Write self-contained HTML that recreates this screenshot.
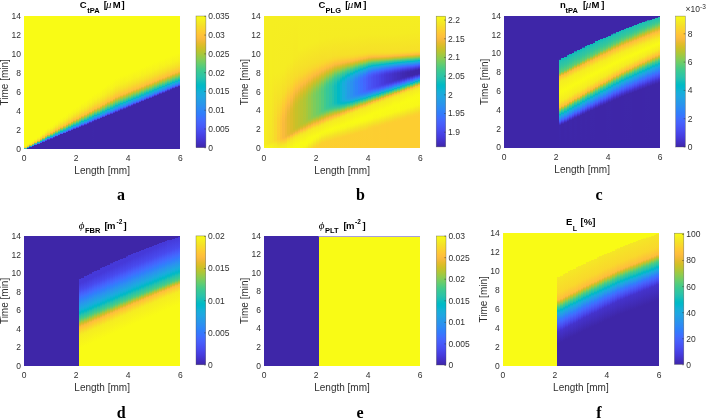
<!DOCTYPE html><html><head><meta charset="utf-8"><style>html,body{margin:0;padding:0;background:#fff;width:708px;height:418px;overflow:hidden;}svg text{font-family:'Liberation Sans',sans-serif}.hm{position:absolute;overflow:hidden}.hb{position:absolute}.hm i{position:absolute;top:0;height:100%}</style></head><body><div class="hm" style="left:24.00px;top:16.00px;width:156.30px;height:132.60px"><div class="hb" style="left:-3px;top:-3px;width:162.30px;height:138.60px"><i style="left:0.00px;width:6.41px;background:linear-gradient(#f9fb15 2.165%,#f9fb15 95.38%,#f6f020 96.1%,#f6e128 96.46%,#febe3c 96.94%,#dfbc2a 97.06%,#b3c534 97.18%,#7fcc5a 97.3%,#48cb86 97.42%,#22c1b0 97.54%,#0ab4d2 97.66%,#259ce7 97.78%,#259ce7 97.84%)"></i><i style="left:5.61px;width:3.41px;background:linear-gradient(#f9fb15 2.165%,#f9fb15 94.31%,#f6f11f 95.03%,#f6de29 95.5%,#fec13a 95.98%,#ebba32 96.1%,#c8c129 96.22%,#9dc943 96.34%,#6ecd67 96.46%,#3eca8f 96.58%,#1ec0b2 96.7%,#07b5cf 96.82%,#22a1e4 96.94%,#2d89f5 97.06%,#4562fc 97.18%,#4434ce 97.3%,#3e26a8 97.42%,#3e26a8 97.84%)"></i><i style="left:8.21px;width:3.40px;background:linear-gradient(#f9fb15 2.165%,#f9fb15 93.11%,#f6f21e 93.95%,#f5e227 94.43%,#fec239 95.03%,#f4ba39 95.14%,#d7be28 95.26%,#b4c533 95.38%,#62cd71 95.62%,#39c895 95.74%,#1cc0b4 95.86%,#05b6ce 95.98%,#20a5e2 96.1%,#2c90f0 96.22%,#3876fe 96.34%,#484aed 96.46%,#3e26a8 96.58%,#3e26a8 97.84%)"></i><i style="left:10.81px;width:3.41px;background:linear-gradient(#f9fb15 2.165%,#f9fb15 92.04%,#f7f41c 92.75%,#f5e825 93.23%,#f6e128 93.47%,#fec934 93.95%,#fec338 94.07%,#f9bb3d 94.19%,#e2bc2c 94.31%,#c5c22a 94.43%,#a3c83f 94.55%,#58cc79 94.79%,#35c79a 94.91%,#1abfb5 95.03%,#04b6cd 95.14%,#1ea8e0 95.26%,#2f80fa 95.5%,#475dfa 95.62%,#4537d5 95.74%,#3e26a8 95.86%,#3e26a8 97.84%)"></i><i style="left:13.42px;width:3.40px;background:linear-gradient(#f9fb15 2.165%,#f9fb15 90.6%,#f6f11f 91.68%,#f6de29 92.39%,#fdce31 92.75%,#febd3c 93.11%,#edba33 93.23%,#d6be28 93.35%,#bcc42f 93.47%,#9dc943 93.59%,#5dcc75 93.83%,#3cc991 93.95%,#29c3aa 94.07%,#07bcbf 94.19%,#0db3d3 94.31%,#1fa5e2 94.43%,#2895ec 94.55%,#2e84f9 94.67%,#4368fe 94.79%,#4747eb 94.91%,#402ab3 95.03%,#3e26a8 95.14%,#3e26a8 97.84%)"></i><i style="left:16.02px;width:3.41px;background:linear-gradient(#f9fb15 2.165%,#f9fb15 89.05%,#f7f31d 90.12%,#f5e128 90.96%,#fec13a 91.92%,#f6ba3b 92.04%,#e5bb2d 92.16%,#d1bf27 92.27%,#bac430 92.39%,#a1c840 92.51%,#6bcd69 92.75%,#37c897 92.99%,#28c2ab 93.11%,#0bbdbd 93.23%,#05b6cd 93.35%,#1aacdd 93.47%,#2b92ee 93.71%,#2e83f9 93.83%,#406dfe 93.95%,#4851f3 94.07%,#4536d4 94.19%,#3e26a8 94.31%,#3e26a8 97.84%)"></i><i style="left:18.63px;width:3.41px;background:linear-gradient(#f9fb15 2.165%,#f9fb15 87.37%,#f7f41c 88.57%,#f5e327 89.52%,#fec834 90.48%,#fec239 90.72%,#fabc3d 90.84%,#debc2a 91.08%,#cdc028 91.2%,#b9c431 91.32%,#a3c83f 91.44%,#5fcd73 91.8%,#46cb87 91.92%,#27c2ac 92.16%,#0ebdbb 92.27%,#01b8c9 92.39%,#13b0d7 92.51%,#1ea6e1 92.63%,#2c8ff0 92.87%,#2e83f9 92.99%,#3d70ff 93.11%,#4758f8 93.23%,#4740e4 93.35%,#412dbc 93.47%,#3e26a8 93.59%,#3e26a8 97.84%)"></i><i style="left:21.23px;width:3.41px;background:linear-gradient(#f9fb15 2.165%,#f9fb15 85.7%,#f7f41c 87.13%,#f5e924 87.85%,#f6df29 88.45%,#fdcb32 89.17%,#fdbd3d 89.64%,#f4ba3a 89.76%,#e8bb2e 89.88%,#d9bd28 90%,#c9c129 90.12%,#b8c431 90.24%,#7dcc5b 90.6%,#56cc7b 90.84%,#40ca8d 90.96%,#26c2ac 91.2%,#11beba 91.32%,#01b9c6 91.44%,#1aabdd 91.68%,#2c8ef2 92.04%,#2f82f9 92.16%,#3a73fe 92.27%,#465dfb 92.39%,#4849ed 92.51%,#4535d2 92.63%,#3e26a8 92.75%,#3e26a8 97.84%)"></i><i style="left:23.84px;width:3.41px;background:linear-gradient(#f9fb15 2.165%,#f9fb15 84.02%,#f6f01f 85.94%,#f6df29 87.13%,#febf3b 88.45%,#f9ba3d 88.57%,#e2bc2b 88.81%,#d5be28 88.93%,#c7c12a 89.05%,#b7c532 89.17%,#60cd72 89.76%,#3cc992 90%,#31c6a0 90.12%,#26c2ad 90.24%,#02bac4 90.48%,#06b5cf 90.6%,#16afd9 90.72%,#1ea7e1 90.84%,#2d8cf3 91.2%,#2f82f9 91.32%,#3875fe 91.44%,#4562fc 91.56%,#484ff2 91.68%,#463de0 91.8%,#422ec0 91.92%,#3e26a8 92.04%,#3e26a8 97.84%)"></i><i style="left:26.45px;width:3.41px;background:linear-gradient(#f9fb15 2.165%,#f9fb15 82.59%,#f6f01f 84.62%,#f6df29 85.94%,#fec03b 87.37%,#fabb3d 87.49%,#dabd28 87.85%,#cdc028 87.97%,#c0c32d 88.09%,#a1c840 88.33%,#60cd72 88.81%,#3eca8f 89.05%,#2ac3a9 89.28%,#08bcbf 89.52%,#01b8c9 89.64%,#19addc 89.88%,#2d8df3 90.36%,#3579fd 90.6%,#4367fd 90.72%,#4756f6 90.84%,#4745e9 90.96%,#4535d2 91.08%,#3e27aa 91.2%,#3e26a8 97.84%)"></i><i style="left:29.05px;width:3.40px;background:linear-gradient(#f9fb15 2.165%,#f9fb15 81.15%,#f7f41c 83.07%,#f5e924 84.02%,#f6e028 84.74%,#feca33 85.82%,#fbbc3d 86.41%,#f4ba39 86.53%,#ebba31 86.65%,#d5be28 86.89%,#bbc42f 87.13%,#9ec942 87.37%,#61cd71 87.85%,#41ca8c 88.09%,#23c1af 88.45%,#02bbc3 88.69%,#03b7cc 88.81%,#1aabdd 89.05%,#2895ec 89.4%,#327cfc 89.76%,#416cfe 89.88%,#475bfa 90%,#484cef 90.12%,#463cdf 90.24%,#3e26a8 90.48%,#3e26a8 97.84%)"></i><i style="left:31.66px;width:3.40px;background:linear-gradient(#f9fb15 2.165%,#f9fb15 79.84%,#f7f31d 81.87%,#f5e924 82.83%,#f6e028 83.54%,#feca33 84.74%,#fdbd3d 85.34%,#f7ba3c 85.46%,#dbbd29 85.82%,#c4c22b 86.06%,#aac73a 86.3%,#63cd70 86.89%,#39c895 87.25%,#28c3ab 87.49%,#0abdbd 87.73%,#01b9c6 87.85%,#06b5cf 87.97%,#14b0d8 88.09%,#1caadf 88.21%,#2c8ef2 88.69%,#317dfc 88.93%,#3d70ff 89.05%,#4661fc 89.17%,#4852f4 89.28%,#4743e7 89.4%,#4536d3 89.52%,#402ab5 89.64%,#3e26a8 89.76%,#3e26a8 97.84%)"></i><i style="left:34.26px;width:3.41px;background:linear-gradient(#f9fb15 2.165%,#f9fb15 78.4%,#f7f31c 80.55%,#f5ea24 81.51%,#f6df29 82.47%,#febe3c 84.26%,#f9bb3d 84.38%,#e0bc2a 84.74%,#d6be28 84.86%,#c0c32d 85.1%,#9ac945 85.46%,#58cc79 86.06%,#3cc992 86.3%,#22c1b0 86.65%,#04bbc1 86.89%,#01b8ca 87.01%,#16afda 87.25%,#1da9e0 87.37%,#2e87f7 87.97%,#307ffb 88.09%,#4465fd 88.33%,#4849ed 88.57%,#463cde 88.69%,#3e26a8 88.93%,#3e26a8 97.84%)"></i><i style="left:36.87px;width:3.40px;background:linear-gradient(#f9fb15 2.165%,#f9fb15 76.97%,#f6ef20 79.72%,#f6e028 81.27%,#fec03b 83.19%,#f4ba3a 83.43%,#dbbd29 83.78%,#d2bf27 83.9%,#bcc42f 84.14%,#a5c83e 84.38%,#5acc78 85.1%,#3eca8f 85.34%,#27c2ac 85.7%,#0bbdbd 85.94%,#02bac5 86.06%,#03b6cc 86.18%,#18addb 86.41%,#2895ec 86.89%,#2f80fa 87.25%,#3677fe 87.37%,#4269fe 87.49%,#475cfa 87.61%,#4742e6 87.85%,#4536d3 87.97%,#412cba 88.09%,#3e26a8 88.21%,#3e26a8 97.84%)"></i><i style="left:39.47px;width:3.41px;background:linear-gradient(#f9fb15 2.165%,#f9fb15 75.65%,#f7f31d 78.04%,#f5e825 79.24%,#f6e028 80.08%,#feca34 81.51%,#fcbd3d 82.23%,#f7ba3c 82.35%,#e0bc2a 82.71%,#cec028 82.95%,#c4c22b 83.07%,#a2c83f 83.43%,#5bcc76 84.14%,#41ca8c 84.38%,#2bc3a8 84.74%,#06bcc0 85.1%,#01b9c8 85.22%,#06b5cf 85.34%,#19acdc 85.58%,#2895ec 86.06%,#337afd 86.53%,#406dfe 86.65%,#4854f5 86.89%,#463bdd 87.13%,#4331c8 87.25%,#3e26a8 87.37%,#3e26a8 97.84%)"></i><i style="left:42.08px;width:3.40px;background:linear-gradient(#f9fb15 2.165%,#f9fb15 74.22%,#f7f31c 76.73%,#f5e924 77.92%,#f6df29 79%,#fec934 80.44%,#fdbd3d 81.15%,#f9bb3d 81.27%,#dcbd29 81.75%,#d3bf27 81.87%,#c0c32d 82.11%,#a0c841 82.47%,#5dcc75 83.19%,#3ac993 83.54%,#26c2ad 83.9%,#02bac3 84.26%,#01b8ca 84.38%,#1aabdd 84.74%,#259be8 85.1%,#327cfc 85.7%,#3d70ff 85.82%,#4758f8 86.06%,#4741e5 86.3%,#4536d4 86.41%,#3e26a8 86.65%,#3e26a8 97.84%)"></i><i style="left:44.68px;width:3.40px;background:linear-gradient(#f9fb15 2.165%,#f9fb15 72.78%,#f7f41c 75.41%,#f5ee21 76.13%,#f6e028 77.8%,#febe3c 80.08%,#f5ba3a 80.32%,#e7bb2e 80.55%,#d8be28 80.79%,#cfc028 80.91%,#bdc32e 81.15%,#9fc942 81.51%,#5ecd74 82.23%,#3dc991 82.59%,#29c3aa 82.95%,#07bcbf 83.31%,#01b9c6 83.43%,#04b6cc 83.54%,#1baade 83.9%,#2c8ff0 84.5%,#317dfc 84.86%,#4367fd 85.1%,#475cfa 85.22%,#4746ea 85.46%,#463bdd 85.58%,#4332c9 85.7%,#3f28af 85.82%,#3e26a8 85.94%,#3e26a8 97.84%)"></i><i style="left:47.28px;width:3.41px;background:linear-gradient(#f9fb15 2.165%,#f9fb15 71.35%,#f6f020 74.7%,#f6e028 76.61%,#febf3b 79%,#f7ba3c 79.24%,#dcbd29 79.72%,#c3c22b 80.08%,#9dc943 80.55%,#55cc7b 81.39%,#3fca8e 81.63%,#25c2ae 82.11%,#03bbc2 82.47%,#01b8c8 82.59%,#06b5cf 82.71%,#18aedb 82.95%,#2c90f0 83.66%,#317efb 84.02%,#416bfe 84.26%,#4755f6 84.5%,#4740e3 84.74%,#4536d4 84.86%,#3e26a8 85.1%,#3e26a8 97.84%)"></i><i style="left:49.89px;width:3.40px;background:linear-gradient(#f9fb15 2.165%,#f9fb15 70.03%,#f7f31d 73.02%,#f6e128 75.41%,#fec03a 77.92%,#f9ba3d 78.16%,#e7bb2e 78.52%,#d9be28 78.76%,#c0c32d 79.12%,#9bc944 79.6%,#57cc7a 80.44%,#41ca8c 80.67%,#28c3ab 81.15%,#09bcbe 81.51%,#02bac5 81.63%,#02b7cb 81.75%,#19addc 82.11%,#2895ec 82.71%,#307ffb 83.19%,#3579fd 83.31%,#3f6efe 83.43%,#4759f8 83.66%,#4745e9 83.9%,#463bdc 84.02%,#402bb6 84.26%,#3e26a8 84.38%,#3e26a8 97.84%)"></i><i style="left:52.49px;width:3.41px;background:linear-gradient(#f9fb15 2.165%,#f9fb15 68.6%,#f7f31c 71.71%,#f5ee21 72.42%,#f6e028 74.34%,#febe3c 76.97%,#f6ba3c 77.21%,#e4bb2c 77.57%,#d7be28 77.8%,#bfc32d 78.16%,#9cc944 78.64%,#5acc77 79.48%,#3cc991 79.84%,#25c2ae 80.32%,#06bcc0 80.67%,#01b9c6 80.79%,#03b7cc 80.91%,#19acdc 81.27%,#2b90ef 81.99%,#2f81fa 82.35%,#337bfc 82.47%,#3d71ff 82.59%,#4466fd 82.71%,#4853f5 82.95%,#473fe3 83.19%,#422fc2 83.43%,#3e26a8 83.54%,#3e26a8 97.84%)"></i><i style="left:55.10px;width:3.40px;background:linear-gradient(#f9fb15 2.165%,#f9fb15 67.28%,#f7f31c 70.51%,#f6e028 73.26%,#fec03b 75.89%,#f9bb3d 76.13%,#dcbd29 76.73%,#cdc028 76.97%,#bec32e 77.21%,#9cc944 77.68%,#5ccc75 78.52%,#3fca8e 78.88%,#28c3aa 79.36%,#03bbc2 79.84%,#01b8c8 79.96%,#05b6cd 80.08%,#1aacdd 80.44%,#2b91ef 81.15%,#327cfc 81.63%,#426afe 81.87%,#4756f7 82.11%,#4744e8 82.35%,#463bdc 82.47%,#3e26a8 82.83%,#3e26a8 97.84%)"></i><i style="left:57.70px;width:3.41px;background:linear-gradient(#f9fb15 2.165%,#f9fb15 65.97%,#f7f31d 69.31%,#f5ea24 70.75%,#f6df29 72.18%,#febe3c 74.93%,#f7ba3c 75.17%,#e6bb2d 75.53%,#dabd28 75.77%,#c5c22a 76.13%,#a4c83e 76.61%,#5ecd74 77.57%,#42ca8b 77.92%,#25c2ad 78.52%,#02bac4 79%,#01b8ca 79.12%,#1aabdd 79.6%,#2896eb 80.2%,#317dfb 80.79%,#406cfe 81.03%,#475af9 81.27%,#4848ec 81.51%,#4537d5 81.75%,#4230c4 81.87%,#3e27ac 81.99%,#3e26a8 82.11%,#3e26a8 97.84%)"></i><i style="left:60.31px;width:3.40px;background:linear-gradient(#f9fb15 2.165%,#f9fb15 64.65%,#f6ef20 68.72%,#f6e028 70.99%,#fec03b 73.86%,#f9bb3d 74.1%,#e4bb2c 74.58%,#d8be28 74.81%,#c3c22b 75.17%,#a4c83e 75.65%,#59cc79 76.73%,#3dc990 77.09%,#29c3aa 77.57%,#06bcc0 78.04%,#01b9c6 78.16%,#02b7cb 78.28%,#1babde 78.76%,#2796eb 79.36%,#307ffb 79.96%,#3e6fff 80.2%,#465dfa 80.44%,#4743e7 80.79%,#4433cd 81.03%,#3e26a8 81.27%,#3e26a8 97.84%)"></i><i style="left:62.91px;width:3.40px;background:linear-gradient(#f9fb15 2.165%,#f9fb15 63.33%,#f7f31c 66.8%,#f5e924 68.48%,#f6e029 69.91%,#febe3c 72.9%,#f7ba3c 73.14%,#dcbd29 73.74%,#d0bf27 73.98%,#c2c22c 74.22%,#9cc944 74.81%,#5bcc77 75.77%,#40ca8d 76.13%,#26c2ad 76.73%,#0abdbd 77.09%,#03bbc2 77.21%,#01b9c7 77.33%,#03b7cc 77.45%,#12b1d6 77.68%,#1baade 77.92%,#2c8ef2 78.76%,#337bfd 79.24%,#4269fe 79.48%,#484ff2 79.84%,#473ee2 80.08%,#4537d5 80.2%,#3f29b2 80.44%,#3e26a8 80.55%,#3e26a8 97.84%)"></i><i style="left:65.52px;width:3.41px;background:linear-gradient(#f9fb15 2.165%,#f9fb15 61.9%,#f6ef20 66.32%,#f6e028 68.72%,#febf3b 71.82%,#f9bb3d 72.06%,#dbbd28 72.78%,#cec028 73.02%,#c1c32c 73.26%,#9cc944 73.86%,#5dcc75 74.81%,#3cc991 75.29%,#23c1af 75.89%,#02bac4 76.37%,#05b6cd 76.61%,#18addb 76.97%,#2797eb 77.68%,#327cfc 78.4%,#416cfe 78.64%,#4853f5 79%,#4742e6 79.24%,#4434ce 79.48%,#412ebe 79.6%,#3e26a8 79.72%,#3e26a8 97.84%)"></i><i style="left:68.12px;width:3.41px;background:linear-gradient(#f9fb15 2.165%,#f9fb15 60.58%,#f7f31d 64.41%,#f5e924 66.2%,#f6e028 67.64%,#febe3c 70.87%,#f7ba3d 71.11%,#e4bb2c 71.59%,#d9be28 71.82%,#c0c32d 72.3%,#9cc944 72.9%,#58cc79 73.98%,#3eca8f 74.34%,#26c2ac 74.93%,#0dbdbc 75.29%,#01bac5 75.53%,#01b8ca 75.65%,#19addc 76.13%,#2797eb 76.85%,#317dfc 77.57%,#3f6eff 77.8%,#465efb 78.04%,#4746ea 78.4%,#4537d6 78.64%,#3e26a8 79%,#3e26a8 97.84%)"></i><i style="left:70.73px;width:3.40px;background:linear-gradient(#f9fb15 2.165%,#f9fb15 59.27%,#f6ef20 63.93%,#f6df29 66.56%,#febf3b 69.79%,#f5ba3b 70.15%,#ddbd29 70.75%,#c5c22a 71.23%,#a3c83f 71.82%,#5acc78 73.02%,#41ca8c 73.38%,#24c1af 74.1%,#0abdbd 74.46%,#01b9c7 74.7%,#02b7cb 74.81%,#19acdc 75.29%,#2c8ff1 76.25%,#317efb 76.73%,#4368fe 77.09%,#4759f8 77.33%,#4742e6 77.68%,#463adc 77.8%,#422ec0 78.04%,#3e27a9 78.16%,#3e26a8 97.84%)"></i><i style="left:73.33px;width:3.41px;background:linear-gradient(#f9fb15 2.165%,#f9fb15 57.95%,#f7f31d 62.02%,#f6e028 65.37%,#fec03a 68.72%,#f8ba3d 69.07%,#efba35 69.31%,#dbbd29 69.79%,#c4c22b 70.27%,#a3c83f 70.87%,#62cd71 71.94%,#3dc990 72.54%,#27c2ac 73.14%,#02bac4 73.74%,#04b6cc 73.98%,#1aacdd 74.46%,#2797eb 75.17%,#307ffb 75.89%,#337bfd 76.01%,#416bfe 76.25%,#4854f5 76.61%,#463ee1 76.97%,#4331c8 77.21%,#3e26a8 77.45%,#3e26a8 97.84%)"></i><i style="left:75.94px;width:3.41px;background:linear-gradient(#f9fb15 2.165%,#f9fb15 56.64%,#f7f31c 60.7%,#f5ee21 61.66%,#f6e028 64.29%,#febf3c 67.76%,#f6ba3b 68.12%,#dabd28 68.84%,#c3c22b 69.31%,#a3c83f 69.91%,#5dcc75 71.11%,#3fca8e 71.59%,#24c1ae 72.3%,#0cbdbc 72.66%,#02bac5 72.9%,#05b6cd 73.14%,#1aabdd 73.62%,#2797eb 74.34%,#327cfc 75.17%,#406dfe 75.41%,#4757f7 75.77%,#4741e5 76.13%,#4434cf 76.37%,#3f28af 76.61%,#3e26a8 76.73%,#3e26a8 97.84%)"></i><i style="left:78.55px;width:3.41px;background:linear-gradient(#f9fb15 2.165%,#f9fb15 55.2%,#f7f31d 59.51%,#f6e028 63.09%,#fec03b 66.68%,#f8ba3d 67.04%,#e7bb2e 67.52%,#d8be28 67.88%,#c2c22c 68.36%,#9cc944 69.07%,#59cc79 70.27%,#42ca8c 70.63%,#27c2ac 71.35%,#09bdbe 71.82%,#01b9c6 72.06%,#01b7ca 72.18%,#1babde 72.78%,#2797ea 73.5%,#317dfc 74.34%,#3e6fff 74.58%,#475af9 74.93%,#4745e9 75.29%,#4537d6 75.53%,#412dbb 75.77%,#3e26a8 75.89%,#3e26a8 97.84%)"></i><i style="left:81.15px;width:3.40px;background:linear-gradient(#f9fb15 2.165%,#f9fb15 53.89%,#f6ef20 59.15%,#f6e028 62.02%,#febf3c 65.73%,#f6ba3b 66.08%,#dcbd29 66.8%,#d2bf27 67.04%,#c1c32c 67.4%,#9cc944 68.12%,#5acc77 69.31%,#3eca8f 69.79%,#25c2ae 70.51%,#02bac3 71.11%,#03b7cb 71.35%,#18addb 71.82%,#2994ed 72.78%,#317efb 73.5%,#426afe 73.86%,#4755f6 74.22%,#4741e5 74.58%,#4435d0 74.81%,#3e26a8 75.17%,#3e26a8 97.84%)"></i><i style="left:83.75px;width:3.41px;background:linear-gradient(#f9fb15 2.165%,#f9fb15 52.57%,#f6ef20 57.95%,#f6e028 60.82%,#febf3b 64.65%,#f8ba3d 65.01%,#f0ba36 65.25%,#dabd28 65.85%,#c6c22a 66.32%,#a2c840 67.04%,#61cd71 68.24%,#3fca8e 68.84%,#27c2ab 69.55%,#0bbdbd 70.03%,#02bac5 70.27%,#04b6cd 70.51%,#19addc 70.99%,#2994ed 71.94%,#307efb 72.66%,#337afd 72.78%,#406cfe 73.02%,#4758f8 73.38%,#4744e8 73.74%,#4332ca 74.1%,#412dbd 74.22%,#3e26a8 74.34%,#3e26a8 97.84%)"></i><i style="left:86.36px;width:3.41px;background:linear-gradient(#f9fb15 2.165%,#f9fb15 51.14%,#f6ef20 56.64%,#f6e028 59.75%,#fec03b 63.57%,#f8ba3d 63.93%,#e5bb2d 64.53%,#d3bf27 65.01%,#c3c22b 65.37%,#acc738 65.85%,#61cd71 67.28%,#41ca8d 67.88%,#24c1ae 68.72%,#03bbc3 69.31%,#01b7ca 69.55%,#19acdc 70.15%,#2797ea 70.99%,#327bfc 71.94%,#3f6eff 72.18%,#4854f5 72.66%,#4740e4 73.02%,#4435d1 73.26%,#3e26a8 73.62%,#3e26a8 97.84%)"></i><i style="left:88.97px;width:3.40px;background:linear-gradient(#f9fb15 2.165%,#f9fb15 49.7%,#f7f41c 54.36%,#f5e924 56.64%,#f6e028 58.55%,#fccf30 60.58%,#febe3c 62.62%,#f9bb3d 62.86%,#eeba34 63.21%,#debd29 63.69%,#d0bf27 64.05%,#c6c22a 64.29%,#aac73a 64.89%,#61cd71 66.32%,#42ca8c 66.92%,#26c2ad 67.76%,#0bbdbd 68.24%,#02bac4 68.48%,#03b7cc 68.72%,#1aabdd 69.31%,#2797eb 70.15%,#327cfc 71.11%,#3e70ff 71.35%,#475cfa 71.71%,#4743e7 72.18%,#4432cb 72.54%,#422ebe 72.66%,#3e28ac 72.78%,#3e26a8 72.9%,#3e26a8 97.84%)"></i><i style="left:91.57px;width:3.41px;background:linear-gradient(#f9fb15 2.165%,#f9fb15 48.27%,#f7f31d 53.17%,#f5e924 55.44%,#f6e028 57.35%,#febe3c 61.54%,#f6ba3c 61.9%,#e4bb2c 62.5%,#d2bf27 62.98%,#c3c22b 63.33%,#aec637 63.81%,#62cd71 65.37%,#3dc990 66.08%,#23c1af 66.92%,#03bbc2 67.52%,#01b8ca 67.76%,#18addb 68.36%,#269ae9 69.19%,#317dfc 70.27%,#3c71ff 70.51%,#465efb 70.87%,#4746ea 71.35%,#4435d1 71.71%,#412cb9 71.94%,#3e26a8 72.06%,#3e26a8 97.84%)"></i><i style="left:94.17px;width:3.41px;background:linear-gradient(#f9fb15 2.165%,#f9fb15 46.83%,#f7f31d 51.85%,#f6e028 56.16%,#fec03a 60.34%,#f7ba3c 60.82%,#e5bb2d 61.42%,#d0c028 62.02%,#c6c22a 62.26%,#acc738 62.86%,#62cd71 64.41%,#3eca8f 65.13%,#25c2ae 65.97%,#0bbdbd 66.44%,#02bac4 66.68%,#02b7cb 66.92%,#1baade 67.64%,#2b91ef 68.72%,#2f81fa 69.31%,#3479fd 69.55%,#3b73fe 69.67%,#4466fd 69.91%,#475af9 70.15%,#4742e6 70.63%,#4537d6 70.87%,#422ec0 71.11%,#3f29b1 71.23%,#3e26a8 71.35%,#3e26a8 97.84%)"></i><i style="left:96.78px;width:3.41px;background:linear-gradient(#f9fb15 2.165%,#f9fb15 45.99%,#f7f31c 51.02%,#f5ef20 52.09%,#f6e028 55.32%,#febf3b 59.63%,#f8ba3d 59.99%,#e7bb2d 60.58%,#d1bf27 61.18%,#c3c22b 61.54%,#a9c73b 62.14%,#64cd6f 63.57%,#40ca8d 64.29%,#22c1b0 65.25%,#03bbc2 65.85%,#01b8ca 66.08%,#17aeda 66.68%,#2798ea 67.64%,#327cfc 68.72%,#3e70ff 68.95%,#4758f8 69.43%,#4740e4 69.91%,#4535d2 70.15%,#412dbb 70.39%,#3e26a8 70.51%,#3e26a8 97.84%)"></i><i style="left:99.39px;width:3.40px;background:linear-gradient(#f9fb15 2.165%,#f9fb15 45.28%,#f6ef20 51.26%,#f6e028 54.6%,#fec03a 58.79%,#f7ba3c 59.27%,#e5bb2d 59.87%,#d0c028 60.46%,#c6c22a 60.7%,#acc738 61.3%,#62cd71 62.86%,#3eca8f 63.57%,#25c2ad 64.41%,#0bbdbd 64.89%,#02bac4 65.13%,#02b7cb 65.37%,#1baade 66.08%,#2b91ef 67.16%,#2f81fa 67.76%,#347afd 68%,#3a74fe 68.12%,#4561fc 68.48%,#4743e7 69.07%,#4433cd 69.43%,#3e26a8 69.79%,#3e26a8 97.84%)"></i><i style="left:101.99px;width:3.41px;background:linear-gradient(#f9fb15 2.165%,#f9fb15 44.44%,#f5ef20 50.54%,#f6e028 53.77%,#febf3b 58.07%,#f9ba3d 58.43%,#e3bc2c 59.15%,#d2bf27 59.63%,#c4c22b 59.99%,#aac73a 60.58%,#65cd6e 62.02%,#41ca8c 62.74%,#23c1af 63.69%,#09bcbe 64.17%,#01bac5 64.41%,#03b6cc 64.65%,#1aacdd 65.25%,#2699e9 66.08%,#327cfc 67.16%,#3c71ff 67.4%,#465efb 67.76%,#4747eb 68.24%,#4536d4 68.6%,#412dbd 68.84%,#3e27ab 68.95%,#3e26a8 69.07%,#3e26a8 97.84%)"></i><i style="left:104.59px;width:3.41px;background:linear-gradient(#f9fb15 2.165%,#f9fb15 43.72%,#f7f31d 48.74%,#f6e028 53.05%,#fec13a 57.24%,#f7ba3d 57.71%,#e6bb2d 58.31%,#d0bf27 58.91%,#c2c22c 59.27%,#adc638 59.75%,#63cd70 61.3%,#3fca8e 62.02%,#26c2ad 62.86%,#02bac3 63.57%,#01b7ca 63.81%,#18addb 64.41%,#2798ea 65.37%,#317efb 66.32%,#3f6eff 66.68%,#475cfa 67.04%,#4744e9 67.52%,#4434cf 67.88%,#402cb8 68.12%,#3e26a8 68.24%,#3e26a8 97.84%)"></i><i style="left:107.20px;width:3.40px;background:linear-gradient(#f9fb15 2.165%,#f9fb15 42.88%,#f7f31d 48.03%,#f6e028 52.21%,#fec13a 56.4%,#f9bb3d 56.88%,#e4bb2c 57.59%,#cec028 58.19%,#c5c22a 58.43%,#abc739 59.03%,#61cd72 60.58%,#3dc990 61.3%,#24c1ae 62.14%,#0abdbe 62.62%,#02bac5 62.86%,#03b7cc 63.09%,#12b1d6 63.45%,#1caadf 63.81%,#2b90ef 64.89%,#2f80fa 65.49%,#3b72ff 65.85%,#4466fd 66.08%,#475af9 66.32%,#4742e6 66.8%,#4537d6 67.04%,#422ebf 67.28%,#3f28af 67.4%,#3e26a8 67.52%,#3e26a8 97.84%)"></i><i style="left:109.80px;width:3.41px;background:linear-gradient(#f9fb15 2.165%,#f9fb15 42.17%,#f7f31c 47.19%,#f6e028 51.49%,#fec13a 55.68%,#f8ba3d 56.16%,#e6bb2d 56.76%,#d1bf27 57.35%,#c3c22b 57.71%,#a9c73b 58.31%,#64cd6f 59.75%,#40ca8d 60.46%,#22c1b0 61.42%,#03bbc3 62.02%,#01b8ca 62.26%,#18aedb 62.86%,#2798ea 63.81%,#327bfc 64.89%,#3e6fff 65.13%,#4757f7 65.61%,#4740e3 66.08%,#4435d1 66.32%,#412cba 66.56%,#3e26a8 66.68%,#3e26a8 97.84%)"></i><i style="left:112.41px;width:3.41px;background:linear-gradient(#f9fb15 2.165%,#f9fb15 41.45%,#f6ef20 47.43%,#f6e028 50.78%,#fec03b 54.96%,#f7ba3c 55.44%,#e5bb2d 56.04%,#cfc028 56.64%,#c6c22a 56.88%,#acc739 57.47%,#62cd71 59.03%,#3eca8f 59.75%,#25c2ae 60.58%,#0bbdbd 61.06%,#02bac4 61.3%,#02b7cb 61.54%,#1baade 62.26%,#2b91ef 63.33%,#2f81fa 63.93%,#347afd 64.17%,#3a73fe 64.29%,#4661fc 64.65%,#4743e7 65.25%,#4538d7 65.49%,#3e26a8 65.97%,#3e26a8 97.84%)"></i><i style="left:115.02px;width:3.41px;background:linear-gradient(#f9fb15 2.165%,#f9fb15 40.61%,#f7f31d 45.75%,#f6e028 49.94%,#fec13a 54.13%,#f8ba3d 54.6%,#e7bb2e 55.2%,#d2bf27 55.8%,#c4c22b 56.16%,#aac73a 56.76%,#65cd6e 58.19%,#3cc991 59.03%,#23c1af 59.87%,#04bbc2 60.46%,#01b8c9 60.7%,#1aacdd 61.42%,#259ce7 62.14%,#327cfc 63.33%,#3d71ff 63.57%,#465efb 63.93%,#4747eb 64.41%,#4536d3 64.77%,#412dbc 65.01%,#3e27a9 65.13%,#3e26a8 65.25%,#3e26a8 97.84%)"></i><i style="left:117.62px;width:3.40px;background:linear-gradient(#f9fb15 2.165%,#f9fb15 39.89%,#f7f31d 44.92%,#f6e028 49.22%,#fec03a 53.41%,#f7ba3c 53.89%,#e5bb2d 54.48%,#d0bf27 55.08%,#c2c22c 55.44%,#adc638 55.92%,#62cd70 57.47%,#3fca8e 58.19%,#25c2ad 59.03%,#02bac4 59.75%,#02b7cb 59.99%,#1babde 60.7%,#2b91ef 61.78%,#2f82fa 62.38%,#337bfd 62.62%,#3974fe 62.74%,#4562fc 63.09%,#4744e8 63.69%,#4434cf 64.05%,#3e26a8 64.41%,#3e26a8 97.84%)"></i><i style="left:120.22px;width:3.41px;background:linear-gradient(#f9fb15 2.165%,#f9fb15 39.06%,#f5ef20 45.16%,#f6e028 48.51%,#fec03b 52.69%,#f9bb3d 53.05%,#e4bb2c 53.77%,#d3bf27 54.25%,#c5c22a 54.6%,#abc739 55.2%,#60cd72 56.76%,#3dc990 57.47%,#24c1af 58.31%,#09bdbe 58.79%,#02bac5 59.03%,#03b7cc 59.27%,#19acdc 59.87%,#2699e9 60.7%,#2f80fa 61.66%,#3c72ff 62.02%,#4465fd 62.26%,#4759f8 62.5%,#4742e6 62.98%,#4332ca 63.33%,#3f28ae 63.57%,#3e26a8 63.69%,#3e26a8 97.84%)"></i><i style="left:122.83px;width:3.41px;background:linear-gradient(#f9fb15 2.165%,#f9fb15 38.34%,#f7f31d 43.36%,#f6e028 47.67%,#fec13a 51.85%,#f8ba3d 52.33%,#e6bb2d 52.93%,#d1bf27 53.53%,#c3c22b 53.89%,#aec637 54.36%,#63cd6f 55.92%,#40ca8d 56.64%,#21c1b0 57.59%,#02bbc3 58.19%,#01b8ca 58.43%,#18aedb 59.03%,#2798ea 59.99%,#327bfc 61.06%,#3e6fff 61.3%,#4757f7 61.78%,#473fe3 62.26%,#412cba 62.74%,#3e26a8 62.86%,#3e26a8 97.84%)"></i><i style="left:125.44px;width:3.41px;background:linear-gradient(#f9fb15 2.165%,#f9fb15 37.62%,#f6ef20 43.6%,#f6e028 46.95%,#fec03b 51.14%,#f6ba3c 51.61%,#e4bb2c 52.21%,#cfc028 52.81%,#c5c22a 53.05%,#acc739 53.65%,#61cd71 55.2%,#3eca8f 55.92%,#24c2ae 56.76%,#0abdbd 57.24%,#02bac4 57.47%,#02b7cb 57.71%,#1baade 58.43%,#2b91ef 59.51%,#2f81fa 60.11%,#3479fd 60.34%,#3b73fe 60.46%,#4466fd 60.7%,#475af9 60.94%,#4743e7 61.42%,#4538d7 61.66%,#3e26a8 62.14%,#3e26a8 97.84%)"></i><i style="left:128.04px;width:3.41px;background:linear-gradient(#f9fb15 2.165%,#f9fb15 36.79%,#f7f31d 41.93%,#f6e028 46.11%,#fec13a 50.3%,#f8ba3d 50.78%,#e7bb2e 51.38%,#d2bf27 51.97%,#c3c22b 52.33%,#a9c73a 52.93%,#64cd6f 54.36%,#3cc991 55.2%,#22c1b0 56.04%,#03bbc2 56.64%,#01b8c9 56.88%,#17aeda 57.47%,#259be7 58.31%,#327cfc 59.51%,#3d70ff 59.75%,#4758f8 60.22%,#4740e4 60.7%,#4536d3 60.94%,#412dbc 61.18%,#3e26a8 61.3%,#3e26a8 97.84%)"></i><i style="left:130.64px;width:3.41px;background:linear-gradient(#f9fb15 2.165%,#f9fb15 36.07%,#f6ef20 42.05%,#f6e028 45.4%,#fec03a 49.58%,#f7ba3c 50.06%,#e5bb2d 50.66%,#d0bf27 51.26%,#c1c32c 51.61%,#acc738 52.09%,#62cd70 53.65%,#3eca8f 54.36%,#25c2ad 55.2%,#02bac4 55.92%,#02b7cb 56.16%,#1babde 56.88%,#2b91ef 57.95%,#2f81fa 58.55%,#337afd 58.79%,#3a74fe 58.91%,#4561fc 59.27%,#4744e8 59.87%,#4434ce 60.22%,#3e26a8 60.58%,#3e26a8 97.84%)"></i><i style="left:133.25px;width:3.41px;background:linear-gradient(#f9fb15 2.165%,#f9fb15 35.23%,#f7f31d 40.37%,#f6e028 44.56%,#fec13a 48.74%,#f9bb3d 49.22%,#e4bb2c 49.94%,#d2bf27 50.42%,#c4c22b 50.78%,#aac73a 51.38%,#65cd6e 52.81%,#3dc991 53.65%,#23c1af 54.48%,#09bcbe 54.96%,#01bac5 55.2%,#03b7cc 55.44%,#1aacdd 56.04%,#2699e9 56.88%,#327cfc 57.95%,#3c71ff 58.19%,#4465fd 58.43%,#4759f8 58.67%,#4741e5 59.15%,#4332c9 59.51%,#412ebe 59.63%,#3e28ac 59.75%,#3e26a8 59.87%,#3e26a8 97.84%)"></i><i style="left:135.85px;width:3.41px;background:linear-gradient(#f9fb15 2.165%,#f9fb15 34.51%,#f7f31d 39.54%,#f6e028 43.84%,#fec13a 48.03%,#f8ba3d 48.51%,#e6bb2d 49.1%,#d1bf27 49.7%,#c2c22c 50.06%,#adc638 50.54%,#63cd70 52.09%,#3fca8e 52.81%,#26c2ad 53.65%,#02bbc3 54.36%,#01b8ca 54.6%,#18aedb 55.2%,#2798ea 56.16%,#307efb 57.12%,#3f6fff 57.47%,#475cfa 57.83%,#4745e9 58.31%,#4435d0 58.67%,#412cb9 58.91%,#3e26a8 59.03%,#3e26a8 97.84%)"></i><i style="left:138.46px;width:3.41px;background:linear-gradient(#f9fb15 2.165%,#f9fb15 33.8%,#f6ef20 39.78%,#f6e028 43.12%,#fec03b 47.31%,#f9bb3d 47.67%,#e4bb2c 48.39%,#cfc028 48.98%,#c5c22a 49.22%,#abc739 49.82%,#61cd71 51.38%,#3dca90 52.09%,#24c1ae 52.93%,#0abdbd 53.41%,#02bac5 53.65%,#03b7cc 53.89%,#12b1d6 54.25%,#1caadf 54.6%,#2b91ef 55.68%,#2f81fa 56.28%,#3b73fe 56.64%,#4466fd 56.88%,#475af9 57.12%,#4742e6 57.59%,#4537d6 57.83%,#422ec0 58.07%,#3f29b1 58.19%,#3e26a8 58.31%,#3e26a8 97.84%)"></i><i style="left:141.06px;width:3.41px;background:linear-gradient(#f9fb15 2.165%,#f9fb15 32.96%,#f7f31c 37.98%,#f6e028 42.29%,#fec13a 46.47%,#f8ba3d 46.95%,#e7bb2d 47.55%,#d1bf27 48.15%,#c3c22b 48.51%,#a9c73b 49.1%,#64cd6f 50.54%,#40ca8d 51.26%,#22c1b0 52.21%,#03bbc2 52.81%,#01b8ca 53.05%,#17aeda 53.65%,#2698ea 54.6%,#327cfc 55.68%,#3e70ff 55.92%,#4758f8 56.4%,#4740e4 56.88%,#4535d2 57.12%,#412dbb 57.35%,#3e26a8 57.47%,#3e26a8 97.84%)"></i><i style="left:143.67px;width:3.41px;background:linear-gradient(#f9fb15 2.165%,#f9fb15 32.24%,#f6ef20 38.22%,#f6e028 41.57%,#fec03a 45.75%,#f7ba3c 46.23%,#e5bb2d 46.83%,#d0c028 47.43%,#c6c22a 47.67%,#acc738 48.27%,#62cd71 49.82%,#3eca8f 50.54%,#25c2ad 51.38%,#02bac4 52.09%,#02b7cb 52.33%,#1baade 53.05%,#2b91ef 54.13%,#2f81fa 54.72%,#347afd 54.96%,#3a74fe 55.08%,#4561fc 55.44%,#4743e7 56.04%,#4433cd 56.4%,#3e26a8 56.76%,#3e26a8 97.84%)"></i><i style="left:146.28px;width:3.41px;background:linear-gradient(#f9fb15 2.165%,#f9fb15 31.4%,#f7f31d 36.55%,#f6e028 40.73%,#fec13a 44.92%,#f9ba3d 45.4%,#e3bb2c 46.11%,#d2bf27 46.59%,#c4c22b 46.95%,#aac73a 47.55%,#65cd6e 48.98%,#41ca8c 49.7%,#23c1af 50.66%,#09bcbe 51.14%,#01bac5 51.38%,#03b6cc 51.61%,#1aacdd 52.21%,#2699e9 53.05%,#327cfc 54.13%,#3c71ff 54.36%,#465efb 54.72%,#4747eb 55.2%,#4536d4 55.56%,#412dbd 55.8%,#3e27ab 55.92%,#3e26a8 56.04%,#3e26a8 97.84%)"></i><i style="left:148.88px;width:3.41px;background:linear-gradient(#f9fb15 2.165%,#f9fb15 30.69%,#f7f31d 35.71%,#f6e028 40.01%,#fec13a 44.2%,#f8ba3d 44.68%,#e6bb2d 45.28%,#d0bf27 45.87%,#c2c22c 46.23%,#adc638 46.71%,#63cd70 48.27%,#3fca8e 48.98%,#26c2ad 49.82%,#02bac3 50.54%,#01b7ca 50.78%,#18addb 51.38%,#2798ea 52.33%,#317efb 53.29%,#3f6eff 53.65%,#475cfa 54.01%,#4744e9 54.48%,#4434cf 54.84%,#402cb8 55.08%,#3e26a8 55.2%,#3e26a8 97.84%)"></i><i style="left:151.48px;width:3.41px;background:linear-gradient(#f9fb15 2.165%,#f9fb15 29.97%,#f6ef20 35.95%,#f6e028 39.3%,#fec03b 43.48%,#f9bb3d 43.84%,#e4bb2c 44.56%,#cec028 45.16%,#c5c22a 45.4%,#abc739 45.99%,#61cd72 47.55%,#3dc990 48.27%,#24c1ae 49.1%,#0abdbd 49.58%,#02bac5 49.82%,#03b7cc 50.06%,#12b1d6 50.42%,#1caadf 50.78%,#2b90ef 51.85%,#2f80fa 52.45%,#3b72ff 52.81%,#4466fd 53.05%,#475af9 53.29%,#4742e6 53.77%,#4537d6 54.01%,#422ebf 54.25%,#3f28af 54.36%,#3e26a8 54.48%,#3e26a8 97.84%)"></i><i style="left:154.09px;width:3.41px;background:linear-gradient(#f9fb15 2.165%,#f9fb15 29.13%,#f7f31c 34.15%,#f6e028 38.46%,#fec13a 42.65%,#f8ba3d 43.12%,#e6bb2d 43.72%,#d1bf27 44.32%,#c3c22b 44.68%,#a9c73b 45.28%,#64cd6f 46.71%,#40ca8d 47.43%,#22c1b0 48.39%,#03bbc3 48.98%,#01b8ca 49.22%,#17aedb 49.82%,#2798ea 50.78%,#327bfc 51.85%,#3e6fff 52.09%,#4757f7 52.57%,#4740e3 53.05%,#4435d1 53.29%,#412cba 53.53%,#3e26a8 53.65%,#3e26a8 97.84%)"></i><i style="left:156.69px;width:5.61px;background:linear-gradient(#f9fb15 2.165%,#f9fb15 28.41%,#f6ef20 34.39%,#f6e028 37.74%,#fec03b 41.93%,#f7ba3c 42.41%,#e5bb2d 43%,#cfc028 43.6%,#c6c22a 43.84%,#acc738 44.44%,#62cd71 45.99%,#3eca8f 46.71%,#25c2ae 47.55%,#0bbdbd 48.03%,#02bac4 48.27%,#02b7cb 48.51%,#1baade 49.22%,#2b91ef 50.3%,#2f81fa 50.9%,#347afd 51.14%,#3a73fe 51.26%,#4661fc 51.61%,#4743e7 52.21%,#4538d7 52.45%,#3e26a8 52.93%,#3e26a8 97.84%)"></i></div></div><div class="hm" style="left:263.90px;top:15.80px;width:156.50px;height:132.70px"><div class="hb" style="left:-3px;top:-3px;width:162.50px;height:138.70px"><i style="left:0.00px;width:6.41px;background:linear-gradient(#f5ee21 2.163%,#f5ec22 95.39%,#f8f917 97.84%)"></i><i style="left:5.61px;width:3.41px;background:linear-gradient(#f5ee21 2.163%,#f5e825 94.55%,#f7f41c 96.82%,#f7f61a 97.84%)"></i><i style="left:8.22px;width:3.41px;background:linear-gradient(#f5ee21 2.163%,#f5ee21 43.48%,#f5e526 93.83%,#f6f21e 96.22%,#f7f31d 97.84%)"></i><i style="left:10.82px;width:3.41px;background:linear-gradient(#f5ee21 2.163%,#f5ed21 42.76%,#f5e228 79%,#f6e128 92.99%,#f5ee21 95.51%,#f6f21e 97.84%)"></i><i style="left:13.43px;width:3.41px;background:linear-gradient(#f5ee21 2.163%,#f5ed22 42.88%,#f8da2b 79.24%,#f8d92b 92.28%,#f5e825 94.79%,#f6f020 97.84%)"></i><i style="left:16.04px;width:3.41px;background:linear-gradient(#f5ee21 2.163%,#f5ed22 43%,#f5e227 61.42%,#fccf30 78.88%,#fdcd31 91.44%,#f5e327 95.15%,#f6ef20 97.84%)"></i><i style="left:18.65px;width:3.41px;background:linear-gradient(#f5ee21 2.163%,#f5ec22 42.76%,#f6e029 60.34%,#fec438 78.28%,#fec239 90.72%,#fec636 91.68%,#f5e227 95.27%,#f6f020 97.84%)"></i><i style="left:21.26px;width:3.41px;background:linear-gradient(#f5ee21 2.163%,#f5ec22 41.21%,#f6dd29 58.55%,#fec934 68.48%,#febe3c 74.94%,#f9bb3d 79.84%,#f9bb3d 90%,#fdbd3d 90.96%,#fec437 91.68%,#f5e825 95.74%,#f5ef20 97.84%)"></i><i style="left:23.87px;width:3.41px;background:linear-gradient(#f5ee21 2.163%,#f5ec22 38.58%,#f7dd2a 55.56%,#fec338 66.68%,#f8ba3d 72.18%,#f0ba36 77.33%,#f0ba36 89.29%,#f8ba3d 90.24%,#fec338 91.2%,#f5e825 95.15%,#f6f020 97.84%)"></i><i style="left:26.48px;width:3.41px;background:linear-gradient(#f5ee21 2.163%,#f5ec22 36.07%,#f7dc2a 52.81%,#fec338 62.74%,#febe3c 64.89%,#f8ba3d 67.28%,#ebba32 71.71%,#e6bb2d 75.29%,#e6bb2d 87.49%,#efba36 88.93%,#f8ba3d 89.41%,#febf3b 89.88%,#fcd130 91.08%,#f5e924 93.59%,#f7f61a 97.84%)"></i><i style="left:29.08px;width:3.41px;background:linear-gradient(#f5ee21 2.163%,#f5eb23 35.11%,#f7dc2a 50.06%,#fccf30 55.32%,#febe3c 61.06%,#f8ba3d 63.1%,#e2bc2b 69.19%,#dcbd29 73.26%,#dcbd29 85.82%,#e7bb2d 87.37%,#f0ba36 88.09%,#f8ba3d 88.45%,#febd3c 88.81%,#fec338 89.17%,#f9d72d 90.36%,#f5e924 92.28%,#f9f916 97.84%)"></i><i style="left:31.69px;width:3.41px;background:linear-gradient(#f5ee21 2.163%,#f5ea23 32.96%,#f7dc2a 47.31%,#fccf30 52.33%,#febe3c 57.59%,#f8ba3d 59.39%,#e7bb2e 63.1%,#dcbd29 65.49%,#d4bf28 68.24%,#d1bf27 70.75%,#d1bf27 84.38%,#ddbd29 85.82%,#f0ba36 87.13%,#f7ba3d 87.49%,#febf3b 87.97%,#f8da2b 89.53%,#f5ea24 91.2%,#f8f818 95.86%,#f9fb15 97.84%)"></i><i style="left:34.30px;width:3.41px;background:linear-gradient(#f5ee21 2.163%,#f5ea23 31.4%,#f7dd2a 45.4%,#fccf30 50.18%,#febe3c 55.08%,#f8ba3d 56.76%,#e7bb2d 60.11%,#dcbd29 62.14%,#ccc028 65.85%,#c8c129 68.84%,#c8c129 83.07%,#cec028 83.9%,#dcbd29 84.98%,#f0ba36 86.18%,#f9bb3d 86.66%,#febe3c 87.01%,#f7dc2a 88.69%,#f5eb23 90.36%,#f8f917 95.15%,#f9fb15 97.84%)"></i><i style="left:36.91px;width:3.41px;background:linear-gradient(#f5ee21 2.163%,#f5ed22 26.26%,#f6df29 42.17%,#f9d62d 46.59%,#febe3c 53.41%,#f8ba3d 54.96%,#e7bb2d 57.95%,#dcbd29 59.75%,#c7c12a 63.93%,#c0c32d 67.4%,#c0c32d 81.75%,#c9c129 82.83%,#dbbd29 84.02%,#f0ba36 85.22%,#f8ba3d 85.7%,#febf3b 86.18%,#f6dd29 87.85%,#f5eb23 89.41%,#f8f917 94.31%,#f9fb15 97.84%)"></i><i style="left:39.52px;width:3.41px;background:linear-gradient(#f5ee21 2.163%,#f5ed22 25.18%,#f6df29 40.97%,#f9d62d 45.28%,#febe3c 51.61%,#f8ba3d 53.05%,#e6bb2d 55.92%,#dcbd29 57.47%,#d1bf27 59.27%,#bbc430 63.93%,#b8c431 80.08%,#bec32e 81.27%,#d1bf27 82.59%,#e5bb2d 83.67%,#f0ba36 84.26%,#f8ba3d 84.74%,#febf3c 85.22%,#f6e028 87.13%,#f5ec23 88.69%,#f9fa16 93.83%,#f8f917 97.84%)"></i><i style="left:42.12px;width:3.41px;background:linear-gradient(#f5ee21 2.163%,#f5ed22 24.11%,#f6df29 39.66%,#f9d62d 43.84%,#febe3c 49.94%,#f8ba3d 51.38%,#e6bb2d 54.01%,#d1bf27 56.88%,#bdc32e 59.99%,#b3c534 62.5%,#b0c636 78.76%,#b7c531 80.08%,#d2bf27 81.75%,#e7bb2e 82.83%,#f8ba3d 83.78%,#febe3c 84.26%,#feca33 84.98%,#f6e128 86.3%,#f5ec22 87.85%,#f9fa15 93.59%,#f9fa15 95.86%,#f7f31d 97.84%)"></i><i style="left:44.73px;width:3.41px;background:linear-gradient(#f5ee21 2.163%,#f5ed22 23.27%,#f6df29 38.7%,#f9d62d 42.65%,#febe3c 48.39%,#f8ba3d 49.7%,#e6bb2d 52.21%,#d1bf27 54.84%,#b0c636 59.51%,#a5c83d 63.21%,#a6c73c 77.92%,#b2c635 79.12%,#d1bf27 80.8%,#e7bb2d 81.87%,#f8ba3d 82.83%,#febd3c 83.31%,#fec934 84.02%,#f5e228 85.46%,#f5ed22 87.13%,#f8f917 91.44%,#f9fb15 93.95%,#f8f719 95.62%,#f5eb23 97.84%)"></i><i style="left:47.34px;width:3.41px;background:linear-gradient(#f5ee21 2.163%,#f5ed22 22.55%,#f6df29 37.74%,#f9d62d 41.57%,#febe3c 47.07%,#f8ba3d 48.27%,#e6bb2d 50.66%,#d1bf27 52.93%,#adc638 57.12%,#9bc944 60.23%,#98c947 62.02%,#98c947 76.13%,#9bc945 76.85%,#a4c83e 77.69%,#c4c22b 79.36%,#d1bf27 79.96%,#e6bb2d 80.91%,#f8ba3d 81.87%,#febd3c 82.35%,#feca33 83.19%,#f6e029 84.38%,#f5e825 85.1%,#f8f917 90.36%,#f8f917 93.71%,#f5e128 97.84%)"></i><i style="left:49.95px;width:3.41px;background:linear-gradient(#f5ee21 2.163%,#f5ed22 21.84%,#f6df29 36.9%,#f9d62d 40.61%,#febe3c 45.87%,#f8ba3d 46.95%,#e6bb2d 49.1%,#d1bf27 51.26%,#c5c22a 52.45%,#a3c83f 55.92%,#8ecb4e 59.15%,#8bcb51 60.94%,#8bcb51 74.82%,#8ecb4f 75.65%,#9ac945 76.61%,#c6c22a 78.64%,#d1bf27 79.12%,#e6bb2d 80.08%,#f8ba3d 81.03%,#febe3c 81.51%,#feca33 82.35%,#f7dc2a 83.31%,#f5e825 84.26%,#f9f916 89.88%,#f9fa15 91.56%,#f8f719 92.99%,#f5e924 95.39%,#f9d82c 97.84%)"></i><i style="left:52.56px;width:3.41px;background:linear-gradient(#f5ee21 2.163%,#f5ed22 21.12%,#f6df29 36.07%,#f9d62d 39.66%,#febe3c 44.56%,#f8ba3d 45.63%,#e6bb2d 47.67%,#d1bf27 49.7%,#c5c22a 50.78%,#99c946 54.72%,#82cc58 57.95%,#7dcc5c 59.99%,#7dcc5c 73.62%,#81cc58 74.58%,#8fcb4e 75.53%,#bac430 77.45%,#cfc028 78.28%,#e5bb2d 79.24%,#f8ba3d 80.2%,#febe3c 80.68%,#feca33 81.51%,#f6e128 82.83%,#f5e924 83.55%,#f9fa16 89.53%,#f7f51b 92.04%,#f5e327 94.91%,#fcd12f 97.84%)"></i><i style="left:55.17px;width:3.41px;background:linear-gradient(#f5ee21 2.163%,#f5ed22 20.4%,#f6df29 35.23%,#fad62d 38.7%,#febe3c 43.36%,#f8ba3d 44.44%,#e6bb2d 46.35%,#d0bf27 48.27%,#b8c431 50.18%,#8ecb4e 53.65%,#74cd62 57%,#6fcd66 58.91%,#6fcd66 72.42%,#73cd63 73.38%,#83cc57 74.46%,#97ca47 75.41%,#bac430 76.73%,#d0bf27 77.57%,#e7bb2e 78.52%,#f7ba3c 79.36%,#febd3c 79.84%,#fec934 80.68%,#f6e028 81.99%,#f5e924 82.71%,#f9fa16 88.57%,#f7f51b 90.6%,#f5e327 93.47%,#fbd32e 95.98%,#fdce31 97.84%)"></i><i style="left:57.77px;width:3.41px;background:linear-gradient(#f5ee21 2.163%,#f5ec22 19.68%,#f6df29 34.39%,#fad62d 37.74%,#febd3c 42.29%,#f8ba3d 43.24%,#dcbd29 45.87%,#c7c12a 47.55%,#85cb56 52.45%,#72cd63 54.25%,#68cd6b 55.68%,#62cd71 57.83%,#62cd71 71.23%,#67cd6d 72.3%,#76cc60 73.38%,#92ca4b 74.58%,#c7c129 76.49%,#ddbd29 77.33%,#f9ba3d 78.64%,#febe3c 79.12%,#f5e825 81.87%,#f8f917 87.37%,#f7f31d 89.64%,#f5e327 92.16%,#fbd12f 95.03%,#fdce31 97.84%)"></i><i style="left:60.38px;width:3.41px;background:linear-gradient(#f5ee21 2.163%,#f5ec22 19.2%,#f6df29 33.68%,#fad62d 36.9%,#febe3c 41.21%,#f8ba3d 42.05%,#ddbd29 44.56%,#c5c22a 46.23%,#acc739 47.91%,#77cc60 51.49%,#65cd6e 53.17%,#5bcc77 54.48%,#53cc7d 56.88%,#53cc7e 70.03%,#59cc79 71.23%,#6bcd69 72.42%,#88cb53 73.62%,#c5c22a 75.65%,#dcbd29 76.49%,#f8ba3d 77.81%,#febe3c 78.28%,#feca33 79.12%,#f7db2b 80.08%,#f5e924 81.15%,#f8f817 86.3%,#f7f31d 88.45%,#f5e327 90.96%,#fcd12f 93.95%,#fdce31 97.84%)"></i><i style="left:62.99px;width:3.41px;background:linear-gradient(#f5ee21 2.163%,#f5ec22 18.73%,#f6df29 33.08%,#fad62d 36.19%,#febe3c 40.25%,#f8ba3d 41.09%,#dbbd29 43.48%,#c6c22a 44.92%,#abc739 46.47%,#71cd64 49.94%,#5ccc76 51.61%,#4bcb84 53.53%,#42ca8c 56.16%,#42ca8c 68.84%,#4acb85 70.27%,#63cd70 71.71%,#79cc5e 72.54%,#abc739 74.1%,#c5c22a 74.94%,#ddbd29 75.77%,#f7ba3d 76.97%,#febe3c 77.45%,#fec934 78.28%,#f6e028 79.6%,#f5e924 80.32%,#f8f917 85.7%,#f7f31d 87.85%,#f5e327 90.36%,#fcd130 93.47%,#fdce31 97.84%)"></i><i style="left:65.60px;width:3.41px;background:linear-gradient(#f5ee21 2.163%,#f5ec22 18.25%,#f6e029 32.48%,#f9d62d 35.47%,#febe3c 39.3%,#f8ba3d 40.13%,#ddbd29 42.29%,#c6c22a 43.72%,#abc739 45.16%,#64cd6f 48.98%,#4bcb83 50.9%,#3fca8e 52.21%,#36c898 55.2%,#36c899 67.64%,#3eca8f 69.31%,#4fcc80 70.39%,#71cd64 71.71%,#abc739 73.38%,#c6c22a 74.22%,#dbbd29 74.94%,#f7ba3c 76.13%,#febd3c 76.61%,#fec934 77.45%,#f5e228 78.88%,#f5ea24 79.6%,#f9f916 84.98%,#f7f31c 87.25%,#f5e227 89.88%,#fcd030 92.99%,#fdce31 97.84%)"></i><i style="left:68.21px;width:3.41px;background:linear-gradient(#f5ee21 2.163%,#f5ec22 17.77%,#f6e029 31.88%,#f9d62d 34.75%,#febe3c 38.46%,#f7ba3c 39.3%,#dcbd29 41.33%,#c5c22a 42.65%,#abc739 43.96%,#63cd6f 47.43%,#4bcb84 48.98%,#3cc991 50.3%,#32c69e 52.33%,#2ec5a4 54.25%,#2ec4a4 66.44%,#30c5a1 67.52%,#37c897 68.6%,#4acb84 69.79%,#70cd65 71.11%,#a9c73a 72.66%,#c6c22a 73.5%,#dcbd29 74.22%,#f8ba3d 75.41%,#febe3c 75.89%,#f5ea24 78.76%,#f9fa16 84.38%,#f7f51b 86.42%,#f5e327 89.29%,#fcd030 92.52%,#fdce31 97.84%)"></i><i style="left:70.82px;width:3.41px;background:linear-gradient(#f5ee21 2.163%,#f5ec22 17.41%,#f6df29 31.4%,#fad62d 34.15%,#febe3c 37.62%,#f8ba3d 38.34%,#dbbd29 40.37%,#c5c22a 41.57%,#a9c73a 42.88%,#63cd70 45.99%,#47cb87 47.55%,#37c897 48.98%,#2cc4a7 51.14%,#24c1ae 53.29%,#23c1af 65.61%,#2cc4a6 67.4%,#3fca8e 69.08%,#64cd6e 70.39%,#aac73a 72.18%,#c4c22b 72.9%,#dbbd29 73.62%,#f8ba3d 74.82%,#fdbd3d 75.17%,#fec934 76.01%,#f5e128 77.33%,#f5ea24 78.04%,#f9fa16 83.78%,#f7f51b 85.82%,#f5e327 88.69%,#fcd030 92.04%,#fdce31 97.84%)"></i><i style="left:73.42px;width:3.41px;background:linear-gradient(#f5ee21 2.163%,#f5ec22 16.93%,#f6e029 30.92%,#fad62d 33.56%,#febe3c 36.9%,#f8ba3d 37.62%,#ddbd29 39.42%,#c5c22a 40.61%,#aac73a 41.81%,#63cd6f 44.68%,#47cb87 46.11%,#37c897 47.31%,#24c1ae 49.94%,#12beb9 52.81%,#11beb9 64.77%,#14bfb8 65.61%,#23c1af 66.8%,#31c5a1 67.88%,#3fca8e 68.84%,#66cd6e 70.03%,#abc739 71.71%,#c7c12a 72.42%,#debd29 73.14%,#f9ba3d 74.22%,#febe3c 74.58%,#fdcb33 75.41%,#f5e128 76.61%,#f5ea24 77.33%,#f9fa15 83.19%,#f7f51b 85.22%,#f5e327 88.09%,#fcd030 91.44%,#fdce31 97.84%)"></i><i style="left:76.03px;width:3.41px;background:linear-gradient(#f5ee21 2.163%,#f5ec22 16.93%,#f6e028 30.69%,#f9d62d 33.2%,#febe3c 36.43%,#f8ba3d 37.14%,#ddbd29 38.82%,#d1bf27 39.42%,#c4c22b 40.01%,#a9c73a 41.09%,#7fcc5a 42.65%,#62cd70 43.72%,#40ca8d 45.28%,#2bc3a7 47.31%,#0bbdbc 49.82%,#02bac3 51.26%,#01b9c6 52.81%,#01b9c6 64.17%,#02bac3 65.01%,#0bbdbd 65.85%,#2bc3a7 67.4%,#3fca8e 68.6%,#62cd71 69.55%,#7ccc5c 70.15%,#acc738 71.23%,#c4c22a 71.83%,#d2bf27 72.18%,#ddbd29 72.54%,#f7ba3c 73.5%,#febe3c 73.98%,#fdcb33 74.7%,#f6e028 75.77%,#f5ea24 76.61%,#f9fa15 82.59%,#f7f51b 84.62%,#f5e327 87.49%,#fcd030 90.96%,#fdce31 97.84%)"></i><i style="left:78.64px;width:3.41px;background:linear-gradient(#f5ee21 2.163%,#f5ec22 16.81%,#f6e028 30.57%,#f9d62d 32.96%,#febe3c 36.07%,#f8ba3d 36.67%,#dcbd29 38.34%,#c6c22a 39.3%,#aac73a 40.37%,#80cc59 41.81%,#64cd6f 42.76%,#41ca8c 44.2%,#28c3ab 46.23%,#0bbdbc 47.91%,#02bac3 48.74%,#01b8ca 49.7%,#05b6ce 50.54%,#0bb4d2 52.33%,#0bb4d2 63.33%,#01b8c9 65.01%,#02bac4 65.49%,#08bcbf 65.85%,#25c2ad 66.92%,#3fca8e 68.24%,#75cc61 69.55%,#a9c73b 70.63%,#c2c22b 71.23%,#d0bf27 71.59%,#ddbd29 71.95%,#f7ba3c 72.9%,#fdbd3d 73.26%,#fdca33 73.98%,#f6e028 75.05%,#f5e924 75.77%,#f9fa15 81.87%,#f7f41c 84.26%,#f5e327 87.01%,#fccf30 90.48%,#fdce31 97.84%)"></i><i style="left:81.25px;width:3.41px;background:linear-gradient(#f5ee21 2.163%,#f5ec22 16.69%,#f6e028 30.45%,#f9d62d 32.72%,#febd3c 35.71%,#f7ba3c 36.31%,#dbbd29 37.86%,#c4c22b 38.82%,#a9c73a 39.77%,#80cc59 41.09%,#62cd71 42.05%,#3fca8e 43.36%,#23c1af 45.4%,#0cbdbc 46.47%,#02bbc3 47.07%,#01b8ca 47.79%,#12b1d6 49.58%,#18addb 51.14%,#19addc 62.38%,#13b0d7 63.81%,#01b8c9 65.13%,#04bbc2 65.61%,#26c2ad 66.68%,#40ca8d 67.88%,#63cd6f 68.72%,#a0c841 69.91%,#c6c22a 70.75%,#ddbd29 71.35%,#f8ba3d 72.3%,#febe3c 72.66%,#feca33 73.26%,#f6de29 74.22%,#f5e924 75.05%,#f9fa15 81.27%,#f7f51b 83.67%,#f5e327 86.42%,#fccf30 89.88%,#fdce31 97.84%)"></i><i style="left:83.86px;width:3.41px;background:linear-gradient(#f5ee21 2.163%,#f5ec22 16.57%,#f6e028 30.33%,#fad62d 32.6%,#febd3c 35.35%,#f7ba3c 35.95%,#dbbd29 37.38%,#c3c22b 38.34%,#aac73a 39.18%,#75cc61 40.73%,#3fca8e 42.53%,#24c1ae 44.32%,#0cbdbc 45.28%,#02bac4 45.87%,#02b7cb 46.47%,#14b0d8 47.91%,#1ea7e1 50.06%,#20a4e3 61.54%,#19addc 63.57%,#01b8c8 65.01%,#04bbc1 65.37%,#23c1af 66.2%,#40ca8d 67.4%,#60cd72 68.12%,#80cc59 68.72%,#acc738 69.55%,#c3c22b 70.03%,#dbbd28 70.63%,#f8ba3d 71.59%,#febe3c 71.95%,#fdca33 72.54%,#f6df29 73.5%,#f5ea24 74.34%,#f9fa15 80.56%,#f7f51b 83.07%,#f5e327 85.94%,#fccf30 89.41%,#fdce31 97.84%)"></i><i style="left:86.47px;width:3.41px;background:linear-gradient(#f5ee21 2.163%,#f5ec22 16.57%,#f6e028 30.21%,#f9d62d 32.36%,#febe3c 34.99%,#f7ba3c 35.59%,#dcbd29 36.9%,#d0bf27 37.38%,#c3c22b 37.86%,#a0c841 38.94%,#70cd65 40.25%,#45cb89 41.57%,#38c897 42.17%,#25c2ad 43.36%,#0bbdbd 44.32%,#02bac4 44.8%,#01b8ca 45.28%,#18aedb 46.83%,#23a0e5 49.22%,#259ce7 51.14%,#259be7 60.7%,#249fe5 61.9%,#1caadf 63.21%,#12b1d6 63.93%,#01b8c9 64.65%,#04bbc2 65.01%,#25c2ad 65.85%,#42ca8c 66.92%,#64cd6f 67.64%,#a1c840 68.72%,#c5c22a 69.43%,#ddbd29 70.03%,#f7ba3c 70.87%,#febe3c 71.23%,#fdcb33 71.83%,#f6df29 72.78%,#f5ea24 73.62%,#f9fa15 79.72%,#f7f51b 82.35%,#f5e327 85.34%,#fccf30 88.93%,#fdce31 97.84%)"></i><i style="left:89.08px;width:3.41px;background:linear-gradient(#f5ee21 2.163%,#f5ec22 16.45%,#f6e028 29.97%,#f9d72c 32%,#febe3c 34.63%,#f7ba3c 35.23%,#dbbd29 36.55%,#c3c22b 37.38%,#9fc942 38.46%,#70cd65 39.66%,#4acb84 40.73%,#38c896 41.45%,#23c1af 42.65%,#02bac4 43.84%,#02b7cb 44.32%,#12b1d6 45.16%,#1ca9df 46.11%,#2895ec 49.34%,#2a92ee 50.78%,#2a92ee 59.87%,#2798ea 61.3%,#1ea7e1 62.86%,#16afd9 63.45%,#01b8c9 64.29%,#02bac3 64.53%,#25c2ad 65.37%,#3fca8e 66.32%,#78cc5f 67.4%,#a8c73b 68.24%,#c1c32c 68.72%,#d1bf27 69.08%,#dbbd29 69.31%,#f6ba3b 70.15%,#febe3c 70.51%,#fdcb33 71.11%,#f6de29 71.95%,#f5e924 72.78%,#f9fa15 79%,#f7f61a 81.75%,#f5e327 84.74%,#fccf30 88.33%,#fdce31 97.84%)"></i><i style="left:91.68px;width:3.41px;background:linear-gradient(#f5ee21 2.163%,#f5ec22 16.33%,#f6e028 29.85%,#fad62d 31.88%,#febe3c 34.27%,#f8ba3d 34.75%,#dcbd29 36.07%,#c3c22b 36.9%,#9cc943 37.98%,#70cd65 39.06%,#44cb89 40.25%,#38c896 40.73%,#25c2ae 41.81%,#09bdbe 42.65%,#02bac4 43%,#01b8ca 43.36%,#18aedb 44.56%,#23a0e5 45.99%,#2c8ff1 48.39%,#2d89f5 50.42%,#2d89f5 59.15%,#2c90f0 60.58%,#1caadf 62.74%,#13b0d7 63.21%,#01b8ca 63.81%,#02bac4 64.05%,#27c2ac 64.89%,#43ca8a 65.85%,#71cd64 66.68%,#9dc943 67.4%,#c3c22b 68.12%,#cfc028 68.36%,#debd29 68.72%,#f9ba3d 69.55%,#febe3c 69.79%,#fdcb33 70.39%,#f6de29 71.23%,#f5ea24 72.06%,#f9fa15 78.16%,#f9fa15 79.72%,#f7f61a 81.15%,#f5e327 84.14%,#fccf30 87.85%,#fdce31 97.84%)"></i><i style="left:94.29px;width:3.41px;background:linear-gradient(#f5ee21 2.163%,#f5ec22 16.1%,#f6e028 29.49%,#f9d62d 31.52%,#febd3c 33.91%,#f7ba3c 34.39%,#dcbd29 35.59%,#d2bf27 35.95%,#c2c22c 36.43%,#9ec942 37.38%,#70cd65 38.46%,#46cb88 39.54%,#39c895 40.01%,#24c1ae 41.09%,#0abdbd 41.81%,#02bac4 42.17%,#02b7ca 42.53%,#18aedb 43.6%,#23a0e5 44.92%,#2d88f6 47.67%,#2f81fa 49.82%,#2e83f9 58.91%,#2d8cf3 60.11%,#23a0e5 61.66%,#19addc 62.5%,#01b8c9 63.33%,#03bbc3 63.57%,#25c2ad 64.29%,#43ca8b 65.25%,#72cd63 66.09%,#9fc941 66.8%,#c0c32d 67.4%,#d2bf27 67.76%,#dcbd29 68%,#f8ba3d 68.84%,#febd3c 69.08%,#fdcb32 69.67%,#f6de29 70.51%,#f5ea24 71.35%,#f9fa15 77.45%,#f9fa15 79.12%,#f7f61a 80.56%,#f5e327 83.67%,#fccf30 87.25%,#fdce31 97.84%)"></i><i style="left:96.90px;width:3.41px;background:linear-gradient(#f5ee21 2.163%,#f5ec22 15.86%,#f6e028 29.25%,#f9d62d 31.16%,#febe3c 33.44%,#f8ba3d 33.91%,#e9bb2f 34.63%,#dcbd29 35.11%,#c5c22a 35.83%,#a0c841 36.79%,#70cd65 37.86%,#49cb85 38.82%,#37c897 39.42%,#24c1ae 40.37%,#02bbc3 41.33%,#01b8ca 41.69%,#19addc 42.76%,#23a0e5 43.84%,#2c90f0 45.4%,#2e83f9 46.83%,#3579fd 49.34%,#347afd 58.07%,#2e86f7 59.51%,#23a1e4 61.3%,#19addc 62.02%,#01b9c8 62.86%,#05bbc1 63.1%,#24c1ae 63.69%,#43ca8a 64.65%,#6ccd68 65.37%,#a2c83f 66.2%,#c4c22b 66.8%,#dabd28 67.28%,#e8bb2e 67.64%,#f8ba3d 68.12%,#fdbd3d 68.36%,#fec934 68.84%,#f6df29 69.79%,#f5ea24 70.63%,#f9fa15 76.73%,#f9fa15 78.52%,#f8f61a 79.96%,#f5e327 83.07%,#fccf30 86.77%,#fdce31 97.84%)"></i><i style="left:99.51px;width:3.41px;background:linear-gradient(#f5ee21 2.163%,#f5ec22 15.62%,#f6e028 29.01%,#f9d72d 30.81%,#febe3c 33.08%,#f7ba3c 33.56%,#ddbd29 34.63%,#c5c22a 35.35%,#9ec942 36.31%,#72cd64 37.26%,#48cb86 38.22%,#39c895 38.7%,#25c2ae 39.66%,#02bac3 40.61%,#02b7cb 40.97%,#16aeda 41.81%,#1ea7e1 42.41%,#2b91ef 44.2%,#2e87f7 45.04%,#3975fe 47.07%,#3e6fff 48.74%,#3c71ff 57.35%,#2f82f9 59.03%,#2c90f0 59.87%,#23a0e5 60.82%,#18addb 61.54%,#01b8c9 62.26%,#03bbc2 62.5%,#23c1af 63.1%,#44ca8a 64.05%,#6ecd66 64.77%,#9ec942 65.49%,#c0c32d 66.09%,#d2bf27 66.44%,#ddbd29 66.68%,#f7ba3c 67.4%,#fec03b 67.76%,#f6df29 69.08%,#f5eb23 70.03%,#f9fb15 76.13%,#f9fb15 77.92%,#f8f61a 79.36%,#f5e327 82.47%,#fccf30 86.18%,#fdce31 97.84%)"></i><i style="left:102.12px;width:3.41px;background:linear-gradient(#f5ee21 2.163%,#f5ec22 15.5%,#f6e028 28.77%,#f9d72c 30.45%,#febf3c 32.6%,#f8ba3d 33.08%,#ebba31 33.68%,#dabd28 34.27%,#c5c22a 34.87%,#9dc943 35.83%,#6ecd67 36.79%,#49cb86 37.62%,#39c895 38.1%,#22c1af 39.06%,#02bac3 39.89%,#02b7cb 40.25%,#13b0d7 40.85%,#1da9e0 41.45%,#2b92ee 43.12%,#2e87f7 43.96%,#327cfc 44.8%,#3e6fff 46.11%,#4366fd 48.15%,#4269fe 56.76%,#3876fe 57.95%,#2d88f6 59.03%,#2b90f0 59.51%,#1caadf 60.82%,#14b0d8 61.18%,#02b7cb 61.66%,#01b9c7 61.78%,#07bcbf 62.02%,#27c2ab 62.62%,#44cb89 63.45%,#71cd65 64.17%,#a1c840 64.89%,#c4c22b 65.49%,#dbbd29 65.97%,#f6ba3b 66.68%,#febf3b 67.04%,#f6df29 68.36%,#f5eb23 69.31%,#f9fb15 75.41%,#f9fb15 77.33%,#f8f619 78.76%,#f5e327 81.99%,#fccf31 85.7%,#fdce31 97.84%)"></i><i style="left:104.73px;width:3.41px;background:linear-gradient(#f5ee21 2.163%,#f5ec22 15.26%,#f6e028 28.41%,#f9d72c 30.09%,#febe3c 32.24%,#f7ba3c 32.72%,#e9bb30 33.32%,#dbbd28 33.8%,#c5c22a 34.39%,#a1c840 35.23%,#71cd64 36.19%,#40ca8d 37.26%,#25c2ad 38.34%,#0bbdbd 38.94%,#01bac5 39.3%,#02b7cb 39.54%,#19addc 40.37%,#20a4e3 40.97%,#2b91ef 42.29%,#2f81fa 43.36%,#3875fe 44.2%,#4269fe 45.28%,#4661fc 46.47%,#465efb 47.67%,#465efb 55.2%,#4561fc 56.04%,#406cfe 57.12%,#2f81fa 58.31%,#2c90f0 59.03%,#1da8e0 60.23%,#15afd9 60.58%,#07b5cf 60.94%,#01b8c8 61.18%,#06bcc0 61.42%,#27c2ab 62.02%,#3fca8e 62.74%,#6bcd69 63.45%,#9dc943 64.17%,#c1c32c 64.77%,#d9be28 65.25%,#e8bb2f 65.61%,#f9bb3d 66.09%,#febf3b 66.32%,#f6df29 67.64%,#f5eb23 68.6%,#f9fb15 74.7%,#f9fb15 76.73%,#f8f719 78.16%,#f5e327 81.39%,#fccf30 85.1%,#fdce31 97.84%)"></i><i style="left:107.33px;width:3.41px;background:linear-gradient(#f5ee21 2.163%,#f5ec22 15.02%,#f6e028 28.17%,#f9d72d 29.85%,#febe3c 31.88%,#f6ba3c 32.36%,#dcbd29 33.32%,#d0c028 33.68%,#c1c32c 34.03%,#a1c840 34.75%,#6ecd66 35.71%,#46cb88 36.55%,#39c995 36.9%,#25c2ae 37.74%,#02bac4 38.58%,#01b8ca 38.82%,#19addc 39.66%,#22a2e4 40.37%,#337bfc 42.76%,#3e70ff 43.48%,#4367fd 44.2%,#475af9 45.63%,#4756f6 47.07%,#4756f6 54.48%,#4759f8 55.32%,#426afe 56.76%,#3080fb 57.83%,#2b92ee 58.67%,#1ca9df 59.75%,#17aeda 59.99%,#01b8c9 60.58%,#05bbc1 60.82%,#27c2ab 61.42%,#40ca8d 62.14%,#6dcd67 62.86%,#a0c841 63.57%,#c4c22b 64.17%,#dcbd29 64.65%,#f9bb3d 65.37%,#febf3b 65.61%,#f6df29 66.92%,#f5eb23 67.88%,#f9fb15 73.98%,#f9fb15 76.13%,#f8f719 77.57%,#f5e327 80.8%,#fad52d 82.95%,#fccf31 84.62%,#fdce31 97.84%)"></i><i style="left:109.94px;width:3.41px;background:linear-gradient(#f5ee21 2.163%,#f5ec22 15.02%,#f6e028 28.17%,#fad62d 29.85%,#febd3c 31.76%,#f8ba3d 32.12%,#ddbd29 33.08%,#d1bf27 33.44%,#c2c22c 33.8%,#a0c841 34.51%,#73cd63 35.35%,#43ca8a 36.31%,#25c2ae 37.38%,#09bcbe 37.98%,#02bac5 38.22%,#02b7cb 38.46%,#18aedb 39.18%,#1fa6e2 39.66%,#2b92ef 40.85%,#2f81fa 41.81%,#3777fe 42.41%,#4269fe 43.24%,#475af9 44.56%,#4850f2 46.71%,#4850f2 53.77%,#4854f5 54.72%,#4368fe 56.28%,#347afd 57.12%,#1da8e0 59.15%,#15afd8 59.51%,#01b8ca 59.99%,#04bbc2 60.23%,#27c2ac 60.82%,#40ca8d 61.54%,#6fcd66 62.26%,#9ac945 62.86%,#c0c32d 63.45%,#d9bd28 63.93%,#e4bb2c 64.17%,#f8ba3d 64.65%,#febe3c 64.89%,#f6df29 66.2%,#f5eb23 67.16%,#f9fb15 73.26%,#f9fb15 75.53%,#f8f719 76.97%,#f5e327 80.2%,#fad52d 82.35%,#fccf31 84.02%,#fdce31 97.84%)"></i><i style="left:112.55px;width:3.41px;background:linear-gradient(#f5ee21 2.163%,#f5ec22 15.02%,#f6e028 28.17%,#f9d72d 29.73%,#febe3c 31.64%,#f6ba3b 32.12%,#dabd28 33.08%,#d1bf27 33.32%,#c2c22c 33.68%,#9fc941 34.39%,#70cd65 35.23%,#40ca8d 36.19%,#25c2ad 37.14%,#08bcbe 37.74%,#02bac5 37.98%,#02b7cb 38.22%,#13b1d7 38.7%,#1da9e0 39.18%,#2b92ef 40.49%,#3080fa 41.45%,#3777fe 41.93%,#4369fe 42.76%,#4756f7 44.2%,#484df1 45.4%,#484bee 46.47%,#484bee 53.17%,#484ff2 54.13%,#4564fd 55.68%,#3876fe 56.52%,#307ffb 56.88%,#2b90f0 57.59%,#1caadf 58.67%,#12b1d6 59.03%,#02b7cb 59.39%,#01b9c7 59.51%,#09bcbe 59.75%,#27c2ac 60.23%,#41ca8c 60.94%,#71cd64 61.66%,#9dc943 62.26%,#c3c22b 62.86%,#d0bf27 63.1%,#dcbd29 63.33%,#f7ba3c 63.93%,#febe3c 64.17%,#fdce31 64.77%,#f6df29 65.49%,#f5eb23 66.44%,#f9fb15 72.42%,#f8f718 76.25%,#f5e327 79.6%,#fad42e 81.87%,#fcce31 83.55%,#fdce31 97.84%)"></i><i style="left:115.16px;width:3.41px;background:linear-gradient(#f5ee21 2.163%,#f5ec22 15.02%,#f6e028 28.17%,#f9d72d 29.73%,#febd3c 31.64%,#f7ba3c 32%,#dbbd28 32.96%,#d2bf27 33.2%,#c2c22c 33.56%,#9ec942 34.27%,#6ecd66 35.11%,#42ca8b 35.95%,#26c2ad 36.9%,#08bcbe 37.5%,#01bac5 37.74%,#03b7cc 37.98%,#17aeda 38.58%,#1da8e0 38.94%,#2b92ee 40.13%,#2f82fa 40.97%,#3876fe 41.57%,#4464fd 42.53%,#4852f4 43.96%,#4848ec 45.16%,#4746ea 46.23%,#4746ea 52.57%,#484aee 53.53%,#4562fc 55.2%,#3876fe 56.04%,#307ffb 56.4%,#2b91ef 57.12%,#1da8e0 58.07%,#01b9c7 58.91%,#02bbc3 59.03%,#08bcbf 59.15%,#26c2ac 59.63%,#42ca8b 60.34%,#73cd62 61.06%,#a0c841 61.66%,#bfc32d 62.14%,#cdc028 62.38%,#dabd28 62.62%,#e6bb2d 62.86%,#f6ba3b 63.21%,#fdbd3d 63.45%,#fdcb33 63.93%,#f6df29 64.77%,#f5eb23 65.73%,#f9fb15 71.71%,#f8f718 75.65%,#f5e327 79.12%,#fad52e 81.27%,#fcce31 82.95%,#fdce31 97.84%)"></i><i style="left:117.77px;width:3.41px;background:linear-gradient(#f5ee21 2.163%,#f5ec22 15.02%,#f6e028 28.17%,#f9d72d 29.73%,#febe3c 31.52%,#f8ba3d 31.88%,#dcbd29 32.84%,#c3c22b 33.44%,#9ec942 34.15%,#6ccd68 34.99%,#3fca8e 35.83%,#27c2ac 36.67%,#09bcbe 37.26%,#01bac5 37.5%,#03b7cc 37.74%,#14b0d8 38.22%,#1ca9df 38.58%,#2c90f0 39.89%,#2f81fa 40.61%,#3974fe 41.21%,#4464fd 42.05%,#484ef1 43.6%,#4744e8 44.8%,#4741e5 45.87%,#4741e5 51.97%,#4747eb 53.05%,#4561fc 54.72%,#4269fe 55.08%,#3876fe 55.56%,#3080fb 55.92%,#2c8ff0 56.52%,#1ea7e1 57.47%,#19addc 57.71%,#01b8c8 58.31%,#02bac4 58.43%,#26c2ac 59.03%,#43ca8b 59.75%,#6dcd68 60.34%,#9ac945 60.94%,#c2c22b 61.54%,#d0bf27 61.78%,#ddbd29 62.02%,#f9bb3d 62.62%,#fec03b 62.86%,#f6df29 64.05%,#f5eb23 65.01%,#f8f818 69.19%,#f9fb15 71.23%,#f9fb15 73.74%,#f8f719 75.17%,#f5e327 78.52%,#fad52e 80.68%,#fccf31 82.35%,#fdce31 97.84%)"></i><i style="left:120.38px;width:3.41px;background:linear-gradient(#f5ee21 2.163%,#f5ec22 15.02%,#f6e028 28.17%,#f9d62d 29.73%,#febd3c 31.52%,#f7ba3c 31.88%,#ddbd29 32.72%,#c3c22b 33.32%,#9dc943 34.03%,#71cd64 34.75%,#42ca8b 35.59%,#24c1af 36.55%,#09bdbe 37.02%,#01bac5 37.26%,#03b7cc 37.5%,#15afd9 37.98%,#1da9e0 38.34%,#2b90ef 39.54%,#2f81fa 40.25%,#3a74fe 40.85%,#4563fc 41.69%,#484aee 43.36%,#473fe3 44.56%,#463cde 45.63%,#463cdf 51.38%,#4742e6 52.45%,#465efb 54.13%,#4269fe 54.6%,#3876fe 55.08%,#2f80fa 55.44%,#2b91ef 56.04%,#1ca9df 57%,#01b8c9 57.71%,#07bcc0 57.95%,#27c2ac 58.43%,#44cb8a 59.15%,#6fcd66 59.75%,#9ec942 60.34%,#c6c22a 60.94%,#dbbd29 61.3%,#f8ba3d 61.9%,#febf3b 62.14%,#f6df29 63.33%,#f5eb23 64.29%,#f9fb15 70.39%,#f8f818 74.46%,#f5e327 77.92%,#fad42e 80.2%,#fdce31 81.87%,#fdce31 97.84%)"></i><i style="left:122.98px;width:3.41px;background:linear-gradient(#f5ee21 2.163%,#f5ec22 15.14%,#f6e028 28.17%,#f9d82c 29.61%,#febe3c 31.4%,#f8ba3d 31.76%,#e7bb2d 32.36%,#d4bf28 32.84%,#c4c22b 33.2%,#9dc943 33.91%,#6fcd65 34.63%,#40ca8d 35.47%,#25c2ad 36.31%,#0abdbd 36.79%,#02bac5 37.02%,#03b7cc 37.26%,#15afd9 37.74%,#1da8e0 38.1%,#2b91ef 39.18%,#2f81fa 39.89%,#3a73fe 40.49%,#4561fc 41.33%,#4747eb 43%,#463cde 44.08%,#4538d7 45.16%,#4538d7 50.78%,#463ee1 51.85%,#484aee 52.69%,#465dfa 53.65%,#4269fe 54.13%,#3b73fe 54.48%,#2f81fa 54.96%,#2c8ff1 55.44%,#1da9e0 56.4%,#16aeda 56.64%,#01b8c9 57.12%,#06bcc0 57.35%,#27c2ac 57.83%,#38c895 58.31%,#45cb88 58.55%,#71cd64 59.15%,#a1c840 59.75%,#c2c22c 60.23%,#d8be28 60.58%,#e6bb2d 60.82%,#f7ba3c 61.18%,#febf3c 61.42%,#fcd030 62.02%,#f6de29 62.62%,#f5eb23 63.69%,#f9fb15 69.67%,#f8f818 73.86%,#f5e327 77.33%,#fad42e 79.6%,#fdce31 81.27%,#fdce31 97.84%)"></i><i style="left:125.59px;width:3.41px;background:linear-gradient(#f5ee21 2.163%,#f5ec22 15.02%,#f6e028 28.17%,#f9d72d 29.61%,#febe3c 31.28%,#f8ba3d 31.64%,#ddbd29 32.48%,#d3bf27 32.72%,#c2c22c 33.08%,#a1c840 33.68%,#74cd62 34.39%,#48cb86 35.11%,#38c896 35.47%,#27c2ac 36.07%,#02bac4 36.79%,#03b7cb 37.02%,#15afd9 37.5%,#1da8e0 37.86%,#2b91ef 38.94%,#2f80fa 39.66%,#3975fe 40.13%,#4562fc 40.97%,#4746ea 42.65%,#463adc 43.72%,#4535d2 44.92%,#4535d2 50.18%,#463ddf 51.38%,#4849ed 52.21%,#465efb 53.17%,#416afe 53.65%,#3875fe 54.01%,#2f80fa 54.37%,#2b92ef 54.96%,#1da9e0 55.8%,#16aeda 56.04%,#01b8c9 56.52%,#02bac4 56.64%,#07bcbf 56.76%,#28c2ab 57.24%,#40ca8d 57.83%,#6bcd69 58.43%,#9cc944 59.03%,#c6c22a 59.63%,#ddbd29 59.99%,#f6ba3b 60.46%,#febe3c 60.7%,#fccf30 61.3%,#f6de29 61.9%,#f5eb23 62.98%,#f9fb15 68.96%,#f8f818 73.26%,#f5e327 76.73%,#fad42e 79%,#fcce31 80.68%,#fdce31 97.84%)"></i><i style="left:128.20px;width:3.41px;background:linear-gradient(#f5ee21 2.163%,#f5ec22 15.02%,#f6e028 28.05%,#f9d72d 29.49%,#febe3c 31.16%,#f8ba3d 31.52%,#dcbd29 32.36%,#d2bf27 32.6%,#c0c32d 32.96%,#9fc942 33.56%,#70cd65 34.27%,#45cb89 34.99%,#23c1af 35.95%,#02bac3 36.55%,#02b7cb 36.79%,#15afd8 37.26%,#1da8e0 37.62%,#2b90ef 38.7%,#307ffb 39.42%,#3d70ff 40.01%,#465efb 40.85%,#4742e6 42.53%,#4536d3 43.84%,#4433cd 44.68%,#4433cd 49.58%,#4435d2 50.18%,#463cde 50.9%,#475cfa 52.57%,#4269fe 53.05%,#3a74fe 53.41%,#307ffb 53.77%,#2b91ef 54.37%,#1da9e0 55.2%,#16aeda 55.44%,#01b8c8 55.92%,#02bac4 56.04%,#23c1af 56.52%,#42ca8b 57.24%,#6fcd66 57.83%,#a0c941 58.43%,#c3c22b 58.91%,#dbbd28 59.27%,#f5ba3a 59.75%,#fdbd3d 59.99%,#fccf30 60.58%,#f6dd29 61.18%,#f5eb23 62.26%,#f9fb15 68.24%,#f8f818 72.66%,#f5e327 76.25%,#fad42e 78.52%,#fdce31 80.2%,#fdce31 97.84%)"></i><i style="left:130.81px;width:3.41px;background:linear-gradient(#f5ee21 2.163%,#f5ec22 14.9%,#f6e028 27.94%,#f9d72d 29.37%,#febe3c 31.04%,#f7ba3c 31.4%,#e8bb2f 31.88%,#d5be28 32.36%,#c5c22a 32.72%,#9cc944 33.44%,#6ccd68 34.15%,#41ca8c 34.87%,#25c2ae 35.71%,#09bcbe 36.19%,#01b9c6 36.43%,#01b8ca 36.55%,#14b0d8 37.02%,#1da9e0 37.38%,#2c90f0 38.46%,#307ffb 39.18%,#3e6fff 39.77%,#475cfa 40.61%,#4740e3 42.29%,#4434ce 43.6%,#4331c7 44.44%,#4331c7 48.98%,#4433cd 49.58%,#4639da 50.3%,#4747ec 51.14%,#465efb 52.09%,#3b73fe 52.81%,#317efb 53.17%,#2b91ef 53.77%,#1da9e0 54.6%,#01b9c8 55.32%,#02bbc3 55.44%,#24c1ae 55.92%,#44cb89 56.64%,#7dcc5c 57.35%,#a4c83e 57.83%,#bfc32d 58.19%,#d8be28 58.55%,#e7bb2e 58.79%,#f9bb3d 59.15%,#fec03b 59.39%,#f7dd2a 60.46%,#f5eb23 61.54%,#f8f818 65.61%,#f9fb15 67.64%,#f8f818 72.06%,#f5e327 75.65%,#fad42e 77.92%,#fdce31 79.6%,#fdce31 97.84%)"></i><i style="left:133.42px;width:3.41px;background:linear-gradient(#f5ee21 2.163%,#f5ec22 14.9%,#f6e028 27.94%,#f9d72d 29.25%,#febe3c 30.92%,#f7ba3c 31.28%,#d9bd28 32.12%,#c3c22b 32.6%,#a0c840 33.2%,#70cd65 33.91%,#44cb89 34.63%,#26c2ac 35.47%,#0abdbd 35.95%,#01bac5 36.19%,#04b6cd 36.43%,#14b0d8 36.79%,#1da9e0 37.14%,#2c90f0 38.22%,#2f81fa 38.82%,#3c71ff 39.42%,#465dfb 40.25%,#463de0 42.05%,#4332c9 43.36%,#422fc2 44.2%,#422fc2 48.39%,#4331c8 48.98%,#4539d9 49.82%,#4745e9 50.54%,#475cfa 51.49%,#426afe 51.97%,#3875fe 52.33%,#2f81fa 52.69%,#2b90f0 53.17%,#1da9e0 54.01%,#16afd9 54.25%,#03b7cc 54.6%,#01b9c7 54.72%,#0abdbd 54.96%,#26c2ad 55.32%,#39c895 55.8%,#47cb87 56.04%,#6ccd68 56.52%,#9fc942 57.12%,#c5c22a 57.59%,#ddbd29 57.95%,#ecba32 58.19%,#f8ba3d 58.43%,#febf3b 58.67%,#f7dc2a 59.75%,#f5eb23 60.82%,#f8f818 64.89%,#f9fb15 66.92%,#f8f818 71.47%,#f5e327 75.05%,#fad42e 77.33%,#fdce31 79%,#fdce31 97.84%)"></i><i style="left:136.03px;width:3.41px;background:linear-gradient(#f5ee21 2.163%,#f5ec22 14.78%,#f6e028 27.82%,#f9d72c 29.13%,#febe3c 30.81%,#f6ba3b 31.16%,#ddbd29 31.88%,#d3bf27 32.12%,#c1c32c 32.48%,#9ec942 33.08%,#6dcd68 33.8%,#41ca8d 34.51%,#23c1af 35.35%,#0cbdbc 35.71%,#02bac4 35.95%,#04b6cc 36.19%,#13b0d7 36.55%,#1da9e0 36.9%,#2c8ff0 37.98%,#2f80fa 38.58%,#3d70ff 39.18%,#475cfa 40.01%,#463ddf 41.69%,#4331c5 43%,#412dbc 43.96%,#412dbc 47.79%,#4230c4 48.51%,#4537d5 49.22%,#4743e7 49.94%,#475bf9 50.9%,#4369fe 51.38%,#3975fe 51.73%,#2f81fa 52.09%,#2c90f0 52.57%,#1da9e0 53.41%,#15afd9 53.65%,#02b7cb 54.01%,#01b9c6 54.13%,#05bbc1 54.25%,#27c2ab 54.72%,#3bc993 55.2%,#4acb85 55.44%,#7bcc5d 56.04%,#a4c83e 56.52%,#c1c32c 56.88%,#dbbd29 57.24%,#f7ba3c 57.71%,#febf3c 57.95%,#f7dc2a 59.03%,#f5ec22 60.23%,#f9fb15 66.2%,#f9fb15 69.67%,#f8f818 70.99%,#f5e327 74.46%,#fad42e 76.73%,#fdce31 78.4%,#fdce31 97.84%)"></i><i style="left:138.63px;width:3.41px;background:linear-gradient(#f5ee21 2.163%,#f5ec22 14.66%,#f6e028 27.7%,#f9d72c 29.01%,#febd3c 30.69%,#f6ba3b 31.04%,#dcbd29 31.76%,#c6c22a 32.24%,#9bc945 32.96%,#4acb84 34.15%,#39c895 34.51%,#25c2ae 35.11%,#02bac3 35.71%,#03b7cb 35.95%,#12b1d7 36.31%,#1ca9df 36.67%,#2c8ff0 37.74%,#3080fb 38.34%,#3e6fff 38.94%,#4563fc 39.42%,#4853f4 40.13%,#463bdc 41.45%,#422fc0 42.76%,#402bb7 43.72%,#402bb8 47.31%,#422fc2 48.03%,#4537d5 48.74%,#4747eb 49.58%,#475dfa 50.42%,#4368fd 50.78%,#3a74fe 51.14%,#2f80fa 51.49%,#2c90f0 51.97%,#1ca9df 52.81%,#14b0d8 53.05%,#01b7ca 53.41%,#06bcc0 53.65%,#22c1af 54.01%,#45cb89 54.72%,#80cc59 55.44%,#aac73a 55.92%,#bec32e 56.16%,#d1bf27 56.4%,#d9bd28 56.52%,#f5ba3b 57%,#febe3c 57.24%,#fdcd32 57.71%,#f7db2a 58.31%,#f5ec22 59.51%,#f9fb15 65.49%,#f8f817 70.27%,#f5e327 73.86%,#fad42e 76.13%,#fdce31 77.92%,#fdce31 97.84%)"></i><i style="left:141.24px;width:3.41px;background:linear-gradient(#f5ee21 2.163%,#f5ec22 14.54%,#f6e028 27.58%,#f9d72c 28.89%,#febf3b 30.45%,#f9ba3d 30.81%,#eeba34 31.16%,#dbbd29 31.64%,#c4c22b 32.12%,#a0c840 32.72%,#6ecd66 33.44%,#41ca8c 34.15%,#27c2ab 34.87%,#0abdbd 35.35%,#01b9c6 35.59%,#01b8ca 35.71%,#1caadf 36.43%,#2c90f0 37.5%,#3080fa 38.1%,#3e6fff 38.7%,#4562fc 39.18%,#4852f4 39.89%,#463bdd 41.09%,#422ebe 42.41%,#3f29b2 43.6%,#3f29b2 46.59%,#412cb9 47.19%,#4331c6 47.79%,#463bdd 48.51%,#484bef 49.22%,#465ffb 49.94%,#3e6fff 50.42%,#3080fa 50.9%,#2c90f0 51.38%,#1caadf 52.21%,#01b8c9 52.81%,#02bac4 52.93%,#25c2ae 53.41%,#3fca8e 54.01%,#7acc5e 54.72%,#a6c83d 55.2%,#c5c22a 55.56%,#dfbc2a 55.92%,#f4ba3a 56.28%,#febd3c 56.52%,#f7db2b 57.59%,#f5ec23 58.79%,#f9fb15 64.77%,#f8f817 69.67%,#f5e327 73.38%,#fad42e 75.65%,#fdce31 77.33%,#fdce31 97.84%)"></i><i style="left:143.85px;width:3.41px;background:linear-gradient(#f5ee21 2.163%,#f5ec22 14.54%,#f6e028 27.46%,#f9d72c 28.77%,#febf3b 30.33%,#f8ba3d 30.69%,#e9bb30 31.16%,#d5be28 31.64%,#c3c22b 32%,#9fc942 32.6%,#6ccd68 33.32%,#45cb88 33.91%,#25c2ad 34.75%,#02bac3 35.35%,#03b7cc 35.59%,#13b0d7 35.95%,#1da9e0 36.31%,#2b91ef 37.26%,#2f81fa 37.86%,#3e70ff 38.46%,#4563fc 38.94%,#4852f4 39.66%,#4639d9 40.97%,#412cb9 42.29%,#3f28ad 43.36%,#3f28ad 45.87%,#3f29b1 46.35%,#422ebf 47.07%,#463cde 48.03%,#4854f5 48.98%,#4562fc 49.46%,#3f6eff 49.82%,#3080fa 50.3%,#2b90f0 50.78%,#1baade 51.61%,#01b9c8 52.21%,#03bbc2 52.33%,#27c2ac 52.81%,#43ca8b 53.41%,#80cc59 54.13%,#adc638 54.6%,#c2c22c 54.84%,#d5be28 55.08%,#ecba33 55.44%,#f9ba3d 55.68%,#fec03a 55.92%,#f7dd2a 57%,#f5eb23 58.07%,#f8f817 62.14%,#f9fb15 64.17%,#f8f818 69.19%,#f5e327 72.78%,#fad42e 75.05%,#fdce31 76.73%,#fdce31 97.84%)"></i><i style="left:146.46px;width:3.41px;background:linear-gradient(#f5ee21 2.163%,#f5ec22 14.42%,#f6e028 27.34%,#f9d72c 28.65%,#febf3b 30.21%,#f8ba3d 30.57%,#e8bb2f 31.04%,#d4bf28 31.52%,#c2c22c 31.88%,#9dc943 32.48%,#72cd63 33.08%,#43ca8a 33.8%,#23c1af 34.63%,#0bbdbd 34.99%,#01bac5 35.23%,#01b8c9 35.35%,#1caadf 36.07%,#2c8ff1 37.14%,#307ffb 37.74%,#406dfe 38.34%,#4852f4 39.42%,#4537d5 40.85%,#402bb7 42.05%,#3e26a9 43.24%,#3e27aa 45.52%,#402ab3 46.11%,#4230c3 46.71%,#463bdc 47.43%,#4849ed 48.03%,#465efb 48.74%,#3f6eff 49.22%,#3080fa 49.7%,#2b90ef 50.18%,#1ea7e1 50.9%,#17aeda 51.14%,#03b7cc 51.49%,#01b9c6 51.61%,#05bbc1 51.73%,#29c3aa 52.21%,#37c897 52.57%,#46cb88 52.81%,#7acc5e 53.41%,#a9c73b 53.89%,#bec32e 54.13%,#d2bf27 54.37%,#dbbd29 54.48%,#f8ba3d 54.96%,#fec03b 55.2%,#f7dc2a 56.28%,#f5eb23 57.35%,#f8f817 61.42%,#f9fb15 63.45%,#f8f818 68.6%,#f5e327 72.18%,#fad42e 74.46%,#fdce31 76.25%,#fdce31 97.84%)"></i><i style="left:149.07px;width:3.41px;background:linear-gradient(#f5ee21 2.163%,#f5ec22 14.3%,#f6e028 27.22%,#f9d72c 28.53%,#febf3c 30.09%,#f8ba3d 30.45%,#e8bb2f 30.92%,#d9be28 31.28%,#c0c32d 31.76%,#9bc945 32.36%,#70cd65 32.96%,#48cb86 33.56%,#37c898 33.91%,#27c2ac 34.39%,#02bbc3 34.99%,#02b7cb 35.23%,#13b1d7 35.59%,#1da9e0 35.95%,#2b90f0 36.9%,#3080fa 37.5%,#3f6eff 38.1%,#4561fc 38.58%,#4852f4 39.18%,#463adb 40.37%,#412cb9 41.57%,#3e26a8 42.53%,#3e27aa 45.28%,#412dbc 45.99%,#463cde 46.95%,#4852f4 47.79%,#4561fc 48.27%,#3f6efe 48.62%,#3080fa 49.1%,#2b91ef 49.58%,#1da8e0 50.3%,#16afd9 50.54%,#02b7ca 50.9%,#02bac5 51.02%,#07bcbf 51.14%,#24c2ae 51.49%,#3ac994 51.97%,#4acb85 52.21%,#69cd6b 52.57%,#a5c83e 53.17%,#c6c22a 53.53%,#d9be28 53.77%,#e9bb2f 54.01%,#f6ba3b 54.25%,#febf3c 54.48%,#fdcd31 54.96%,#f7dc2a 55.56%,#f5eb23 56.64%,#f8f818 60.7%,#f9fb15 62.74%,#f8f818 68%,#f5e327 71.59%,#fad42e 73.86%,#fdce31 75.65%,#fdce31 97.84%)"></i><i style="left:151.68px;width:3.41px;background:linear-gradient(#f5ee21 2.163%,#f5ec22 14.18%,#f6e028 27.1%,#f9d72c 28.41%,#febf3c 29.97%,#f7ba3c 30.33%,#ecba32 30.69%,#ddbd29 31.04%,#c6c22a 31.52%,#a1c840 32.12%,#6ecd67 32.84%,#46cb88 33.44%,#3ac994 33.68%,#25c2ae 34.27%,#0dbdbc 34.63%,#02bac5 34.87%,#04b6cd 35.11%,#15afd9 35.47%,#1caadf 35.71%,#2b92ee 36.67%,#2f81fa 37.26%,#3e6fff 37.86%,#4562fc 38.34%,#4853f5 38.94%,#463bde 40.01%,#412dbd 41.09%,#3e26a8 42.05%,#3e26a8 44.8%,#412dbc 45.52%,#463bdc 46.35%,#4851f4 47.19%,#4661fc 47.67%,#3f6dfe 48.03%,#3080fa 48.51%,#2b91ef 48.98%,#1da9e0 49.7%,#14b0d8 49.94%,#01b8c9 50.3%,#02bac3 50.42%,#27c2ac 50.9%,#44cb89 51.49%,#7bcc5d 52.09%,#acc738 52.57%,#c3c22b 52.81%,#cdc028 52.93%,#dfbc2a 53.17%,#f5ba3a 53.53%,#febe3c 53.77%,#fdcc32 54.25%,#f6dd29 54.96%,#f5ec22 56.04%,#f8f818 59.99%,#f9fb15 62.02%,#f8f817 67.4%,#f5e327 70.99%,#fad42e 73.26%,#fdce31 75.05%,#fdce31 97.84%)"></i><i style="left:154.28px;width:3.41px;background:linear-gradient(#f5ee21 2.163%,#f5ec22 14.18%,#f6e028 27.1%,#f9d72c 28.29%,#febe3c 29.85%,#f7ba3c 30.21%,#e7bb2d 30.69%,#d1bf27 31.16%,#c4c22b 31.4%,#9fc942 32%,#73cd63 32.6%,#4acb85 33.2%,#37c897 33.56%,#27c2ac 34.03%,#02bbc3 34.63%,#03b7cc 34.87%,#18addb 35.35%,#1da8e0 35.59%,#2b92ee 36.43%,#2f81fa 37.02%,#3f6fff 37.62%,#465efb 38.22%,#4746eb 39.18%,#4433cc 40.25%,#4029b3 41.09%,#3e26a8 41.57%,#3e26a8 44.44%,#4434cf 45.52%,#4745e9 46.23%,#475cfa 46.95%,#406dfe 47.43%,#3080fb 47.91%,#2b91ef 48.39%,#1ca9df 49.1%,#01b9c8 49.7%,#03bbc2 49.82%,#21c1b0 50.18%,#38c896 50.66%,#48cb86 50.9%,#82cc58 51.49%,#a8c73b 51.85%,#bfc32d 52.09%,#d4bf27 52.33%,#ecba33 52.69%,#f9bb3d 52.93%,#fec13a 53.17%,#f7dd2a 54.25%,#f5ec22 55.32%,#f8f818 59.27%,#f9fb15 61.42%,#f8f817 66.8%,#f5e327 70.39%,#fad52e 72.66%,#fdce31 74.46%,#fdce31 97.84%)"></i><i style="left:156.89px;width:5.61px;background:linear-gradient(#f5ee21 2.163%,#f5ec22 14.06%,#f6e028 26.98%,#f9d62d 28.29%,#febe3c 29.73%,#f7ba3c 30.09%,#dbbd29 30.81%,#d0c028 31.04%,#c2c22c 31.28%,#9cc944 31.88%,#6fcd66 32.48%,#45cb88 33.08%,#23c1af 33.91%,#03bbc2 34.39%,#02b7cb 34.63%,#18aedb 35.11%,#1da8e0 35.35%,#2b91ef 36.19%,#3080fb 36.79%,#406dfe 37.38%,#475cfa 37.98%,#4746eb 38.82%,#4535d2 39.66%,#3e26a8 40.97%,#3e26a8 44.08%,#4537d5 45.16%,#4747eb 45.75%,#465efb 46.47%,#3d70ff 46.95%,#307ffb 47.31%,#2b91ef 47.79%,#1caadf 48.51%,#13b1d7 48.74%,#04b6cc 48.98%,#01b9c7 49.1%,#05bbc1 49.22%,#24c1af 49.58%,#3ac993 50.06%,#4ccb83 50.3%,#6fcd66 50.66%,#a3c83e 51.14%,#c6c22a 51.49%,#dabd28 51.73%,#f1ba37 52.09%,#f8ba3d 52.21%,#fec03b 52.45%,#fdce31 52.93%,#f6df29 53.65%,#f5ec22 54.6%,#f8f818 58.55%,#f9fb15 60.7%,#f8f817 66.2%,#f5e327 69.91%,#fad42e 72.18%,#fdce31 73.98%,#fdce31 97.84%)"></i></div></div><div class="hm" style="left:504.10px;top:16.00px;width:156.10px;height:131.50px"><div class="hb" style="left:-3px;top:-3px;width:162.10px;height:137.50px"><i style="left:0.00px;width:58.44px;background:#3e26a8"></i><i style="left:57.64px;width:3.40px;background:linear-gradient(#3e26a8 2.182%,#3e26a8 33.68%,#0fbeba 33.8%,#24c1af 35.95%,#33c69d 39.06%,#3eca8f 40.5%,#67cd6d 43.37%,#6acd6a 43.48%,#adc638 44.44%,#cac129 44.92%,#debd29 45.28%,#eeba35 45.64%,#f8ba3d 45.88%,#febf3c 46.11%,#f5ec22 49.7%,#f9fb15 57.47%,#f5ec22 64.29%,#fec934 67.63%,#fdbd3d 68.59%,#f4ba3a 68.83%,#ddbd29 69.31%,#d0c028 69.55%,#c1c32c 69.78%,#a0c941 70.26%,#62cd71 71.1%,#4dcc82 71.46%,#3ac994 71.94%,#25c2ae 72.77%,#09bcbe 73.37%,#02bac5 73.61%,#02b7cb 73.85%,#14b0d8 74.45%,#1da9e0 74.93%,#2b90f0 76.36%,#3080fa 77.2%,#3f6eff 77.91%,#475cfa 78.63%,#4747eb 79.47%,#463bdd 79.95%,#4434ce 80.3%,#3e27ab 81.38%,#3e26a8 97.82%)"></i><i style="left:60.24px;width:3.40px;background:linear-gradient(#3e26a8 2.182%,#3e26a8 32.73%,#0fbebb 32.85%,#23c1af 35%,#33c69d 38.11%,#3fca8f 39.54%,#68cd6c 42.41%,#a7c73c 43.37%,#c5c22a 43.84%,#d2bf27 44.08%,#debc2a 44.32%,#f8ba3d 44.92%,#febf3c 45.16%,#f5ec22 48.74%,#f9fb15 56.52%,#f5ec22 63.21%,#febf3b 67.39%,#f8ba3d 67.63%,#dcbd29 68.23%,#c7c129 68.59%,#a8c73b 69.07%,#6acd6a 69.9%,#53cc7d 70.26%,#3eca8f 70.74%,#25c2ae 71.7%,#09bcbe 72.3%,#02bac4 72.53%,#01b7ca 72.77%,#13b0d7 73.37%,#1ca9df 73.85%,#2b91ef 75.28%,#2f81fa 76.12%,#406dfe 76.96%,#4758f8 77.79%,#4747eb 78.51%,#463bdd 78.99%,#4434cf 79.35%,#3e26a8 80.54%,#3e26a8 97.82%)"></i><i style="left:62.84px;width:3.40px;background:linear-gradient(#3e26a8 2.182%,#3e26a8 31.65%,#0dbdbc 31.77%,#23c1af 34.04%,#33c69d 37.15%,#3fca8e 38.58%,#67cd6d 41.33%,#6acd6a 41.45%,#aac73a 42.41%,#c6c22a 42.89%,#d9bd28 43.25%,#e5bb2d 43.48%,#f8ba3d 43.96%,#febe3c 44.2%,#f5ec22 47.91%,#f9fb15 55.44%,#f5ec22 62.13%,#febe3c 66.32%,#f8ba3d 66.56%,#dbbd29 67.15%,#c7c12a 67.51%,#9fc942 68.11%,#6acd6a 68.83%,#54cc7d 69.19%,#3eca8f 69.67%,#25c2ad 70.62%,#02bac4 71.46%,#01b8ca 71.7%,#13b1d7 72.3%,#1caadf 72.77%,#2b92ee 74.21%,#307ffb 75.16%,#3f6eff 75.88%,#475af9 76.72%,#4747eb 77.56%,#4434d0 78.39%,#3e27aa 79.59%,#3e26a8 97.82%)"></i><i style="left:65.44px;width:3.40px;background:linear-gradient(#3e26a8 2.182%,#3e26a8 30.69%,#0cbdbc 30.81%,#24c1ae 33.2%,#33c69d 36.19%,#3fca8e 37.63%,#68cd6c 40.38%,#acc738 41.45%,#c8c129 41.93%,#dabd28 42.29%,#f8ba3d 43.01%,#febe3c 43.25%,#f5ec22 46.95%,#f9fb15 54.48%,#f5ec22 61.06%,#fdca33 64.17%,#febe3c 65.24%,#f7ba3c 65.48%,#e7bb2d 65.84%,#dabd28 66.08%,#c6c22a 66.44%,#9ec942 67.04%,#54cc7d 68.11%,#3eca8f 68.59%,#26c2ad 69.55%,#02bac3 70.38%,#01b8c9 70.62%,#12b1d7 71.22%,#1baade 71.7%,#2b90f0 73.25%,#2f80fa 74.09%,#406dfe 74.93%,#4759f9 75.76%,#4746ea 76.6%,#463cde 77.08%,#4433cc 77.56%,#3e26a8 78.75%,#3e26a8 97.82%)"></i><i style="left:68.04px;width:3.40px;background:linear-gradient(#3e26a8 2.182%,#3e26a8 29.74%,#0cbdbc 29.86%,#24c1ae 32.25%,#33c69d 35.24%,#3eca8f 36.55%,#67cd6d 39.3%,#6acd6a 39.42%,#aec637 40.5%,#c9c129 40.97%,#dbbd29 41.33%,#f8ba3d 42.05%,#febe3c 42.29%,#f5ec22 46%,#f9fb15 53.41%,#f5ec22 59.98%,#feca33 63.09%,#fdbd3d 64.17%,#f6ba3b 64.41%,#e6bb2d 64.76%,#d9bd28 65%,#c5c22a 65.36%,#a6c83d 65.84%,#62cd70 66.8%,#4ecc81 67.15%,#3eca8f 67.51%,#26c2ad 68.47%,#0bbdbd 69.07%,#01b9c6 69.43%,#03b7cc 69.67%,#12b1d6 70.14%,#1babde 70.62%,#2b91ef 72.18%,#2f81fa 73.01%,#3f6fff 73.85%,#4759f8 74.81%,#4746ea 75.64%,#463cde 76.12%,#4433cc 76.6%,#3e27aa 77.79%,#3e26a8 97.82%)"></i><i style="left:70.64px;width:3.40px;background:linear-gradient(#3e26a8 2.182%,#3e26a8 28.78%,#0cbdbc 28.9%,#24c1ae 31.29%,#33c69e 34.16%,#3eca8f 35.59%,#68cd6c 38.34%,#a9c73b 39.42%,#c4c22b 39.9%,#dcbd29 40.38%,#f9ba3d 41.09%,#febe3c 41.33%,#f5ec22 45.16%,#f9fb15 52.45%,#f5eb23 58.91%,#feca33 62.01%,#fdbd3d 63.09%,#f5ba3a 63.33%,#dfbc2a 63.81%,#d2bf27 64.05%,#c4c22b 64.29%,#a5c83d 64.76%,#62cd70 65.72%,#4ecc81 66.08%,#3fca8e 66.44%,#26c2ac 67.39%,#0bbdbc 67.99%,#01b9c6 68.35%,#03b7cc 68.59%,#14b0d8 69.19%,#1ca9df 69.67%,#2b92ee 71.1%,#2f80fa 72.06%,#3f6dfe 72.89%,#4758f8 73.85%,#4746ea 74.69%,#463cde 75.16%,#4433cc 75.64%,#3e26a8 76.96%,#3e26a8 97.82%)"></i><i style="left:73.25px;width:3.40px;background:linear-gradient(#3e26a8 2.182%,#3e26a8 27.82%,#0bbdbc 27.94%,#24c1ae 30.33%,#33c79d 33.32%,#40ca8d 34.76%,#66cd6d 37.27%,#69cd6a 37.39%,#abc739 38.46%,#c5c22a 38.94%,#ddbd29 39.42%,#f9ba3d 40.14%,#febe3c 40.38%,#f5ec22 44.2%,#f9fb15 51.37%,#f5ec22 57.71%,#febf3b 61.89%,#f8ba3d 62.13%,#debd29 62.73%,#d1bf27 62.97%,#c3c22b 63.21%,#a5c83d 63.69%,#62cd70 64.64%,#4fcc81 65%,#3fca8e 65.36%,#23c1af 66.44%,#0cbdbc 66.92%,#01bac5 67.27%,#02b7cb 67.51%,#13b0d8 68.11%,#1caadf 68.59%,#2b90ef 70.14%,#2f81fa 70.98%,#3e6fff 71.82%,#475af9 72.77%,#4746ea 73.73%,#463cde 74.21%,#4433cd 74.69%,#3e27aa 76%,#3e26a8 97.82%)"></i><i style="left:75.85px;width:3.40px;background:linear-gradient(#3e26a8 2.182%,#3e26a8 26.87%,#0bbdbd 26.99%,#24c1ae 29.38%,#33c69d 32.25%,#3fca8e 33.68%,#67cd6c 36.31%,#a6c83c 37.39%,#c7c12a 37.99%,#ddbd29 38.46%,#f9ba3d 39.18%,#febe3c 39.42%,#f5ec22 43.25%,#f9fb15 50.42%,#f5ec22 56.63%,#fcce31 59.38%,#febe3c 60.82%,#f8ba3d 61.06%,#ddbd29 61.66%,#d0bf27 61.89%,#c3c22b 62.13%,#a4c83e 62.61%,#63cd70 63.57%,#4fcc81 63.93%,#3fca8e 64.29%,#23c1af 65.36%,#0dbdbc 65.84%,#02bac5 66.2%,#02b7cb 66.44%,#13b0d7 67.04%,#1caadf 67.51%,#2b91ef 69.07%,#3080fb 70.02%,#3f6efe 70.86%,#4759f8 71.82%,#4746ea 72.77%,#463cde 73.25%,#4434ce 73.73%,#3e26a8 75.16%,#3e26a8 97.82%)"></i><i style="left:78.45px;width:3.40px;background:linear-gradient(#3e26a8 2.182%,#3e26a8 25.91%,#0bbdbd 26.03%,#24c1ae 28.42%,#33c69d 31.29%,#3fca8e 32.73%,#66cd6d 35.24%,#69cd6b 35.36%,#a8c73b 36.43%,#c8c129 37.03%,#debd2a 37.51%,#f9ba3d 38.22%,#febe3c 38.46%,#fccf30 39.9%,#f5e228 41.45%,#f5ec22 42.41%,#f9fb15 49.34%,#f5ec22 55.56%,#fdca33 58.67%,#febd3c 59.74%,#f7ba3c 59.98%,#dcbd29 60.58%,#d0c028 60.82%,#c2c22c 61.06%,#a4c83e 61.54%,#63cd70 62.49%,#4fcc80 62.85%,#3cc992 63.33%,#24c1af 64.29%,#09bcbe 64.88%,#02bac4 65.12%,#01b7ca 65.36%,#12b1d7 65.96%,#1da9e0 66.56%,#2c90f0 68.11%,#2f81fa 68.95%,#3e6fff 69.78%,#465dfb 70.62%,#4848ec 71.7%,#463cde 72.3%,#4434ce 72.77%,#3e27a9 74.21%,#3e26a8 97.82%)"></i><i style="left:81.05px;width:3.40px;background:linear-gradient(#3e26a8 2.182%,#3e26a8 24.96%,#0abdbd 25.07%,#24c1af 27.47%,#33c69d 30.33%,#40ca8d 31.77%,#67cd6c 34.28%,#aac739 35.48%,#c9c129 36.07%,#dfbc2a 36.55%,#f9bb3d 37.27%,#febe3c 37.51%,#f5ec22 41.45%,#f9fb15 48.27%,#f5ec22 54.48%,#fec934 57.71%,#fdbd3d 58.67%,#f6ba3b 58.91%,#dbbd29 59.5%,#cfc028 59.74%,#c1c32c 59.98%,#a3c83e 60.46%,#63cd70 61.42%,#4acb85 61.89%,#38c896 62.37%,#24c1ae 63.21%,#02bac4 64.05%,#01b8ca 64.29%,#12b1d6 64.88%,#1da9e0 65.48%,#2b90ef 67.04%,#307ffb 67.99%,#3f6efe 68.83%,#465dfa 69.67%,#4848ec 70.74%,#463cde 71.34%,#4434cf 71.82%,#3e26a8 73.37%,#3e26a8 97.82%)"></i><i style="left:83.65px;width:3.40px;background:linear-gradient(#3e26a8 2.182%,#3e26a8 24.12%,#0bbdbc 24.24%,#24c1af 26.51%,#33c69d 29.38%,#40ca8d 30.81%,#66cd6d 33.2%,#69cd6b 33.32%,#acc738 34.52%,#c5c22a 35%,#dabd28 35.48%,#f9bb3d 36.31%,#febe3c 36.55%,#f5ec23 40.5%,#f9fb15 47.31%,#f5ec23 53.41%,#feca33 56.52%,#fcbd3d 57.59%,#f5ba3a 57.83%,#e6bb2d 58.19%,#dabd28 58.43%,#c7c129 58.79%,#abc739 59.26%,#63cd70 60.34%,#4acb84 60.82%,#39c895 61.3%,#24c2ae 62.13%,#02bac4 62.97%,#01b8ca 63.21%,#12b1d6 63.81%,#1ca9df 64.41%,#2b91ef 65.96%,#2f80fa 66.92%,#3e6fff 67.75%,#475cfa 68.71%,#4747ec 69.78%,#463cde 70.38%,#4433cb 70.98%,#3e27a9 72.41%,#3e26a8 97.82%)"></i><i style="left:86.25px;width:3.40px;background:linear-gradient(#3e26a8 2.182%,#3e26a8 23.16%,#0bbdbd 23.28%,#24c1af 25.55%,#33c69d 28.42%,#3fca8e 29.74%,#67cd6c 32.25%,#a8c73b 33.44%,#c6c22a 34.04%,#dbbd29 34.52%,#f9bb3d 35.36%,#febe3c 35.59%,#fccf30 37.03%,#f5e228 38.7%,#f5ec22 39.66%,#f9fb15 46.23%,#f5eb23 52.33%,#febe3c 56.4%,#f8ba3d 56.63%,#e5bb2d 57.11%,#d9bd28 57.35%,#c7c12a 57.71%,#aac73a 58.19%,#63cd70 59.26%,#4acb84 59.74%,#39c895 60.22%,#25c2ae 61.06%,#02bac3 61.89%,#03b7cc 62.25%,#14b0d8 62.85%,#1caadf 63.33%,#2c90f0 65%,#2f81fa 65.84%,#3f6eff 66.8%,#475bfa 67.75%,#4747eb 68.83%,#463cdf 69.43%,#4433cc 70.02%,#3e26a8 71.58%,#3e26a8 97.82%)"></i><i style="left:88.86px;width:3.40px;background:linear-gradient(#3e26a8 2.182%,#3e26a8 22.33%,#0cbdbc 22.44%,#23c1af 24.6%,#37c897 28.06%,#49cb85 29.5%,#68cd6c 31.29%,#a9c73b 32.49%,#c6c22a 33.08%,#dbbd29 33.56%,#f8ba3d 34.4%,#febd3c 34.64%,#fdce31 36.07%,#f5ec22 38.7%,#f9fb15 45.28%,#f5eb23 51.26%,#febe3c 55.32%,#f8ba3d 55.56%,#e5bb2d 56.04%,#dabd28 56.28%,#c7c12a 56.63%,#abc739 57.11%,#65cd6e 58.19%,#4bcb83 58.67%,#3ac994 59.15%,#26c2ad 59.98%,#0bbdbc 60.58%,#01bac5 60.94%,#02b7cb 61.18%,#13b1d7 61.78%,#1da9e0 62.37%,#2b91ef 63.93%,#2f80fa 64.88%,#3f6dfe 65.84%,#465dfb 66.68%,#4847ec 67.87%,#463ddf 68.47%,#4433cd 69.07%,#3e27a9 70.62%,#3e26a8 97.82%)"></i><i style="left:91.46px;width:3.40px;background:linear-gradient(#3e26a8 2.182%,#3e26a8 21.37%,#0bbdbd 21.49%,#24c1ae 23.76%,#33c69e 26.51%,#38c896 27.23%,#49cb85 28.54%,#68cd6b 30.33%,#a8c73b 31.53%,#c5c22a 32.13%,#dabd28 32.61%,#e7bb2e 32.96%,#f7ba3c 33.44%,#febf3b 33.8%,#f5ec22 37.87%,#f9fb15 44.32%,#f5ec22 50.18%,#feca33 53.29%,#fcbc3d 54.36%,#f5ba3a 54.6%,#dbbd29 55.2%,#c2c22c 55.68%,#a6c83d 56.16%,#7fcc5a 56.75%,#60cd72 57.23%,#4ecc81 57.59%,#3fca8e 57.95%,#24c1ae 59.03%,#02bac4 59.86%,#01b8ca 60.1%,#14b0d8 60.82%,#1caadf 61.3%,#2b90ef 62.97%,#3080fa 63.93%,#3f6dfe 64.88%,#4759f9 65.96%,#4746ea 67.04%,#463bdd 67.63%,#4433cb 68.23%,#3e27a9 69.78%,#3e26a8 97.82%)"></i><i style="left:94.06px;width:3.40px;background:linear-gradient(#3e26a8 2.182%,#3e26a8 20.53%,#0cbdbc 20.65%,#23c1af 22.8%,#33c69d 25.67%,#40ca8d 26.99%,#66cd6d 29.26%,#69cd6b 29.38%,#a8c73b 30.57%,#c4c22a 31.17%,#ddbd29 31.77%,#f6ba3b 32.49%,#febe3c 32.85%,#fcd030 34.4%,#f5e227 36.07%,#f5ec22 37.03%,#f9fb15 43.37%,#f5ec22 49.1%,#fec934 52.33%,#fdbd3d 53.29%,#f6ba3b 53.53%,#ddbd29 54.12%,#d1bf27 54.36%,#c4c22b 54.6%,#a8c73b 55.08%,#82cc58 55.68%,#63cd70 56.16%,#4bcb84 56.63%,#39c994 57.11%,#26c2ad 57.95%,#0bbdbc 58.55%,#01bac5 58.91%,#02b7cb 59.15%,#12b1d7 59.74%,#1ca9df 60.34%,#2b92ee 61.89%,#307ffb 62.97%,#406dfe 63.93%,#475af9 65%,#4747eb 66.08%,#463cdf 66.68%,#4433cd 67.27%,#3e26a8 68.95%,#3e26a8 97.82%)"></i><i style="left:96.66px;width:3.40px;background:linear-gradient(#3e26a8 2.182%,#3e26a8 19.7%,#0dbdbc 19.81%,#24c1ae 21.97%,#33c69d 24.72%,#38c896 25.31%,#49cb85 26.63%,#66cd6d 28.3%,#69cd6b 28.42%,#adc638 29.74%,#c9c129 30.33%,#dcbd29 30.81%,#f8ba3d 31.65%,#fdbd3d 31.89%,#feca33 32.96%,#f5ec23 36.07%,#f9fb15 42.29%,#f5ec22 48.03%,#fccf30 50.66%,#fdbd3d 52.21%,#f6ba3c 52.45%,#debd29 53.05%,#c6c22a 53.53%,#aac739 54%,#66cd6d 55.08%,#4dcc82 55.56%,#37c897 56.16%,#24c1af 56.99%,#02bac4 57.83%,#01b8c9 58.07%,#14b0d8 58.79%,#1da8e0 59.38%,#2b91ef 60.94%,#2f81fa 61.89%,#406dfe 62.97%,#475af9 64.05%,#4747eb 65.12%,#463bdd 65.84%,#4433cc 66.44%,#3e26a8 68.11%,#3e26a8 97.82%)"></i><i style="left:99.26px;width:3.40px;background:linear-gradient(#3e26a8 2.182%,#3e26a8 18.86%,#0ebdbb 18.98%,#24c1af 21.01%,#37c897 24.36%,#49cb86 25.67%,#66cd6d 27.35%,#6acd6a 27.47%,#adc638 28.78%,#c8c129 29.38%,#dbbd29 29.86%,#f7ba3c 30.69%,#febe3c 31.05%,#f5ec22 35.24%,#f9fb15 41.33%,#f5ec22 46.95%,#f5e227 47.91%,#fdce31 49.7%,#febd3c 51.14%,#f7ba3c 51.37%,#e4bb2c 51.85%,#dabd28 52.09%,#c1c32c 52.57%,#a5c83d 53.05%,#80cc59 53.65%,#62cd71 54.12%,#4acb85 54.6%,#39c895 55.08%,#25c2ad 55.92%,#0bbdbc 56.52%,#01bac5 56.87%,#02b7cb 57.11%,#12b1d6 57.71%,#1ca9df 58.31%,#2b91ef 59.98%,#2f81fa 60.94%,#416bfe 62.13%,#4758f8 63.21%,#4746ea 64.29%,#463cde 64.88%,#4433cd 65.48%,#3e26a8 67.27%,#3e26a8 97.82%)"></i><i style="left:101.86px;width:3.40px;background:linear-gradient(#3e26a8 2.182%,#3e26a8 18.02%,#0ebebb 18.14%,#24c1ae 20.17%,#37c897 23.4%,#48cb86 24.72%,#67cd6d 26.39%,#acc738 27.82%,#c7c12a 28.42%,#debc2a 29.02%,#f6ba3b 29.74%,#febd3c 30.1%,#fccf30 31.65%,#f5ec22 34.4%,#f9fb15 40.38%,#f5eb23 46%,#fcce31 48.63%,#febe3c 50.06%,#f8ba3d 50.3%,#dbbd29 51.02%,#c3c22b 51.49%,#a8c73b 51.97%,#83cc57 52.57%,#64cd6e 53.05%,#4ccb83 53.53%,#37c897 54.12%,#24c1af 54.96%,#02bac4 55.8%,#01b8c9 56.04%,#13b0d7 56.75%,#1da9e0 57.35%,#2b90f0 59.03%,#2f80fa 59.98%,#3e6fff 60.94%,#475cfa 62.01%,#4746eb 63.33%,#463ddf 63.93%,#4433cc 64.64%,#3e26a8 66.44%,#3e26a8 97.82%)"></i><i style="left:104.47px;width:3.40px;background:linear-gradient(#3e26a8 2.182%,#3e26a8 17.18%,#0fbeba 17.3%,#24c1af 19.22%,#33c69d 21.97%,#38c896 22.56%,#4acb84 23.88%,#67cd6c 25.43%,#acc739 26.87%,#c6c22a 27.47%,#ddbd29 28.06%,#f8ba3d 28.9%,#fdbd3d 29.14%,#fec934 30.22%,#f5eb23 33.44%,#f9fb15 39.42%,#f5ec22 44.92%,#febe3c 48.98%,#f9ba3d 49.22%,#dcbd29 49.94%,#c5c22a 50.42%,#aac73a 50.9%,#7ecc5b 51.61%,#5acc78 52.21%,#49cb85 52.57%,#39c895 53.05%,#25c2ad 53.89%,#0bbdbc 54.48%,#01bac5 54.84%,#02b7cb 55.08%,#12b1d6 55.68%,#1caadf 56.28%,#2b92ef 57.95%,#3080fa 59.03%,#3f6fff 59.98%,#475dfa 61.06%,#4747eb 62.37%,#463bde 63.09%,#4433cd 63.69%,#3e27a9 65.48%,#3e26a8 97.82%)"></i><i style="left:107.07px;width:3.40px;background:linear-gradient(#3e26a8 2.182%,#3e26a8 16.35%,#10beba 16.47%,#24c1ae 18.38%,#33c69d 21.01%,#38c896 21.61%,#4acb84 22.92%,#65cd6e 24.36%,#6bcd69 24.6%,#abc739 25.91%,#c5c22a 26.51%,#dcbd29 27.11%,#f7ba3c 27.94%,#febe3c 28.3%,#f5ec22 32.61%,#f9fb15 38.46%,#f5ec22 43.84%,#feca33 46.95%,#fcbd3d 48.03%,#f5ba3b 48.27%,#ddbd29 48.86%,#c6c22a 49.34%,#a5c83d 49.94%,#63cd70 51.02%,#4bcb83 51.49%,#3ac994 51.97%,#23c1af 52.93%,#02bac4 53.77%,#01b8c9 54%,#13b0d7 54.72%,#1ca9df 55.32%,#2b91ef 56.99%,#2f82fa 57.95%,#3f6fff 59.03%,#475dfa 60.1%,#4848ec 61.42%,#463cdf 62.13%,#4433cc 62.85%,#3e27a9 64.64%,#3e26a8 97.82%)"></i><i style="left:109.67px;width:3.40px;background:linear-gradient(#3e26a8 2.182%,#3e26a8 15.51%,#11beb9 15.63%,#24c1af 17.42%,#33c69e 20.05%,#38c897 20.65%,#4acb84 21.97%,#65cd6e 23.4%,#6ccd68 23.64%,#abc739 24.96%,#c5c22a 25.55%,#dbbd29 26.15%,#f9ba3d 27.11%,#fdbd3d 27.35%,#f5ec22 31.77%,#f9fb15 37.51%,#f5ec22 42.77%,#fec934 46%,#fdbd3d 46.95%,#f6ba3b 47.19%,#e4bb2c 47.67%,#d9bd28 47.91%,#c2c22c 48.39%,#a0c841 48.98%,#66cd6d 49.94%,#4ecc82 50.42%,#3fca8e 50.78%,#25c2ad 51.85%,#0bbdbc 52.45%,#02bac5 52.81%,#02b7cb 53.05%,#11b1d6 53.65%,#1da9e0 54.36%,#2b91ef 56.04%,#2f81fa 56.99%,#416afe 58.31%,#4759f8 59.38%,#4746ea 60.58%,#463bdd 61.3%,#4433cd 61.89%,#3e26a9 63.81%,#3e26a8 97.82%)"></i><i style="left:112.27px;width:3.40px;background:linear-gradient(#3e26a8 2.182%,#3e26a8 14.79%,#13beb8 14.91%,#24c1ae 16.59%,#37c897 19.7%,#4acb85 21.01%,#65cd6e 22.44%,#6ccd68 22.68%,#aac739 24%,#c9c129 24.72%,#dabd28 25.19%,#e6bb2d 25.55%,#f8ba3d 26.15%,#febe3c 26.51%,#f5ec22 30.93%,#f9fb15 36.43%,#f5eb23 41.81%,#fec934 44.92%,#fdbd3d 45.88%,#f7ba3c 46.11%,#dbbd28 46.83%,#c4c22b 47.31%,#a9c73a 47.79%,#7ecc5a 48.51%,#62cd71 48.98%,#4acb84 49.46%,#3ac994 49.94%,#23c1af 50.9%,#02bac4 51.73%,#03b7cc 52.09%,#13b1d7 52.69%,#1ca9df 53.29%,#2c90f0 55.08%,#2f81fa 56.04%,#3f6eff 57.11%,#465dfa 58.19%,#4747eb 59.62%,#463cde 60.34%,#4433cc 61.06%,#3e26a8 62.97%,#3e26a8 97.82%)"></i><i style="left:114.87px;width:3.40px;background:linear-gradient(#3e26a8 2.182%,#3e26a8 13.96%,#14beb8 14.08%,#24c1af 15.63%,#37c897 18.74%,#40ca8d 19.46%,#63cd70 21.37%,#68cd6c 21.61%,#aac73a 23.04%,#c8c129 23.76%,#debd29 24.36%,#f7ba3c 25.19%,#febd3c 25.55%,#fccf30 27.23%,#f5ec23 29.98%,#f9fb15 35.48%,#f5ec23 40.74%,#fdce31 43.37%,#febd3c 44.8%,#f8ba3d 45.04%,#dcbd29 45.76%,#c5c22a 46.23%,#9ec942 46.95%,#64cd6f 47.91%,#4dcb82 48.39%,#38c896 48.98%,#25c2ae 49.82%,#0bbdbc 50.42%,#02bac5 50.78%,#02b7ca 51.02%,#14b0d8 51.73%,#1da9e0 52.33%,#2b91ef 54%,#2f80fa 55.08%,#426afe 56.4%,#4758f8 57.59%,#4747ec 58.67%,#463ddf 59.38%,#4433cd 60.1%,#3e26a8 62.13%,#3e26a8 97.82%)"></i><i style="left:117.47px;width:3.40px;background:linear-gradient(#3e26a8 2.182%,#3e26a8 13.24%,#16bfb7 13.36%,#24c2ae 14.79%,#33c69d 17.3%,#38c896 17.9%,#49cb85 19.1%,#63cd70 20.41%,#68cd6b 20.65%,#aac73a 22.09%,#c7c12a 22.8%,#ddbd29 23.4%,#f8ba3d 24.36%,#fdbd3d 24.6%,#feca33 25.79%,#f5ec22 29.14%,#f9fb15 34.52%,#f5ec22 39.66%,#fccf31 42.29%,#febe3c 43.72%,#f8ba3d 43.96%,#ddbd29 44.68%,#c7c12a 45.16%,#a7c73c 45.76%,#67cd6c 46.83%,#4acb85 47.43%,#39c994 47.91%,#23c1af 48.86%,#02bac4 49.7%,#03b7cc 50.06%,#12b1d7 50.66%,#1caadf 51.26%,#2b91ef 53.05%,#3080fa 54.12%,#3f6eff 55.2%,#4758f8 56.63%,#4746ea 57.83%,#463cde 58.55%,#4433cc 59.26%,#3e26a8 61.3%,#3e26a8 97.82%)"></i><i style="left:120.08px;width:3.40px;background:linear-gradient(#3e26a8 2.182%,#3e26a8 12.4%,#16bfb7 12.52%,#24c1ae 13.96%,#37c897 16.95%,#40ca8d 17.66%,#64cd6f 19.58%,#6bcd69 19.81%,#abc739 21.25%,#c8c129 21.97%,#ddbd29 22.56%,#f8ba3d 23.52%,#fdbd3d 23.76%,#feca33 24.96%,#f5ec23 28.3%,#f9fb15 33.56%,#f5ec23 38.7%,#fdce31 41.33%,#febd3c 42.77%,#f8ba3d 43.01%,#ddbd29 43.72%,#c6c22a 44.2%,#a6c73c 44.8%,#67cd6c 45.88%,#4acb84 46.47%,#3ac994 46.95%,#23c1af 47.91%,#0abdbd 48.51%,#01b9c6 48.86%,#02b7cb 49.1%,#12b1d6 49.7%,#1da9e0 50.42%,#2b92ef 52.09%,#2f81fa 53.17%,#4269fe 54.6%,#4758f8 55.8%,#4746ea 56.99%,#463cde 57.71%,#4433cc 58.43%,#3e26a9 60.46%,#3e26a8 97.82%)"></i><i style="left:122.68px;width:3.40px;background:linear-gradient(#3e26a8 2.182%,#3e26a8 11.69%,#16bfb7 11.81%,#24c2ae 13.24%,#33c69d 15.75%,#37c897 16.23%,#49cb85 17.42%,#64cd6f 18.74%,#6acd6a 18.98%,#a9c73a 20.41%,#c6c22a 21.13%,#dbbd29 21.73%,#e6bb2d 22.09%,#f7ba3c 22.68%,#febd3c 23.04%,#f5ec23 27.59%,#f9fb15 32.85%,#f5ec22 37.75%,#febe3c 41.81%,#f6ba3b 42.17%,#dabd28 42.89%,#c4c22b 43.37%,#aac739 43.84%,#81cc58 44.56%,#5fcd73 45.16%,#49cb86 45.64%,#39c895 46.11%,#26c2ac 46.95%,#02bac4 47.91%,#01b8c9 48.15%,#12b1d7 48.86%,#1da8e0 49.58%,#2b92ef 51.26%,#2f81fa 52.33%,#3f6efe 53.53%,#465dfb 54.6%,#4747eb 56.16%,#463bdd 56.99%,#4433cc 57.71%,#3e27a9 59.74%,#3e26a8 97.82%)"></i><i style="left:125.28px;width:3.40px;background:linear-gradient(#3e26a8 2.182%,#3e26a8 10.97%,#16bfb7 11.09%,#24c1af 12.4%,#37c898 15.39%,#40ca8d 16.11%,#63cd70 17.9%,#69cd6b 18.14%,#acc738 19.7%,#c8c129 20.41%,#ddbd29 21.01%,#f8ba3d 21.97%,#febe3c 22.33%,#f5ec23 26.87%,#f9fb15 32.01%,#f5ec23 36.91%,#fccf30 39.42%,#fdbd3d 40.97%,#f7ba3d 41.21%,#ddbd29 41.93%,#c7c12a 42.41%,#a8c73b 43.01%,#63cd70 44.2%,#4ccb83 44.68%,#38c896 45.28%,#25c2ad 46.11%,#0cbdbc 46.71%,#02bac4 47.07%,#01b8ca 47.31%,#13b1d7 48.03%,#1caadf 48.63%,#2b92ef 50.42%,#2f81fa 51.49%,#3f6eff 52.69%,#4759f8 54.12%,#4746eb 55.44%,#463cdf 56.16%,#4434ce 56.87%,#3e27a9 59.03%,#3e26a8 97.82%)"></i><i style="left:127.88px;width:3.40px;background:linear-gradient(#3e26a8 2.182%,#3e26a8 10.25%,#16bfb7 10.37%,#24c1ae 11.69%,#33c69d 14.2%,#3fca8e 15.27%,#56cc7b 16.47%,#68cd6c 17.3%,#abc739 18.86%,#c6c22a 19.58%,#dbbd29 20.17%,#f9ba3d 21.25%,#fdbd3d 21.49%,#fec934 22.68%,#f5ec23 26.15%,#f9fb15 31.17%,#f5ec22 35.95%,#febe3c 40.02%,#f9bb3d 40.26%,#dabd28 41.09%,#c4c22a 41.57%,#9ec942 42.29%,#67cd6c 43.25%,#4bcb84 43.84%,#37c897 44.44%,#25c2ae 45.28%,#0bbdbc 45.88%,#02bac5 46.23%,#01b7ca 46.47%,#13b0d7 47.19%,#1caadf 47.79%,#2b92ef 49.58%,#2f81fa 50.66%,#3f6eff 51.85%,#465dfa 53.05%,#4747ec 54.6%,#463cde 55.44%,#4433cd 56.16%,#3e27a9 58.31%,#3e26a8 97.82%)"></i><i style="left:130.48px;width:3.40px;background:linear-gradient(#3e26a8 2.182%,#3e26a8 9.534%,#17bfb7 9.653%,#24c1ae 10.97%,#33c69e 13.36%,#3eca8f 14.44%,#4bcb83 15.15%,#67cd6c 16.47%,#a9c73b 18.02%,#c4c22a 18.74%,#ddbd29 19.46%,#f7ba3c 20.41%,#fdbd3d 20.77%,#f5ec23 25.43%,#f9fb15 30.33%,#f5ec23 35.12%,#fec934 38.22%,#fdbd3d 39.18%,#f7ba3c 39.42%,#ddbd29 40.14%,#d3bf27 40.38%,#c2c22c 40.74%,#a9c73a 41.21%,#81cc59 41.93%,#5fcd73 42.53%,#49cb85 43.01%,#39c995 43.48%,#24c1af 44.44%,#0abdbd 45.04%,#01bac5 45.4%,#02b7cb 45.64%,#13b0d7 46.35%,#1ca9df 46.95%,#2b92ef 48.74%,#2f81fa 49.82%,#426afe 51.37%,#4759f8 52.57%,#4747eb 53.89%,#463bdd 54.72%,#4433cd 55.44%,#3e26a8 57.71%,#3e26a8 97.82%)"></i><i style="left:133.08px;width:3.40px;background:linear-gradient(#3e26a8 2.182%,#3e26a8 8.817%,#17bfb6 8.936%,#25c2ae 10.25%,#33c69d 12.64%,#3fca8e 13.72%,#4acb84 14.32%,#6bcd69 15.75%,#acc739 17.3%,#c7c12a 18.02%,#dbbd28 18.62%,#e5bb2d 18.98%,#f8ba3d 19.7%,#febe3c 20.05%,#f5ec23 24.72%,#f9fb15 29.5%,#f5ec22 34.16%,#fccf31 36.79%,#febe3c 38.22%,#f9ba3d 38.46%,#dabd28 39.3%,#c5c22a 39.78%,#adc638 40.26%,#7ecc5b 41.09%,#63cd6f 41.57%,#48cb86 42.17%,#38c896 42.65%,#26c2ac 43.48%,#09bdbe 44.2%,#01b9c6 44.56%,#02b7cb 44.8%,#11b1d6 45.4%,#1ca9df 46.11%,#2b92ef 47.91%,#2f82fa 48.98%,#426afe 50.54%,#4758f8 51.85%,#4746ea 53.17%,#463cdf 53.89%,#4433cc 54.72%,#3e26a8 56.99%,#3e26a8 97.82%)"></i><i style="left:135.69px;width:3.40px;background:linear-gradient(#3e26a8 2.182%,#3e26a8 8.099%,#17bfb6 8.219%,#24c1af 9.414%,#33c79d 11.92%,#4acb85 13.48%,#6acd6a 14.91%,#aac73a 16.47%,#c5c22a 17.18%,#dcbd29 17.9%,#f6ba3b 18.86%,#fdbd3d 19.22%,#fec934 20.41%,#f5ec23 24%,#f9fb15 28.66%,#f5ec23 33.32%,#feca33 36.31%,#fdbd3d 37.39%,#f7ba3c 37.63%,#ddbd29 38.34%,#d3bf27 38.58%,#c2c22c 38.94%,#aac73a 39.42%,#83cc57 40.14%,#61cd71 40.74%,#4bcb83 41.21%,#38c897 41.81%,#25c2ad 42.65%,#02bac4 43.6%,#01b8c9 43.84%,#12b1d6 44.56%,#1ca9df 45.28%,#2b92ef 47.07%,#3080fa 48.27%,#426afe 49.7%,#4758f8 51.02%,#4747eb 52.33%,#463cde 53.17%,#4433cc 54%,#3e26a8 56.28%,#3e26a8 97.82%)"></i><i style="left:138.29px;width:3.40px;background:linear-gradient(#3e26a8 2.182%,#3e26a8 7.382%,#17bfb6 7.502%,#24c1ae 8.697%,#33c69d 11.09%,#3eca8f 12.04%,#4bcb83 12.76%,#69cd6b 14.08%,#a8c73b 15.63%,#c7c12a 16.47%,#debc2a 17.18%,#f7ba3c 18.14%,#fdbd3d 18.5%,#f5ec23 23.28%,#f9fb15 27.82%,#f5ec22 32.37%,#fccf31 35%,#febe3c 36.43%,#f9ba3d 36.67%,#dbbd28 37.51%,#c6c22a 37.99%,#a1c840 38.7%,#66cd6e 39.78%,#4acb85 40.38%,#3ac994 40.85%,#25c2ae 41.81%,#04bbc2 42.65%,#01b8ca 43.01%,#12b1d6 43.72%,#1da9e0 44.44%,#2b92ef 46.23%,#3080fa 47.43%,#4269fe 48.98%,#4758f8 50.3%,#4746ea 51.61%,#463bde 52.45%,#4434ce 53.17%,#3e26a8 55.56%,#3e26a8 97.82%)"></i><i style="left:140.89px;width:3.40px;background:linear-gradient(#3e26a8 2.182%,#3e26a8 6.665%,#18bfb6 6.784%,#24c2ae 7.98%,#33c69d 10.37%,#3fca8e 11.33%,#4acb84 11.92%,#68cd6b 13.24%,#abc739 14.91%,#c5c22a 15.63%,#dcbd29 16.35%,#f8ba3d 17.42%,#febe3c 17.78%,#f5ec23 22.56%,#f9fb15 26.99%,#f5ec23 31.53%,#feca33 34.52%,#fcbd3d 35.59%,#f7ba3c 35.83%,#ddbd29 36.55%,#d3bf27 36.79%,#c3c22b 37.15%,#abc739 37.63%,#7ecc5b 38.46%,#63cd6f 38.94%,#49cb86 39.54%,#39c895 40.02%,#24c1af 40.97%,#03bbc2 41.81%,#01b9c8 42.05%,#17aeda 43.13%,#1da9e0 43.6%,#2b92ef 45.4%,#2f80fa 46.59%,#426afe 48.15%,#4758f8 49.46%,#4747eb 50.78%,#463cdf 51.61%,#4433cd 52.45%,#3e26a9 54.84%,#3e26a8 97.82%)"></i><i style="left:143.49px;width:3.40px;background:linear-gradient(#3e26a8 2.182%,#3e26a8 6.067%,#19bfb5 6.187%,#25c2ae 7.262%,#33c69e 9.534%,#3eca8f 10.49%,#49cb85 11.09%,#68cd6c 12.4%,#aac73a 14.08%,#c8c129 14.91%,#debd29 15.63%,#f6ba3c 16.59%,#fdbd3d 16.95%,#fec934 18.14%,#f5ec23 21.85%,#f9fb15 26.15%,#f5ec22 30.57%,#fdce31 33.2%,#febd3c 34.64%,#f8ba3d 34.88%,#dbbd29 35.71%,#c6c22a 36.19%,#a9c73b 36.79%,#62cd71 38.11%,#47cb87 38.7%,#38c896 39.18%,#23c1af 40.14%,#02bbc3 40.97%,#01b8c8 41.21%,#1caadf 42.65%,#2b92ef 44.56%,#2e86f8 45.4%,#3875fe 46.47%,#4368fe 47.43%,#4757f7 48.74%,#4747eb 50.06%,#463cde 50.9%,#4433cd 51.73%,#3e27a9 54.12%,#3e26a8 97.82%)"></i><i style="left:146.09px;width:3.40px;background:linear-gradient(#3e26a8 2.182%,#3e26a8 5.35%,#1abfb5 5.469%,#24c1ae 6.426%,#33c69d 8.817%,#49cb86 10.25%,#67cd6c 11.57%,#a8c73b 13.24%,#c6c22a 14.08%,#dcbd29 14.79%,#f7ba3d 15.87%,#fdbd3d 16.23%,#f5ec23 21.13%,#f9fb15 25.43%,#f5eb23 29.74%,#feca33 32.73%,#fcbd3d 33.8%,#f6ba3c 34.04%,#ddbd29 34.76%,#c4c22b 35.36%,#a0c841 36.07%,#66cd6d 37.15%,#4acb84 37.75%,#37c897 38.34%,#26c2ad 39.18%,#02bac3 40.14%,#01b8c9 40.38%,#1caadf 41.81%,#2b92ef 43.72%,#2f80fa 44.92%,#4369fe 46.59%,#4758f8 47.91%,#4746ea 49.34%,#463cde 50.18%,#4433cc 51.02%,#3e27a9 53.41%,#3e26a8 97.82%)"></i><i style="left:148.69px;width:3.40px;background:linear-gradient(#3e26a8 2.182%,#3e26a8 4.752%,#1bc0b4 4.872%,#2bc3a8 6.665%,#33c69e 7.98%,#3eca8f 8.936%,#4acb84 9.534%,#6acd6a 10.85%,#abc739 12.52%,#c4c22b 13.24%,#dabd28 13.96%,#f8ba3d 15.15%,#febe3c 15.51%,#f5ec23 20.41%,#f9fb15 24.6%,#f5ec22 28.78%,#fdce31 31.41%,#fdbd3d 32.85%,#f8ba3d 33.08%,#dbbd29 33.92%,#c7c12a 34.4%,#aac73a 35%,#64cd6f 36.31%,#49cb85 36.91%,#3ac994 37.39%,#25c2ae 38.34%,#05bbc1 39.18%,#01b8c9 39.54%,#13b0d7 40.38%,#1caadf 40.97%,#2b92ee 42.89%,#2f81fa 44.08%,#4269fe 45.76%,#4759f8 47.07%,#4747eb 48.51%,#463bdd 49.46%,#4433cc 50.3%,#3e26a8 52.81%,#3e26a8 97.82%)"></i><i style="left:151.30px;width:3.40px;background:linear-gradient(#3e26a8 2.182%,#3e26a8 4.154%,#1dc0b3 4.274%,#2cc4a7 5.947%,#33c69d 7.262%,#3fca8e 8.219%,#49cb85 8.697%,#69cd6a 10.01%,#a9c73a 11.69%,#c6c22a 12.52%,#dcbd29 13.24%,#f7ba3c 14.32%,#fdbd3d 14.67%,#feca34 15.99%,#f5ec23 19.7%,#f9fb15 23.76%,#f5eb23 27.94%,#febe3c 31.89%,#f6ba3b 32.25%,#ddbd29 32.96%,#c4c22b 33.56%,#a7c73c 34.16%,#82cc58 34.88%,#62cd71 35.48%,#48cb86 36.07%,#39c895 36.55%,#24c1ae 37.51%,#04bbc2 38.34%,#01b8ca 38.7%,#12b1d6 39.42%,#1caadf 40.14%,#2b92ee 42.05%,#317dfc 43.48%,#4368fe 45.04%,#4758f8 46.35%,#4746ea 47.79%,#463cdf 48.63%,#4434ce 49.46%,#3e26a8 52.09%,#3e26a8 97.82%)"></i><i style="left:153.90px;width:3.40px;background:linear-gradient(#3e26a8 2.182%,#3e26a8 3.437%,#1dc0b3 3.557%,#33c79d 6.545%,#48cb86 7.86%,#69cd6b 9.175%,#a8c73b 10.85%,#c5c22a 11.69%,#debd29 12.52%,#f8ba3d 13.6%,#fdbd3d 13.96%,#feca33 15.27%,#f5ec23 18.98%,#f9fb15 22.92%,#f5ec22 26.99%,#fec934 30.1%,#fdbd3d 31.05%,#f8ba3d 31.29%,#dbbd29 32.13%,#d2bf27 32.37%,#c2c22c 32.73%,#abc739 33.2%,#7fcc5a 34.04%,#4bcb84 35.12%,#38c896 35.71%,#23c1af 36.67%,#03bbc2 37.51%,#01b9c8 37.75%,#1ca9df 39.3%,#2e86f7 42.05%,#3975fe 43.25%,#4368fe 44.2%,#4758f8 45.52%,#4747eb 46.95%,#463cde 47.91%,#4433cd 48.74%,#3e26a8 51.37%,#3e26a8 97.82%)"></i><i style="left:156.50px;width:5.60px;background:linear-gradient(#3e26a8 2.182%,#3e26a8 2.839%,#1fc0b2 2.959%,#33c69d 5.708%,#3eca90 6.545%,#4acb85 7.143%,#68cd6c 8.338%,#abc739 10.13%,#c7c12a 10.97%,#dcbd29 11.69%,#f8ba3d 12.88%,#febe3c 13.24%,#f5ec23 18.26%,#f9fb15 22.09%,#f5eb23 26.15%,#febe3c 30.1%,#f6ba3b 30.45%,#debd29 31.17%,#c5c22a 31.77%,#a2c83f 32.49%,#64cd6f 33.68%,#4acb85 34.28%,#37c897 34.88%,#26c2ad 35.71%,#02bbc3 36.67%,#01b8c8 36.91%,#12b1d7 37.75%,#1ca9df 38.46%,#2e86f7 41.21%,#3975fe 42.41%,#4269fe 43.37%,#4758f8 44.8%,#4747eb 46.23%,#463bdd 47.19%,#4433cc 48.03%,#3e26a8 50.66%,#3e26a8 97.82%)"></i></div></div><div class="hm" style="left:24.00px;top:236.20px;width:156.30px;height:129.50px"><div class="hb" style="left:-3px;top:-3px;width:162.30px;height:135.50px"><i style="left:0.00px;width:58.50px;background:#3e26a8"></i><i style="left:57.70px;width:3.41px;background:linear-gradient(#3e26a8 2.214%,#3e26a8 33.69%,#4539d9 33.81%,#4539d9 37.04%,#484aee 41.82%,#465efb 44.68%,#3e6fff 46.95%,#2f81fa 49.34%,#2b91ef 51.61%,#1ca9df 55.44%,#12b1d6 56.87%,#01b8ca 58.3%,#02bac4 58.78%,#0bbdbc 59.38%,#24c1ae 60.45%,#3fca8e 62.6%,#58cc7a 63.68%,#a1c840 65.71%,#c5c22a 66.78%,#ddbd29 67.62%,#f7ba3c 68.7%,#febe3c 69.17%,#f5ec22 75.15%,#f9fb15 84.82%,#f9fb15 97.79%)"></i><i style="left:60.31px;width:3.40px;background:linear-gradient(#3e26a8 2.214%,#3e26a8 32.74%,#4539d9 32.86%,#4639d9 36.2%,#484aee 40.98%,#465dfb 43.73%,#3f6fff 46.12%,#2f81fa 48.51%,#2b91ef 50.78%,#1ca9df 54.6%,#12b1d7 56.03%,#01b8ca 57.47%,#02bac4 57.94%,#0bbdbd 58.54%,#23c1af 59.62%,#3fca8e 61.77%,#56cc7a 62.84%,#a0c841 64.87%,#c4c22a 65.95%,#ddbd29 66.78%,#f7ba3c 67.86%,#febe3c 68.34%,#fccf30 70.49%,#f5e327 73%,#f5ec22 74.31%,#f9fb15 83.99%,#f9fb15 97.79%)"></i><i style="left:62.91px;width:3.40px;background:linear-gradient(#3e26a8 2.214%,#3e26a8 31.66%,#4539d9 31.78%,#4539d9 35.25%,#484aee 40.14%,#465dfa 42.89%,#3f6fff 45.28%,#2f81fa 47.67%,#2b91ef 49.94%,#1ca9e0 53.76%,#11b1d6 55.32%,#01b7ca 56.63%,#02bac5 57.11%,#0abdbd 57.71%,#25c2ae 58.9%,#3eca8f 60.93%,#55cc7b 62.01%,#9fc942 64.04%,#c4c22b 65.11%,#ddbd29 65.95%,#f7ba3c 67.02%,#febe3c 67.5%,#fccf30 69.65%,#f5e327 72.16%,#f5ec22 73.47%,#f9fb15 83.15%,#f9fb15 97.79%)"></i><i style="left:65.52px;width:3.41px;background:linear-gradient(#3e26a8 2.214%,#3e26a8 30.71%,#4539d9 30.83%,#4539d9 34.29%,#484aee 39.31%,#465dfa 42.06%,#3f6eff 44.44%,#2f81fa 46.83%,#2b91ef 49.1%,#1da9e0 52.93%,#12b1d6 54.48%,#02b7cb 55.79%,#02bac4 56.39%,#24c2ae 58.06%,#3fca8e 60.21%,#57cc7a 61.29%,#9dc943 63.2%,#c7c12a 64.4%,#dcbd29 65.11%,#f7ba3c 66.19%,#febe3c 66.67%,#f5ec22 72.52%,#f9fb15 82.32%,#f9fb15 97.79%)"></i><i style="left:68.12px;width:3.41px;background:linear-gradient(#3e26a8 2.214%,#3e26a8 29.75%,#4539d9 29.87%,#4639d9 33.45%,#484aee 38.47%,#465dfa 41.22%,#3f6eff 43.61%,#2f81fa 46%,#2b92ef 48.39%,#1ca9df 52.21%,#12b1d6 53.64%,#01b8ca 55.08%,#02bac4 55.56%,#0bbdbc 56.15%,#24c1af 57.23%,#3fca8e 59.38%,#56cc7b 60.45%,#a1c840 62.48%,#c6c22a 63.56%,#dcbd29 64.28%,#f6ba3c 65.35%,#febe3c 65.83%,#f5ec22 71.68%,#f9fb15 81.36%,#f9fb15 97.79%)"></i><i style="left:70.73px;width:3.40px;background:linear-gradient(#3e26a8 2.214%,#3e26a8 28.79%,#4539d9 28.91%,#4539d9 32.5%,#484aee 37.52%,#465efb 40.5%,#3e6fff 42.89%,#2f81fa 45.28%,#2b91ef 47.55%,#1ca9df 51.37%,#12b1d6 52.81%,#01b8ca 54.24%,#02bac4 54.72%,#0bbdbd 55.32%,#25c2ad 56.51%,#40ca8d 58.66%,#57cc7a 59.74%,#9fc941 61.65%,#c5c22a 62.72%,#dbbd29 63.44%,#f6ba3b 64.51%,#febe3c 64.99%,#fccf30 67.14%,#f5ec22 70.85%,#f9fb15 80.52%,#f9fb15 97.79%)"></i><i style="left:73.33px;width:3.41px;background:linear-gradient(#3e26a8 2.214%,#3e26a8 27.84%,#4539d9 27.96%,#4539d9 31.54%,#484aee 36.68%,#465efb 39.67%,#3e6fff 42.06%,#2f81fa 44.44%,#2b91ef 46.71%,#1ca9df 50.54%,#12b1d7 51.97%,#01b8ca 53.4%,#02bac4 53.88%,#0abdbd 54.48%,#25c2ae 55.67%,#3fca8e 57.82%,#56cc7b 58.9%,#9ec942 60.81%,#c5c22a 61.89%,#dbbd29 62.6%,#f9ba3d 63.8%,#febe3c 64.16%,#fccf30 66.31%,#f5e227 68.7%,#f5ec22 70.01%,#f9fb15 79.69%,#f9fb15 97.79%)"></i><i style="left:75.94px;width:3.41px;background:linear-gradient(#3e26a8 2.214%,#3e26a8 26.88%,#4539d9 27%,#4639d9 30.71%,#484aee 35.84%,#465efb 38.83%,#3e6fff 41.22%,#2f81fa 43.61%,#2b91ef 45.88%,#1ca9e0 49.7%,#12b1d7 51.13%,#02b7ca 52.57%,#02bac3 53.17%,#24c1ae 54.84%,#3eca8f 56.99%,#58cc79 58.18%,#9dc943 59.98%,#c4c22b 61.05%,#dabd28 61.77%,#f9ba3d 62.96%,#febe3c 63.32%,#fccf30 65.47%,#f5e327 67.86%,#f5ec22 69.17%,#f9fb15 78.85%,#f9fb15 97.79%)"></i><i style="left:78.55px;width:3.41px;background:linear-gradient(#3e26a8 2.214%,#3e26a8 25.93%,#4539d9 26.05%,#4539d9 29.75%,#484aee 35.01%,#465efb 37.99%,#3f6fff 40.38%,#2f81fa 42.77%,#2b91ef 45.04%,#1da9e0 48.87%,#12b1d6 50.42%,#02b7cb 51.73%,#02bac4 52.33%,#23c1af 54%,#3eca8f 56.15%,#57cc7a 57.35%,#a0c841 59.26%,#c3c22b 60.21%,#d3bf27 60.69%,#ddbd29 61.05%,#f8ba3d 62.13%,#febe3c 62.48%,#f5ec22 68.22%,#f9fb15 78.01%,#f9fb15 97.79%)"></i><i style="left:81.15px;width:3.40px;background:linear-gradient(#3e26a8 2.214%,#3e26a8 24.97%,#4539d9 25.09%,#4539d9 28.79%,#484aee 34.17%,#465efb 37.16%,#3f6fff 39.55%,#2f81fa 42.06%,#2b92ef 44.33%,#1ca9df 48.15%,#12b1d6 49.58%,#01b8ca 51.02%,#02bac4 51.49%,#0bbdbd 52.09%,#25c2ae 53.29%,#3fca8e 55.44%,#56cc7b 56.51%,#9fc941 58.42%,#c6c22a 59.5%,#ddbd29 60.21%,#f8ba3d 61.29%,#febe3c 61.65%,#fccf31 63.68%,#f5ec22 67.38%,#f9fb15 77.06%,#f9fb15 97.79%)"></i><i style="left:83.75px;width:3.41px;background:linear-gradient(#3e26a8 2.214%,#3e26a8 24.14%,#4539d9 24.26%,#4539d9 27.84%,#484aee 33.33%,#465efb 36.32%,#3f6eff 38.71%,#2f81fa 41.22%,#2b91ef 43.49%,#1ca9df 47.31%,#12b1d6 48.75%,#01b8ca 50.18%,#02bac4 50.66%,#0abdbd 51.25%,#24c2ae 52.45%,#3eca8f 54.6%,#57cc7a 55.79%,#9ec942 57.59%,#c6c22a 58.66%,#ddbd29 59.38%,#f8ba3d 60.45%,#febe3c 60.81%,#fccf30 62.84%,#f5ec22 66.55%,#f9fb15 76.22%,#f9fb15 97.79%)"></i><i style="left:86.36px;width:3.41px;background:linear-gradient(#3e26a8 2.214%,#3e26a8 23.18%,#4539d9 23.3%,#4539d9 27%,#484aee 32.5%,#465efb 35.49%,#3e6fff 37.99%,#2f81fa 40.38%,#2b91ef 42.65%,#1ca9df 46.48%,#12b1d7 47.91%,#01b7ca 49.34%,#02bac3 49.94%,#24c1af 51.61%,#3fca8e 53.88%,#56cc7b 54.96%,#a1c840 56.87%,#c5c22a 57.82%,#dcbd29 58.54%,#f8ba3d 59.62%,#febe3c 59.98%,#fccf30 62.01%,#f5e227 64.4%,#f5ec22 65.71%,#f9fb15 75.39%,#f9fb15 97.79%)"></i><i style="left:88.97px;width:3.40px;background:linear-gradient(#3e26a8 2.214%,#3e26a8 22.34%,#4539d9 22.46%,#4539d9 26.05%,#484aee 31.66%,#465efb 34.65%,#3e6fff 37.16%,#2f81fa 39.55%,#2b91ef 41.82%,#1da9e0 45.64%,#11b1d6 47.19%,#02b7cb 48.51%,#02bac4 49.1%,#23c1af 50.78%,#3fca8e 53.05%,#58cc79 54.24%,#a0c841 56.03%,#c4c22b 56.99%,#dbbd29 57.71%,#f8ba3d 58.78%,#febe3c 59.14%,#fccf30 61.17%,#f5e227 63.56%,#f5ec22 64.87%,#f9fb15 74.55%,#f9fb15 97.79%)"></i><i style="left:91.57px;width:3.41px;background:linear-gradient(#3e26a8 2.214%,#3e26a8 21.39%,#4539d9 21.51%,#4639d9 25.21%,#484aee 30.83%,#465efb 33.81%,#3e6fff 36.32%,#2f81fa 38.71%,#2b91ef 40.98%,#1caadf 44.92%,#12b1d6 46.36%,#01b8ca 47.79%,#02bac4 48.27%,#0bbdbd 48.87%,#24c2ae 50.06%,#3eca8f 52.21%,#57cc7a 53.4%,#a8c73b 55.44%,#c7c129 56.27%,#dbbd29 56.87%,#f8ba3d 57.94%,#febe3c 58.3%,#fccf30 60.33%,#f5ec22 63.92%,#f6ef20 65.95%,#f9fb15 73.71%,#f9fb15 97.79%)"></i><i style="left:94.17px;width:3.41px;background:linear-gradient(#3e26a8 2.214%,#3e26a8 20.55%,#4539d9 20.67%,#4539d9 24.26%,#484aee 29.99%,#465efb 32.98%,#3f6fff 35.49%,#2f81fa 37.99%,#2b91ef 40.26%,#1ca9df 44.09%,#12b1d6 45.52%,#01b8ca 46.95%,#02bac4 47.43%,#0abdbd 48.03%,#24c1ae 49.22%,#3fca8e 51.49%,#55cc7b 52.57%,#66cd6d 53.05%,#a7c73c 54.6%,#c6c22a 55.44%,#debd2a 56.15%,#f8ba3d 57.11%,#febe3c 57.47%,#fccf30 59.5%,#f5ec22 63.08%,#f9fb15 72.76%,#f9fb15 97.79%)"></i><i style="left:96.78px;width:3.41px;background:linear-gradient(#3e26a8 2.214%,#3e26a8 19.72%,#4539d9 19.84%,#4539d9 23.3%,#484aee 29.15%,#465dfb 32.14%,#3e6fff 34.77%,#2f81fa 37.16%,#2b91ef 39.43%,#1ca9df 43.25%,#12b1d7 44.68%,#01b8ca 46.12%,#02bac3 46.71%,#23c1af 48.39%,#3eca8f 50.66%,#57cc7a 51.85%,#a1c840 53.64%,#c6c22a 54.6%,#ddbd29 55.32%,#f7ba3c 56.27%,#febd3c 56.63%,#fccf30 58.66%,#f5ec22 62.25%,#f9fb15 71.92%,#f9fb15 97.79%)"></i><i style="left:99.39px;width:3.40px;background:linear-gradient(#3e26a8 2.214%,#3e26a8 18.88%,#4539d9 19%,#4639d9 22.46%,#484aee 28.32%,#465dfb 31.3%,#3e6fff 33.93%,#2f81fa 36.32%,#2b91ef 38.59%,#1ca9e0 42.41%,#12b1d7 43.85%,#02b7ca 45.28%,#02bac4 45.88%,#24c2ae 47.67%,#3eca90 49.82%,#56cc7b 51.02%,#9fc941 52.81%,#c5c22a 53.76%,#d1bf27 54.12%,#ddbd29 54.48%,#f7ba3c 55.44%,#febd3c 55.79%,#fccf30 57.82%,#f5ec23 61.29%,#f9fb15 70.97%,#f9fb15 97.79%)"></i><i style="left:101.99px;width:3.41px;background:linear-gradient(#3e26a8 2.214%,#3e26a8 18.04%,#4539d9 18.16%,#4539d9 21.51%,#484aee 27.48%,#465efb 30.59%,#3e6fff 33.1%,#2f81fa 35.49%,#2b91ef 37.75%,#1da9e0 41.58%,#12b1d6 43.13%,#02b7cb 44.44%,#02bac4 45.04%,#0abdbd 45.64%,#24c1ae 46.83%,#3fca8e 49.1%,#57cc7a 50.3%,#9ec942 51.97%,#c4c22b 52.93%,#d1bf27 53.29%,#dcbd29 53.64%,#f7ba3c 54.6%,#febd3c 54.96%,#fccf30 56.99%,#f5ec22 60.45%,#f9fb15 70.13%,#f9fb15 97.79%)"></i><i style="left:104.59px;width:3.41px;background:linear-gradient(#3e26a8 2.214%,#3e26a8 17.21%,#4539d9 17.33%,#4539d9 20.55%,#484aee 26.64%,#465dfb 29.63%,#3e6fff 32.26%,#2f81fa 34.77%,#2b91ef 37.04%,#1ca9df 40.86%,#12b1d6 42.29%,#01b8ca 43.73%,#02bac4 44.21%,#0abdbd 44.8%,#25c2ad 46.12%,#40ca8d 48.39%,#56cc7b 49.46%,#abc739 51.49%,#c7c12a 52.21%,#dcbd29 52.81%,#f7ba3c 53.76%,#fdbd3d 54.12%,#fccf30 56.15%,#f5ec22 59.62%,#f9fb15 69.29%,#f9fb15 97.79%)"></i><i style="left:107.20px;width:3.40px;background:linear-gradient(#3e26a8 2.214%,#3e26a8 16.37%,#4539d9 16.49%,#4539d9 19.72%,#484aee 25.81%,#465dfb 28.79%,#3e6fff 31.42%,#2f81fa 33.93%,#2b91ef 36.2%,#1ca9df 40.02%,#12b1d6 41.46%,#01b8ca 42.89%,#02bac3 43.49%,#25c2ae 45.28%,#3fca8e 47.55%,#58cc79 48.75%,#a0c841 50.42%,#c6c22a 51.37%,#dbbd29 51.97%,#e6bb2d 52.33%,#f7ba3c 52.93%,#febf3b 53.4%,#f5ec22 58.78%,#f9fb15 68.46%,#f9fb15 97.79%)"></i><i style="left:109.80px;width:3.41px;background:linear-gradient(#3e26a8 2.214%,#3e26a8 15.53%,#4539d9 15.65%,#4539d9 18.76%,#484aee 24.97%,#465dfa 27.96%,#3f6fff 30.59%,#2f81fa 33.1%,#2b91ef 35.37%,#1ca9df 39.19%,#12b1d7 40.62%,#01b7ca 42.06%,#02bac4 42.65%,#24c1ae 44.44%,#3eca8f 46.71%,#56cc7a 47.91%,#9ec942 49.58%,#c5c22a 50.54%,#dabd28 51.13%,#e6bb2d 51.49%,#f6ba3c 52.09%,#febf3b 52.57%,#f5ec22 57.94%,#f9fb15 67.62%,#f9fb15 97.79%)"></i><i style="left:112.41px;width:3.41px;background:linear-gradient(#3e26a8 2.214%,#3e26a8 14.82%,#4539d9 14.94%,#4539d9 17.8%,#484aee 24.14%,#465efb 27.24%,#3e6fff 29.87%,#2f81fa 32.26%,#2b91ef 34.53%,#1da9e0 38.35%,#11b1d6 39.91%,#02b7cb 41.22%,#02bac4 41.82%,#0abdbd 42.41%,#23c1af 43.61%,#3fca8e 46%,#58cc79 47.19%,#9dc943 48.75%,#c4c22a 49.7%,#dabd28 50.3%,#f9bb3d 51.37%,#febf3b 51.73%,#f5ec22 57.11%,#f9fb15 66.67%,#f9fb15 97.79%)"></i><i style="left:115.02px;width:3.41px;background:linear-gradient(#3e26a8 2.214%,#3e26a8 13.98%,#4539d9 14.1%,#4539d9 16.97%,#484aee 23.3%,#465efb 26.41%,#3e6fff 29.03%,#2f81fa 31.54%,#2b92ef 33.81%,#1caadf 37.64%,#12b1d6 39.07%,#01b8ca 40.5%,#02bac4 40.98%,#0cbdbc 41.7%,#25c2ae 42.89%,#3fca8e 45.16%,#57cc7a 46.36%,#abc739 48.27%,#c8c129 48.98%,#ddbd29 49.58%,#efba35 50.18%,#f9ba3d 50.54%,#febf3b 50.9%,#f5ec22 56.15%,#f9fb15 65.83%,#f9fb15 97.79%)"></i><i style="left:117.62px;width:3.40px;background:linear-gradient(#3e26a8 2.214%,#3e26a8 13.26%,#4539d9 13.38%,#4539d9 16.01%,#484aee 22.46%,#465efb 25.57%,#3e6fff 28.2%,#2f81fa 30.71%,#2b91ef 32.98%,#1ca9df 36.8%,#12b1d6 38.23%,#01b8ca 39.67%,#02bac4 40.26%,#24c1ae 42.06%,#3eca8f 44.33%,#58cc79 45.64%,#9ec942 47.19%,#c6c22a 48.15%,#dcbd29 48.75%,#f8ba3d 49.7%,#febf3c 50.06%,#f5ec22 55.32%,#f9fb15 64.99%,#f9fb15 97.79%)"></i><i style="left:120.22px;width:3.41px;background:linear-gradient(#3e26a8 2.214%,#3e26a8 12.43%,#4539d9 12.55%,#4539d9 15.18%,#484aee 21.63%,#465dfb 24.73%,#3f6fff 27.36%,#2f81fa 29.87%,#2b91ef 32.14%,#1da9e0 35.96%,#12b1d6 37.52%,#01b8ca 38.95%,#02bac4 39.43%,#0cbdbc 40.14%,#25c2ae 41.34%,#3eca8f 43.61%,#56cc7b 44.8%,#63cd6f 45.16%,#a0c841 46.48%,#c4c22b 47.31%,#dabd28 47.91%,#e6bb2d 48.27%,#f7ba3c 48.87%,#febe3c 49.22%,#fccf30 51.13%,#f5ec23 54.48%,#f9fb15 64.16%,#f9fb15 97.79%)"></i><i style="left:122.83px;width:3.41px;background:linear-gradient(#3e26a8 2.214%,#3e26a8 11.71%,#4539d9 11.83%,#4539d9 14.22%,#484aee 20.79%,#465efb 24.02%,#3e6fff 26.64%,#2f81fa 29.15%,#2b91ef 31.42%,#1ca9df 35.25%,#12b1d6 36.68%,#01b7ca 38.11%,#02bac4 38.71%,#23c1af 40.5%,#3fca8e 42.89%,#57cc7a 44.09%,#9dc943 45.64%,#c6c22a 46.6%,#ddbd29 47.19%,#efba35 47.79%,#f9bb3d 48.15%,#febf3b 48.51%,#f5ec23 53.64%,#f9fb15 63.32%,#f9fb15 97.79%)"></i><i style="left:125.44px;width:3.41px;background:linear-gradient(#3e26a8 2.214%,#3e26a8 10.99%,#4539d9 11.11%,#4539d9 13.38%,#484aee 19.95%,#465efb 23.18%,#3f6fff 25.81%,#2f82fa 28.44%,#2b91ef 30.59%,#1da9e0 34.41%,#12b1d6 35.96%,#01b8ca 37.4%,#02bac4 37.87%,#0cbdbc 38.59%,#24c1ae 39.79%,#40ca8d 42.18%,#58cc7a 43.37%,#a0c941 44.92%,#c4c22b 45.76%,#dbbd28 46.36%,#e7bb2e 46.71%,#f8ba3d 47.31%,#febf3c 47.67%,#f5ec22 52.93%,#f9fb15 62.6%,#f9fb15 97.79%)"></i><i style="left:128.04px;width:3.41px;background:linear-gradient(#3e26a8 2.214%,#3e26a8 10.28%,#4539d9 10.4%,#4539d9 12.55%,#484aee 19.24%,#465dfb 22.34%,#3e6fff 25.09%,#2f81fa 27.6%,#2b91ef 29.87%,#1ca9df 33.69%,#12b1d7 35.13%,#01b7ca 36.56%,#02bac4 37.16%,#23c1af 38.95%,#3eca8f 41.34%,#56cc7b 42.53%,#63cd70 42.89%,#a7c73c 44.33%,#c7c12a 45.04%,#ddbd29 45.64%,#f7ba3c 46.48%,#febe3c 46.83%,#fccf30 48.75%,#f5ec22 52.09%,#f9fb15 61.77%,#f9fb15 97.79%)"></i><i style="left:130.64px;width:3.41px;background:linear-gradient(#3e26a8 2.214%,#3e26a8 9.561%,#4539d9 9.681%,#4539d9 11.59%,#484aee 18.4%,#465dfa 21.51%,#3f6fff 24.26%,#2f81fa 26.88%,#2b92ef 29.15%,#1da9e0 32.86%,#12b1d6 34.41%,#01b8ca 35.84%,#02bac4 36.32%,#0bbdbc 37.04%,#24c1ae 38.23%,#3fca8e 40.62%,#56cc7a 41.82%,#9fc942 43.37%,#c4c22b 44.21%,#dbbd29 44.8%,#f9bb3d 45.76%,#febf3b 46.12%,#f5ec22 51.25%,#f9fb15 60.93%,#f9fb15 97.79%)"></i><i style="left:133.25px;width:3.41px;background:linear-gradient(#3e26a8 2.214%,#3e26a8 8.844%,#4539d9 8.964%,#4539d9 10.76%,#484aee 17.57%,#465efb 20.79%,#3e6fff 23.54%,#2f81fa 26.05%,#2b91ef 28.32%,#1ca9df 32.14%,#12b1d7 33.57%,#01b7ca 35.01%,#02bac4 35.6%,#25c2ae 37.52%,#3eca8f 39.79%,#57cc7a 41.1%,#a1c840 42.65%,#c7c12a 43.49%,#debd29 44.09%,#f8ba3d 44.92%,#febf3c 45.28%,#f5ec22 50.42%,#f9fb15 60.09%,#f9fb15 97.79%)"></i><i style="left:135.85px;width:3.41px;background:linear-gradient(#3e26a8 2.214%,#3e26a8 8.128%,#4539d9 8.247%,#4539d9 9.92%,#484aee 16.73%,#465efb 20.07%,#3e6fff 22.7%,#2f81fa 25.33%,#2b92ef 27.6%,#1da9e0 31.3%,#12b1d6 32.86%,#01b8ca 34.29%,#02bac3 34.89%,#23c1af 36.68%,#3eca8f 39.07%,#58cc79 40.38%,#9ec942 41.82%,#c4c22b 42.65%,#dcbd29 43.25%,#f7ba3c 44.09%,#febe3c 44.44%,#fccf31 46.24%,#f5ec22 49.58%,#f9fb15 59.26%,#f9fb15 97.79%)"></i><i style="left:138.46px;width:3.41px;background:linear-gradient(#3e26a8 2.214%,#3e26a8 7.411%,#4539d9 7.53%,#4539d9 8.964%,#484aee 16.01%,#465efb 19.24%,#3e6fff 21.99%,#2f81fa 24.49%,#2b91ef 26.76%,#1ca9df 30.59%,#12b1d7 32.02%,#01b7ca 33.45%,#02bac4 34.05%,#0cbdbc 34.77%,#24c1ae 35.96%,#3fca8e 38.35%,#56cc7b 39.55%,#64cd6f 39.91%,#a6c83d 41.22%,#c7c12a 41.94%,#dabd28 42.41%,#eeba34 43.01%,#f9ba3d 43.37%,#fec03b 43.73%,#f5ec22 48.75%,#f9fb15 58.42%,#f9fb15 97.79%)"></i><i style="left:141.06px;width:3.41px;background:linear-gradient(#3e26a8 2.214%,#3e26a8 6.694%,#4539d9 6.813%,#4539d9 8.128%,#484aee 15.18%,#465efb 18.4%,#3e6fff 21.15%,#2f81fa 23.78%,#2b91ef 26.05%,#1caadf 29.87%,#12b1d6 31.3%,#01b8ca 32.74%,#02bac3 33.33%,#23c1af 35.13%,#3fca8e 37.64%,#57cc7a 38.83%,#9dc943 40.26%,#c4c22b 41.1%,#dcbd29 41.7%,#f8ba3d 42.53%,#febf3c 42.89%,#f5ec22 47.91%,#f9fb15 57.59%,#f9fb15 97.79%)"></i><i style="left:143.67px;width:3.41px;background:linear-gradient(#3e26a8 2.214%,#3e26a8 6.097%,#4539d9 6.216%,#4639d9 7.291%,#484aee 14.34%,#465dfb 17.57%,#3f6eff 20.31%,#2f81fa 22.94%,#2b91ef 25.21%,#1ca9df 29.03%,#12b1d7 30.47%,#02b7ca 31.9%,#02bac4 32.5%,#0cbdbc 33.22%,#24c1ae 34.41%,#3eca8f 36.8%,#57cc7a 38.11%,#9fc941 39.55%,#c7c12a 40.38%,#dabd28 40.86%,#e7bb2e 41.22%,#f6ba3c 41.7%,#febe3c 42.06%,#fccf30 43.85%,#f5ec22 47.07%,#f9fb15 56.75%,#f9fb15 97.79%)"></i><i style="left:146.28px;width:3.41px;background:linear-gradient(#3e26a8 2.214%,#3e26a8 5.38%,#4539d9 5.499%,#484aee 13.5%,#465efb 16.85%,#3e6fff 19.6%,#2f81fa 22.22%,#2b91ef 24.49%,#1caadf 28.32%,#12b1d6 29.75%,#01b8ca 31.18%,#02bac4 31.78%,#25c2ae 33.69%,#3fca8e 36.08%,#59cc78 37.4%,#a2c83f 38.83%,#c4c22b 39.55%,#ddbd29 40.14%,#f9ba3d 40.98%,#fec03b 41.34%,#f5ec23 46.24%,#f9fb15 55.91%,#f9fb15 97.79%)"></i><i style="left:148.88px;width:3.41px;background:linear-gradient(#3e26a8 2.214%,#3e26a8 4.783%,#4539d9 4.902%,#484aee 12.79%,#465dfb 16.01%,#3f6fff 18.76%,#2f81fa 21.39%,#2b91ef 23.66%,#1ca9df 27.48%,#12b1d7 28.91%,#02b7ca 30.35%,#02bac4 30.95%,#0bbdbc 31.66%,#23c1af 32.86%,#3fca8e 35.37%,#56cc7b 36.56%,#66cd6d 36.92%,#abc739 38.23%,#c7c12a 38.83%,#dbbd28 39.31%,#f7ba3c 40.14%,#febf3b 40.5%,#f5ec22 45.52%,#f9fb15 55.08%,#f9fb15 97.79%)"></i><i style="left:151.48px;width:3.41px;background:linear-gradient(#3e26a8 2.214%,#3e26a8 4.185%,#4539d9 4.305%,#484aee 11.95%,#4758f8 14.34%,#426afe 17.21%,#3875fe 19%,#2f81fa 20.67%,#2b91ef 22.94%,#1da9e0 26.64%,#12b1d6 28.2%,#01b8ca 29.63%,#02bac4 30.23%,#24c1ae 32.14%,#3eca8f 34.53%,#57cc7a 35.84%,#a1c840 37.28%,#c4c22b 37.99%,#ddbd29 38.59%,#f6ba3b 39.31%,#febe3c 39.67%,#fccf30 41.46%,#f5ec22 44.68%,#f9fb15 54.24%,#f9fb15 97.79%)"></i><i style="left:154.09px;width:3.41px;background:linear-gradient(#3e26a8 2.214%,#3e26a8 3.468%,#4539d9 3.588%,#484aee 11.11%,#4758f8 13.5%,#4269fe 16.37%,#327cfc 19.24%,#2b91ef 22.1%,#1ca9df 25.93%,#12b1d7 27.36%,#02b7cb 28.79%,#02bbc3 29.51%,#23c1af 31.3%,#3fca8e 33.81%,#58cc79 35.13%,#9dc943 36.44%,#c7c12a 37.28%,#dbbd29 37.75%,#f1ba37 38.35%,#f8ba3d 38.59%,#fec03b 38.95%,#f5ec22 43.85%,#f9fb15 53.52%,#f9fb15 97.79%)"></i><i style="left:156.69px;width:5.61px;background:linear-gradient(#3e26a8 2.214%,#3e26a8 2.871%,#4639d9 2.991%,#484aee 10.4%,#4758f8 12.79%,#426afe 15.65%,#3876fe 17.57%,#2e87f7 19.95%,#1ca9df 25.21%,#12b1d6 26.64%,#01b7ca 28.08%,#02bac4 28.68%,#0cbdbc 29.39%,#25c2ad 30.71%,#3fca8e 33.1%,#58cc79 34.41%,#abc739 35.96%,#c8c129 36.56%,#ddbd29 37.04%,#f6ba3b 37.75%,#febe3c 38.11%,#f5ec22 43.01%,#f9fb15 52.69%,#f9fb15 97.79%)"></i></div></div><div class="hm" style="left:264.00px;top:236.00px;width:156.00px;height:129.60px"><div class="hb" style="left:-3px;top:-3px;width:162.00px;height:135.60px"><i style="left:0.00px;width:58.40px;background:#3e26a8"></i><i style="left:57.60px;width:104.40px;background:#f9fb15"></i></div></div><div class="hm" style="left:502.80px;top:233.10px;width:156.20px;height:132.50px"><div class="hb" style="left:-3px;top:-3px;width:162.20px;height:138.50px"><i style="left:0.00px;width:58.47px;background:#f9fb15"></i><i style="left:57.67px;width:3.40px;background:linear-gradient(#f9fb15 2.166%,#f9fb15 33.68%,#f5e825 33.8%,#f9d82c 45.16%,#febf3b 50.3%,#f6ba3c 50.78%,#dbbd29 51.73%,#cfc028 52.09%,#c2c22c 52.45%,#aac73a 53.05%,#81cc58 54.01%,#47cb87 55.44%,#37c897 56.04%,#25c2ae 57%,#05bbc1 57.95%,#01b8c8 58.31%,#12b1d6 59.27%,#1ca9e0 60.22%,#2b91ef 62.62%,#2f81fa 64.05%,#3e70ff 65.73%,#4563fd 67.16%,#484df0 69.79%,#463cde 71.82%,#4433cc 73.14%,#3e26a8 81.51%,#3e26a8 97.83%)"></i><i style="left:60.27px;width:3.40px;background:linear-gradient(#f9fb15 2.166%,#f9fb15 32.72%,#f5e825 32.84%,#f9d82c 44.2%,#febf3c 49.34%,#f9ba3d 49.7%,#dbbd28 50.78%,#c6c22a 51.38%,#9fc941 52.33%,#70cd65 53.41%,#4acb84 54.36%,#39c995 54.96%,#25c2ae 56.04%,#02bac3 57.12%,#01b8c8 57.35%,#13b0d7 58.43%,#1ca9df 59.27%,#2b91ef 61.66%,#2f81fa 63.09%,#3e70ff 64.77%,#4563fc 66.2%,#484df0 68.83%,#463cdf 70.75%,#4433cd 72.06%,#3e26a8 80.55%,#3e26a8 97.83%)"></i><i style="left:62.88px;width:3.40px;background:linear-gradient(#f9fb15 2.166%,#f9fb15 31.64%,#f5e825 31.76%,#f9d82c 43.24%,#febe3c 48.39%,#f8ba3d 48.74%,#debd29 49.7%,#c5c22a 50.42%,#9fc942 51.38%,#65cd6e 52.69%,#4acb84 53.41%,#39c895 54.01%,#25c2ad 55.08%,#02bac3 56.16%,#01b9c8 56.4%,#18addb 57.83%,#1ca9df 58.31%,#2b91ef 60.7%,#2f81fa 62.14%,#3e6fff 63.81%,#4563fc 65.25%,#484cf0 67.88%,#463cdf 69.79%,#4433cc 71.11%,#3e26a8 79.6%,#3e26a8 97.83%)"></i><i style="left:65.48px;width:3.40px;background:linear-gradient(#f9fb15 2.166%,#f9fb15 30.69%,#f5e825 30.81%,#f9d82c 42.29%,#febe3c 47.43%,#f8ba3d 47.79%,#ddbd29 48.74%,#d1bf27 49.1%,#c4c22a 49.46%,#9ec942 50.42%,#64cd6e 51.73%,#49cb85 52.45%,#39c895 53.05%,#25c2ad 54.13%,#02bbc3 55.2%,#01b8ca 55.56%,#13b0d7 56.52%,#1ca9df 57.35%,#2b91ef 59.75%,#2f82fa 61.06%,#3e6fff 62.86%,#4562fc 64.29%,#484df0 66.8%,#463cde 68.83%,#4433cd 70.03%,#3e26a8 78.64%,#3e26a8 97.83%)"></i><i style="left:68.08px;width:3.40px;background:linear-gradient(#f9fb15 2.166%,#f9fb15 29.73%,#f5e825 29.85%,#f9d82c 41.21%,#febe3c 46.47%,#f7ba3d 46.83%,#ddbd29 47.79%,#d1bf27 48.15%,#c4c22b 48.51%,#9dc943 49.46%,#64cd6f 50.78%,#49cb85 51.49%,#39c895 52.09%,#25c2ad 53.17%,#02bbc3 54.25%,#01b8ca 54.6%,#13b1d7 55.56%,#1ca9df 56.4%,#2b91ef 58.79%,#2f82fa 60.1%,#3e6fff 61.9%,#4563fd 63.21%,#484df0 65.84%,#463cdf 67.76%,#4433cc 69.07%,#3e26a8 77.8%,#3e26a8 97.83%)"></i><i style="left:70.69px;width:3.40px;background:linear-gradient(#f9fb15 2.166%,#f9fb15 28.77%,#f5e825 28.89%,#f9d82c 40.25%,#febd3c 45.52%,#f7ba3c 45.87%,#dcbd29 46.83%,#d0bf27 47.19%,#c3c22b 47.55%,#abc739 48.15%,#82cc58 49.1%,#49cb86 50.54%,#38c895 51.14%,#25c2ad 52.21%,#03bbc3 53.29%,#01b8c9 53.65%,#13b1d7 54.6%,#1ca9df 55.44%,#2b91ef 57.83%,#2f82fa 59.15%,#3e70ff 60.82%,#4563fc 62.26%,#484cf0 64.89%,#463cde 66.8%,#4433cc 68.12%,#3e26a8 76.85%,#3e26a8 97.83%)"></i><i style="left:73.29px;width:3.40px;background:linear-gradient(#f9fb15 2.166%,#f9fb15 27.82%,#f5e825 27.94%,#f9d82c 39.3%,#febf3b 44.44%,#f6ba3c 44.92%,#dbbd29 45.87%,#cfc028 46.23%,#c2c22c 46.59%,#abc739 47.19%,#81cc58 48.15%,#62cd70 48.86%,#48cb86 49.58%,#38c896 50.18%,#25c2ad 51.26%,#03bbc2 52.33%,#01b8c9 52.69%,#12b1d7 53.65%,#1ca9df 54.48%,#2b91ef 56.88%,#2f81fa 58.19%,#3e70ff 59.87%,#4563fc 61.3%,#484df0 63.81%,#463ddf 65.73%,#4433cc 67.04%,#3e26a8 75.89%,#3e26a8 97.83%)"></i><i style="left:75.89px;width:3.40px;background:linear-gradient(#f9fb15 2.166%,#f9fb15 26.86%,#f5e825 26.98%,#f9d82c 38.34%,#febf3c 43.48%,#f9ba3d 43.84%,#dbbd28 44.92%,#c6c22a 45.52%,#a0c841 46.47%,#66cd6d 47.79%,#48cb86 48.62%,#38c896 49.22%,#25c2ad 50.3%,#03bbc2 51.38%,#01b8c9 51.73%,#12b1d7 52.69%,#1caadf 53.53%,#2b91ef 55.92%,#2f81fa 57.23%,#3e6fff 58.91%,#4562fc 60.34%,#484df0 62.86%,#463cdf 64.77%,#4433cc 66.08%,#3e26a8 74.93%,#3e26a8 97.83%)"></i><i style="left:78.50px;width:3.40px;background:linear-gradient(#f9fb15 2.166%,#f9fb15 25.9%,#f5e825 26.02%,#f9d82c 37.26%,#febe3c 42.53%,#f8ba3d 42.88%,#debd29 43.84%,#c5c22a 44.56%,#9fc942 45.52%,#66cd6d 46.83%,#4bcb84 47.55%,#38c896 48.27%,#25c2ad 49.34%,#03bbc2 50.42%,#01b8c9 50.78%,#12b1d6 51.73%,#1caadf 52.57%,#2b91ef 54.96%,#2f81fa 56.28%,#3e6fff 57.95%,#4563fd 59.27%,#484cf0 61.9%,#463cde 63.81%,#4433cc 65.01%,#3e26a8 73.98%,#3e26a8 97.83%)"></i><i style="left:81.10px;width:3.40px;background:linear-gradient(#f9fb15 2.166%,#f9fb15 24.95%,#f5e825 25.07%,#f9d82c 36.31%,#febe3c 41.57%,#f8ba3d 41.93%,#ddbd29 42.88%,#d1bf27 43.24%,#c5c22a 43.6%,#9ec942 44.56%,#65cd6e 45.87%,#4acb84 46.59%,#38c896 47.31%,#25c2ad 48.39%,#04bbc2 49.46%,#01b8c8 49.82%,#1caadf 51.61%,#2b90ef 54.01%,#2f81fa 55.32%,#3e6fff 57%,#4563fc 58.31%,#484df0 60.82%,#463cdf 62.74%,#4433cc 64.05%,#3e26a8 73.14%,#3e26a8 97.83%)"></i><i style="left:83.70px;width:3.40px;background:linear-gradient(#f9fb15 2.166%,#f9fb15 24.11%,#f5e825 24.23%,#f9d82c 35.35%,#febe3c 40.61%,#f7ba3d 40.97%,#ddbd29 41.93%,#d1bf27 42.29%,#c4c22b 42.65%,#9dc943 43.6%,#64cd6f 44.92%,#4acb84 45.64%,#38c897 46.35%,#25c2ad 47.43%,#04bbc2 48.51%,#01b8c8 48.86%,#1caadf 50.66%,#2b90ef 53.05%,#2f82f9 54.25%,#3d70ff 55.92%,#4563fc 57.35%,#484df0 59.87%,#463cde 61.78%,#4433cd 62.97%,#3e26a8 72.18%,#3e26a8 97.83%)"></i><i style="left:86.31px;width:3.40px;background:linear-gradient(#f9fb15 2.166%,#f9fb15 23.15%,#f5e825 23.27%,#f9d82c 34.39%,#febd3c 39.66%,#f7ba3c 40.01%,#dcbd29 40.97%,#d0bf27 41.33%,#c3c22b 41.69%,#acc739 42.29%,#83cc57 43.24%,#63cd6f 43.96%,#4acb85 44.68%,#37c897 45.4%,#25c2ad 46.47%,#04bbc1 47.55%,#01b9c8 47.91%,#1caadf 49.7%,#2b92ee 51.97%,#2f82fa 53.29%,#3e70ff 54.96%,#4562fc 56.4%,#484cf0 58.91%,#463ddf 60.7%,#4433cc 62.02%,#3e26a8 71.23%,#3e26a8 97.83%)"></i><i style="left:88.91px;width:3.40px;background:linear-gradient(#f9fb15 2.166%,#f9fb15 22.32%,#f5e825 22.44%,#f9d82c 33.44%,#febe3c 38.7%,#f8ba3d 39.06%,#ddbd29 40.01%,#d1bf27 40.37%,#c4c22b 40.73%,#9ec943 41.69%,#64cd6f 43%,#4acb84 43.72%,#38c896 44.44%,#23c1af 45.64%,#03bbc3 46.71%,#01b8c9 47.07%,#12b1d7 48.03%,#1ca9e0 48.86%,#2b91ef 51.14%,#2f81fa 52.45%,#3d70ff 54.01%,#4563fc 55.44%,#484cf0 57.95%,#463ddf 59.75%,#4433cc 61.06%,#3e26a8 70.39%,#3e26a8 97.83%)"></i><i style="left:91.51px;width:3.40px;background:linear-gradient(#f9fb15 2.166%,#f9fb15 21.36%,#f5e825 21.48%,#f9d82c 32.48%,#febf3c 37.74%,#f9bb3d 38.1%,#dbbd29 39.18%,#c6c22a 39.78%,#aac739 40.49%,#62cd70 42.17%,#49cb85 42.88%,#37c897 43.6%,#25c2ad 44.68%,#02bbc3 45.87%,#01b8c9 46.23%,#13b0d7 47.19%,#1da9e0 48.03%,#2b92ee 50.18%,#2f82fa 51.49%,#3e6fff 53.17%,#4563fd 54.48%,#484df0 57%,#463cde 58.91%,#4433cc 60.1%,#3e26a8 69.55%,#3e26a8 97.83%)"></i><i style="left:94.12px;width:3.40px;background:linear-gradient(#f9fb15 2.166%,#f9fb15 20.52%,#f5e825 20.64%,#f9d82c 31.64%,#febe3c 36.91%,#f8ba3d 37.26%,#ddbd29 38.22%,#d1bf27 38.58%,#c4c22a 38.94%,#9ec942 39.9%,#65cd6e 41.21%,#4bcb84 41.93%,#39c895 42.65%,#25c2ae 43.84%,#02bac4 45.04%,#01b8ca 45.4%,#13b0d7 46.35%,#1caadf 47.07%,#2b91ef 49.34%,#2f81fa 50.66%,#3d70ff 52.21%,#4562fc 53.65%,#484df0 56.04%,#463cdf 57.95%,#4433cd 59.15%,#3e26a8 68.72%,#3e26a8 97.83%)"></i><i style="left:96.72px;width:3.40px;background:linear-gradient(#f9fb15 2.166%,#f9fb15 19.69%,#f5e825 19.8%,#f9d82c 30.69%,#febf3b 35.95%,#f6ba3c 36.43%,#dbbd29 37.38%,#c2c22c 38.1%,#abc739 38.7%,#82cc58 39.66%,#63cd70 40.37%,#4acb85 41.09%,#38c896 41.81%,#24c1ae 43%,#04bbc2 44.08%,#01b8c8 44.44%,#1ca9df 46.23%,#2b91ef 48.51%,#2f82fa 49.7%,#3e6fff 51.38%,#4563fd 52.69%,#484df0 55.2%,#463cdf 57%,#4433cc 58.31%,#3e26a8 67.88%,#3e26a8 97.83%)"></i><i style="left:99.32px;width:3.40px;background:linear-gradient(#f9fb15 2.166%,#f9fb15 18.85%,#f5e725 18.97%,#f9d82c 29.85%,#febe3c 35.11%,#f8ba3d 35.47%,#ddbd29 36.43%,#d2bf27 36.79%,#c5c22a 37.14%,#9fc942 38.1%,#65cd6e 39.42%,#4ccb83 40.13%,#39c994 40.85%,#23c1af 42.17%,#03bbc2 43.24%,#01b8c8 43.6%,#1ca9df 45.4%,#2b92ef 47.55%,#2f81fa 48.86%,#3d70ff 50.42%,#4562fc 51.85%,#484df0 54.25%,#463cde 56.16%,#4433cc 57.35%,#3e26a8 67.04%,#3e26a8 97.83%)"></i><i style="left:101.93px;width:3.40px;background:linear-gradient(#f9fb15 2.166%,#f9fb15 18.01%,#f5e725 18.13%,#f9d82c 28.89%,#fdbd3d 34.27%,#f7ba3c 34.63%,#dcbd29 35.59%,#c3c22b 36.31%,#abc739 36.91%,#83cc57 37.86%,#63cd6f 38.58%,#4acb84 39.3%,#39c895 40.01%,#25c2ad 41.21%,#03bbc3 42.41%,#01b8c9 42.77%,#18aedb 44.08%,#1da9e0 44.56%,#2b91ef 46.71%,#2f81fa 48.03%,#3e6fff 49.58%,#4563fd 50.9%,#484cf0 53.41%,#463cdf 55.2%,#4433cc 56.4%,#3e26a8 66.2%,#3e26a8 97.83%)"></i><i style="left:104.53px;width:3.40px;background:linear-gradient(#f9fb15 2.166%,#f9fb15 17.17%,#f5e725 17.29%,#f9d82c 27.94%,#febe3c 33.32%,#f8ba3d 33.68%,#debd29 34.63%,#c5c22a 35.35%,#a9c73a 36.07%,#80cc59 37.03%,#61cd71 37.74%,#49cb85 38.46%,#38c896 39.18%,#24c2ae 40.37%,#02bbc3 41.57%,#01b8c9 41.93%,#1caadf 43.6%,#2b91ef 45.87%,#2f82fa 47.07%,#3d70ff 48.62%,#4562fc 50.06%,#484df0 52.45%,#463cdf 54.25%,#4433cc 55.56%,#3e26a8 65.25%,#3e26a8 97.83%)"></i><i style="left:107.13px;width:3.40px;background:linear-gradient(#f9fb15 2.166%,#f9fb15 16.34%,#f5e725 16.46%,#f9d82c 27.1%,#febd3c 32.48%,#f7ba3c 32.84%,#dcbd29 33.8%,#d0bf27 34.16%,#c3c22b 34.51%,#acc738 35.11%,#7ecc5b 36.19%,#64cd6f 36.79%,#4bcb84 37.5%,#39c895 38.22%,#24c1af 39.54%,#02bac3 40.73%,#01b8c9 41.09%,#13b0d7 42.05%,#1caadf 42.77%,#2b92ef 44.92%,#2f81fa 46.23%,#3e6fff 47.79%,#4563fc 49.1%,#484df0 51.49%,#463cde 53.41%,#4433cc 54.6%,#3e26a8 64.41%,#3e26a8 97.83%)"></i><i style="left:109.74px;width:3.40px;background:linear-gradient(#f9fb15 2.166%,#f9fb15 15.5%,#f5e725 15.62%,#f9d82c 26.14%,#febe3c 31.52%,#f9ba3d 31.88%,#dabd28 32.96%,#c6c22a 33.56%,#aac73a 34.27%,#81cc59 35.23%,#62cd71 35.95%,#49cb85 36.67%,#38c896 37.38%,#25c2ad 38.58%,#04bbc2 39.78%,#01b8ca 40.25%,#11b1d6 41.09%,#1ca9df 41.93%,#2b91ef 44.08%,#2f82fa 45.28%,#3e6fff 46.95%,#4562fc 48.27%,#484cf0 50.66%,#463cdf 52.45%,#4433cc 53.65%,#3e26a8 63.57%,#3e26a8 97.83%)"></i><i style="left:112.34px;width:3.40px;background:linear-gradient(#f9fb15 2.166%,#f9fb15 14.78%,#f5e725 14.9%,#f9d82c 25.31%,#febe3c 30.69%,#f7ba3c 31.05%,#ddbd29 32%,#d1bf27 32.36%,#c4c22b 32.72%,#a8c73b 33.44%,#7ecc5a 34.39%,#60cd72 35.11%,#4ccb83 35.71%,#37c897 36.55%,#25c2ae 37.74%,#0cbdbc 38.58%,#02bac4 39.06%,#01b8ca 39.42%,#12b1d6 40.25%,#1ca9e0 41.09%,#2b91ef 43.24%,#2f81fa 44.44%,#3e70ff 45.99%,#4563fc 47.31%,#484df0 49.7%,#463cdf 51.49%,#4433cd 52.69%,#3e26a8 62.74%,#3e26a8 97.83%)"></i><i style="left:114.94px;width:3.40px;background:linear-gradient(#f9fb15 2.166%,#f9fb15 13.95%,#f5e725 14.06%,#f9d82c 24.35%,#febf3c 29.73%,#f9ba3d 30.09%,#dbbd29 31.17%,#c6c22a 31.76%,#aac739 32.48%,#62cd70 34.16%,#4acb84 34.87%,#39c895 35.59%,#24c1ae 36.91%,#0bbdbd 37.74%,#02bac5 38.22%,#01b7ca 38.58%,#12b1d7 39.42%,#1da9e0 40.25%,#2b92ef 42.29%,#2f81fa 43.6%,#3d70ff 45.04%,#4563fd 46.35%,#484cf0 48.86%,#463cde 50.66%,#4433cc 51.85%,#3e26a8 61.9%,#3e26a8 97.83%)"></i><i style="left:117.55px;width:3.40px;background:linear-gradient(#f9fb15 2.166%,#f9fb15 13.23%,#f5e626 13.35%,#f9d82c 23.51%,#febe3c 28.89%,#f8ba3d 29.25%,#ddbd29 30.21%,#d1bf27 30.57%,#c4c22a 30.93%,#a8c73b 31.64%,#7fcc5a 32.6%,#60cd72 33.32%,#4ccb83 33.92%,#38c896 34.75%,#23c1af 36.07%,#0abdbd 36.91%,#02bac5 37.38%,#02b7cb 37.74%,#13b1d7 38.58%,#1da8e0 39.42%,#2b91ef 41.45%,#2f82fa 42.65%,#3e70ff 44.2%,#4563fc 45.52%,#484df0 47.91%,#463cde 49.7%,#4433cc 50.9%,#3e26a8 61.06%,#3e26a8 97.83%)"></i><i style="left:120.15px;width:3.40px;background:linear-gradient(#f9fb15 2.166%,#f9fb15 12.39%,#f5e626 12.51%,#f9d82c 22.67%,#febe3c 28.06%,#f8ba3d 28.41%,#debd29 29.37%,#c5c22a 30.09%,#a9c73a 30.81%,#66cd6d 32.36%,#4dcc82 33.08%,#39c895 33.92%,#24c1ae 35.23%,#0bbdbc 36.07%,#02bac4 36.55%,#01b8ca 36.91%,#12b1d6 37.74%,#1da9e0 38.58%,#2b92ef 40.61%,#2f82fa 41.81%,#3e70ff 43.36%,#4563fc 44.68%,#484df0 47.07%,#463cde 48.86%,#4433cc 50.06%,#3e26a8 60.34%,#3e26a8 97.83%)"></i><i style="left:122.75px;width:3.40px;background:linear-gradient(#f9fb15 2.166%,#f9fb15 11.67%,#f5e626 11.79%,#f9d82c 21.96%,#febe3c 27.34%,#f8ba3d 27.7%,#ddbd29 28.65%,#d1bf27 29.01%,#c5c22a 29.37%,#a8c73b 30.09%,#66cd6e 31.64%,#4dcb82 32.36%,#39c895 33.2%,#24c2ae 34.51%,#02bac4 35.83%,#02b7cb 36.31%,#13b0d7 37.14%,#1ca9e0 37.86%,#2b91ef 39.9%,#2f82fa 41.09%,#3e70ff 42.65%,#4563fc 43.96%,#484cf0 46.35%,#463ddf 48.03%,#4433cc 49.34%,#3e26a8 59.63%,#3e26a8 97.83%)"></i><i style="left:125.36px;width:3.40px;background:linear-gradient(#f9fb15 2.166%,#f9fb15 10.96%,#f5e626 11.08%,#f9d82c 21.24%,#febe3c 26.62%,#f7ba3c 26.98%,#ddbd29 27.94%,#d1bf27 28.3%,#c4c22b 28.65%,#a8c73b 29.37%,#7fcc5a 30.33%,#5ccc76 31.17%,#4ccb83 31.64%,#39c895 32.48%,#24c2ae 33.8%,#02bac4 35.11%,#02b7cb 35.59%,#13b0d7 36.43%,#1ca9df 37.14%,#2b91ef 39.18%,#2f82fa 40.37%,#3974fe 41.45%,#4564fd 43.12%,#484df0 45.52%,#463cdf 47.31%,#4433cc 48.51%,#3e26a8 58.91%,#3e26a8 97.83%)"></i><i style="left:127.96px;width:3.40px;background:linear-gradient(#f9fb15 2.166%,#f9fb15 10.24%,#f5e626 10.36%,#f9d82c 20.4%,#febd3c 25.9%,#f7ba3c 26.26%,#dcbd29 27.22%,#c3c22b 27.94%,#acc738 28.53%,#7ecc5b 29.61%,#5bcc77 30.45%,#4ccb83 30.93%,#38c896 31.76%,#24c2ae 33.08%,#02bac3 34.39%,#02b7cb 34.87%,#13b0d7 35.71%,#1ca9df 36.43%,#2b91ef 38.46%,#2f82fa 39.66%,#3974fe 40.73%,#4563fd 42.41%,#484df0 44.8%,#463cde 46.59%,#4433cc 47.79%,#3e26a8 58.31%,#3e26a8 97.83%)"></i><i style="left:130.56px;width:3.40px;background:linear-gradient(#f9fb15 2.166%,#f9fb15 9.521%,#f5e626 9.64%,#f9d82c 19.69%,#fdbd3d 25.19%,#f6ba3c 25.54%,#dcbd29 26.5%,#c3c22b 27.22%,#abc739 27.82%,#83cc57 28.77%,#64cd6f 29.49%,#4bcb83 30.21%,#38c896 31.05%,#25c2ae 32.36%,#0abdbe 33.32%,#01bac5 33.8%,#02b7cb 34.16%,#13b1d7 34.99%,#1ca9df 35.71%,#2b91ef 37.74%,#2f81fa 38.94%,#3d70ff 40.37%,#4563fd 41.69%,#484cf0 44.08%,#463ddf 45.75%,#4433cc 46.95%,#3e26a8 57.59%,#3e26a8 97.83%)"></i><i style="left:133.17px;width:3.40px;background:linear-gradient(#f9fb15 2.166%,#f9fb15 8.803%,#f5e626 8.923%,#f9d82c 18.97%,#febf3c 24.35%,#f9ba3d 24.71%,#dbbd29 25.78%,#c7c12a 26.38%,#abc739 27.1%,#63cd70 28.77%,#4bcb84 29.49%,#38c896 30.33%,#25c2ae 31.64%,#0abdbd 32.6%,#02bac5 33.08%,#01b7ca 33.44%,#12b1d7 34.27%,#1ca9df 34.99%,#2b91ef 37.03%,#2f81fa 38.22%,#3d70ff 39.66%,#4563fc 40.97%,#484df0 43.24%,#463cdf 45.04%,#4433cc 46.23%,#3e26a8 56.88%,#3e26a8 97.83%)"></i><i style="left:135.77px;width:3.40px;background:linear-gradient(#f9fb15 2.166%,#f9fb15 8.086%,#f5e626 8.205%,#f9d82c 18.25%,#febe3c 23.63%,#f8ba3d 23.99%,#dabd28 25.07%,#c6c22a 25.66%,#aac73a 26.38%,#81cc58 27.34%,#59cc78 28.3%,#4bcb84 28.77%,#38c896 29.61%,#25c2ae 30.93%,#0abdbd 31.88%,#02bac5 32.36%,#01b8ca 32.72%,#12b1d7 33.56%,#1caadf 34.27%,#2b91ef 36.31%,#2f81fa 37.5%,#3e70ff 38.94%,#4563fc 40.25%,#484df0 42.53%,#463cde 44.32%,#4433cd 45.4%,#3e26a8 56.16%,#3e26a8 97.83%)"></i><i style="left:138.37px;width:3.40px;background:linear-gradient(#f9fb15 2.166%,#f9fb15 7.368%,#f5e626 7.488%,#f9d82c 17.41%,#febe3c 22.91%,#f8ba3d 23.27%,#debd29 24.23%,#c5c22a 24.95%,#9fc941 25.9%,#55cc7c 27.7%,#3eca8f 28.53%,#25c2ae 30.21%,#0abdbd 31.17%,#02bac4 31.64%,#01b8ca 32%,#18addb 33.2%,#1da8e0 33.68%,#2b91ef 35.59%,#2f81fa 36.79%,#3e70ff 38.22%,#4562fc 39.54%,#484cf0 41.81%,#463cdf 43.48%,#4433cc 44.68%,#3e26a8 55.56%,#3e26a8 97.83%)"></i><i style="left:140.98px;width:3.40px;background:linear-gradient(#f9fb15 2.166%,#f9fb15 6.65%,#f5e626 6.77%,#f9d82c 16.7%,#febe3c 22.2%,#f8ba3d 22.56%,#ddbd29 23.51%,#d1bf27 23.87%,#c5c22a 24.23%,#9fc942 25.19%,#54cc7c 26.98%,#3eca8f 27.82%,#25c2ae 29.49%,#0abdbd 30.45%,#02bac4 30.93%,#02b7cb 31.4%,#18aedb 32.48%,#1da8e0 32.96%,#2b91ef 34.87%,#2f81fa 36.07%,#3e6fff 37.5%,#4563fd 38.7%,#484cf0 41.09%,#463cde 42.77%,#4433cc 43.96%,#3e26a8 54.84%,#3e26a8 97.83%)"></i><i style="left:143.58px;width:3.40px;background:linear-gradient(#f9fb15 2.166%,#f9fb15 6.053%,#f5e626 6.172%,#f9d82c 15.98%,#febd3c 21.48%,#f7ba3c 21.84%,#ddbd29 22.79%,#d1bf27 23.15%,#c4c22b 23.51%,#9ec942 24.47%,#57cc7a 26.14%,#3eca8f 27.1%,#25c2ae 28.77%,#0bbdbd 29.73%,#02bac4 30.21%,#02b7cb 30.69%,#18aedb 31.76%,#1da9e0 32.24%,#2b91ef 34.16%,#2f80fa 35.35%,#3e6fff 36.79%,#4563fd 37.98%,#484df0 40.25%,#463ddf 41.93%,#4433cc 43.12%,#3e26a8 54.13%,#3e26a8 97.83%)"></i><i style="left:146.18px;width:3.40px;background:linear-gradient(#f9fb15 2.166%,#f9fb15 5.335%,#f5e626 5.455%,#f9d82c 15.26%,#fdbd3d 20.76%,#f7ba3c 21.12%,#dcbd29 22.08%,#c3c22b 22.79%,#9dc943 23.75%,#57cc7a 25.43%,#3eca8f 26.38%,#25c2ae 28.06%,#02bac4 29.49%,#02b7cb 29.97%,#17aedb 31.05%,#1da9e0 31.52%,#2b91ef 33.44%,#2f82fa 34.51%,#3d70ff 35.95%,#4563fc 37.26%,#484df0 39.54%,#463cdf 41.21%,#4433cc 42.41%,#3e26a8 53.41%,#3e26a8 97.83%)"></i><i style="left:148.79px;width:3.40px;background:linear-gradient(#f9fb15 2.166%,#f9fb15 4.737%,#f5e526 4.857%,#f9d82c 14.42%,#fec13a 19.8%,#fdbd3d 20.04%,#f6ba3c 20.4%,#dcbd29 21.36%,#c3c22b 22.08%,#9dc943 23.03%,#56cc7a 24.71%,#3eca8f 25.66%,#25c2ae 27.34%,#02bac4 28.77%,#02b7cb 29.25%,#17aeda 30.33%,#1da9e0 30.81%,#2b91ef 32.72%,#2f82fa 33.8%,#3875fe 34.75%,#4564fd 36.43%,#484df1 38.7%,#463cde 40.49%,#4433cc 41.57%,#3e26a8 52.81%,#3e26a8 97.83%)"></i><i style="left:151.39px;width:3.40px;background:linear-gradient(#f9fb15 2.166%,#f9fb15 4.139%,#f5e526 4.259%,#f9d82c 13.71%,#fec934 17.05%,#fdbd3d 19.33%,#f9ba3d 19.57%,#dbbd29 20.64%,#c7c12a 21.24%,#a1c840 22.2%,#56cc7b 23.99%,#3eca90 24.95%,#25c2ad 26.62%,#02bac4 28.06%,#01b7ca 28.53%,#17aeda 29.61%,#1da9e0 30.09%,#2b91ef 32%,#2f82fa 33.08%,#3975fe 34.04%,#4563fd 35.71%,#484df0 37.98%,#463ddf 39.66%,#4433cc 40.85%,#3e26a8 52.09%,#3e26a8 97.83%)"></i><i style="left:153.99px;width:3.40px;background:linear-gradient(#f9fb15 2.166%,#f9fb15 3.422%,#f5e526 3.541%,#f9d82c 12.99%,#febe3c 18.49%,#f8ba3d 18.85%,#dabd28 19.92%,#c6c22a 20.52%,#a0c841 21.48%,#56cc7b 23.27%,#3dca90 24.23%,#25c2ad 25.9%,#02bac3 27.34%,#01b8ca 27.82%,#17aeda 28.89%,#1da9e0 29.37%,#2b91ef 31.28%,#2f81fa 32.36%,#3975fe 33.32%,#4563fd 34.99%,#484df0 37.26%,#463cdf 38.94%,#4433cc 40.13%,#3e26a8 51.38%,#3e26a8 97.83%)"></i><i style="left:156.60px;width:5.60px;background:linear-gradient(#f9fb15 2.166%,#f9fb15 2.824%,#f5e526 2.943%,#f9d82c 12.27%,#febe3c 17.77%,#f8ba3d 18.13%,#debd29 19.09%,#c5c22a 19.8%,#a0c941 20.76%,#55cc7b 22.56%,#40ca8d 23.39%,#25c2ad 25.19%,#0cbdbc 26.14%,#02bac5 26.74%,#01b8ca 27.1%,#17aeda 28.18%,#1ca9e0 28.65%,#2b91ef 30.57%,#2f81fa 31.64%,#3e6fff 33.08%,#4563fc 34.27%,#484cf0 36.55%,#463cde 38.22%,#4433cc 39.3%,#3e26a8 50.66%,#3e26a8 97.83%)"></i></div></div><svg width="708" height="418" viewBox="0 0 708 418" style="position:absolute;left:0;top:0;will-change:transform;font-family:'Liberation Sans',sans-serif"><defs><linearGradient id="cbg" x2="0" y2="1"><stop offset="0.0000" stop-color="#f9fb15"/><stop offset="0.0159" stop-color="#f7f51b"/><stop offset="0.0317" stop-color="#f6ef20"/><stop offset="0.0476" stop-color="#f5e924"/><stop offset="0.0635" stop-color="#f5e327"/><stop offset="0.0794" stop-color="#f7dc2a"/><stop offset="0.0952" stop-color="#fad62d"/><stop offset="0.1111" stop-color="#fccf30"/><stop offset="0.1270" stop-color="#fec934"/><stop offset="0.1429" stop-color="#fec338"/><stop offset="0.1587" stop-color="#febe3c"/><stop offset="0.1746" stop-color="#f8ba3d"/><stop offset="0.1905" stop-color="#f0ba36"/><stop offset="0.2063" stop-color="#e6bb2d"/><stop offset="0.2222" stop-color="#dcbd29"/><stop offset="0.2381" stop-color="#d1bf27"/><stop offset="0.2540" stop-color="#c5c22a"/><stop offset="0.2698" stop-color="#b9c431"/><stop offset="0.2857" stop-color="#abc739"/><stop offset="0.3016" stop-color="#9dc943"/><stop offset="0.3175" stop-color="#8fcb4e"/><stop offset="0.3333" stop-color="#81cc59"/><stop offset="0.3492" stop-color="#72cd64"/><stop offset="0.3651" stop-color="#64cd6f"/><stop offset="0.3810" stop-color="#57cc7a"/><stop offset="0.3968" stop-color="#4acb84"/><stop offset="0.4127" stop-color="#3fca8e"/><stop offset="0.4286" stop-color="#37c897"/><stop offset="0.4444" stop-color="#31c69f"/><stop offset="0.4603" stop-color="#2cc4a7"/><stop offset="0.4762" stop-color="#24c1ae"/><stop offset="0.4921" stop-color="#19bfb6"/><stop offset="0.5079" stop-color="#0bbdbd"/><stop offset="0.5238" stop-color="#02bac3"/><stop offset="0.5397" stop-color="#01b8ca"/><stop offset="0.5556" stop-color="#08b5d0"/><stop offset="0.5714" stop-color="#12b1d6"/><stop offset="0.5873" stop-color="#18addb"/><stop offset="0.6032" stop-color="#1ca9df"/><stop offset="0.6190" stop-color="#20a5e3"/><stop offset="0.6349" stop-color="#23a0e5"/><stop offset="0.6508" stop-color="#259be8"/><stop offset="0.6667" stop-color="#2797eb"/><stop offset="0.6825" stop-color="#2b91ef"/><stop offset="0.6984" stop-color="#2d8cf3"/><stop offset="0.7143" stop-color="#2e87f7"/><stop offset="0.7302" stop-color="#2f81fa"/><stop offset="0.7460" stop-color="#327cfc"/><stop offset="0.7619" stop-color="#3875fe"/><stop offset="0.7778" stop-color="#3e6fff"/><stop offset="0.7937" stop-color="#4269fe"/><stop offset="0.8095" stop-color="#4563fd"/><stop offset="0.8254" stop-color="#465efb"/><stop offset="0.8413" stop-color="#4758f8"/><stop offset="0.8571" stop-color="#4852f4"/><stop offset="0.8730" stop-color="#484df0"/><stop offset="0.8889" stop-color="#4747eb"/><stop offset="0.9048" stop-color="#4741e5"/><stop offset="0.9206" stop-color="#463cde"/><stop offset="0.9365" stop-color="#4537d5"/><stop offset="0.9524" stop-color="#4332cb"/><stop offset="0.9683" stop-color="#422ec0"/><stop offset="0.9841" stop-color="#402ab4"/><stop offset="1.0000" stop-color="#3e26a8"/></linearGradient></defs><text x="20.90" y="151.50" font-size="8.50" text-anchor="end" font-weight="normal" fill="#303030" >0</text>
<text x="20.90" y="132.56" font-size="8.50" text-anchor="end" font-weight="normal" fill="#303030" >2</text>
<text x="20.90" y="113.61" font-size="8.50" text-anchor="end" font-weight="normal" fill="#303030" >4</text>
<text x="20.90" y="94.67" font-size="8.50" text-anchor="end" font-weight="normal" fill="#303030" >6</text>
<text x="20.90" y="75.73" font-size="8.50" text-anchor="end" font-weight="normal" fill="#303030" >8</text>
<text x="20.90" y="56.79" font-size="8.50" text-anchor="end" font-weight="normal" fill="#303030" >10</text>
<text x="20.90" y="37.84" font-size="8.50" text-anchor="end" font-weight="normal" fill="#303030" >12</text>
<text x="20.90" y="18.90" font-size="8.50" text-anchor="end" font-weight="normal" fill="#303030" >14</text>
<text x="24.00" y="160.60" font-size="8.50" text-anchor="middle" font-weight="normal" fill="#303030" >0</text>
<text x="76.10" y="160.60" font-size="8.50" text-anchor="middle" font-weight="normal" fill="#303030" >2</text>
<text x="128.20" y="160.60" font-size="8.50" text-anchor="middle" font-weight="normal" fill="#303030" >4</text>
<text x="180.30" y="160.60" font-size="8.50" text-anchor="middle" font-weight="normal" fill="#303030" >6</text>
<text x="102.15" y="174.10" font-size="10.00" text-anchor="middle" font-weight="normal" fill="#303030" >Length [mm]</text>
<text transform="translate(7.80 82.30) rotate(-90)" font-size="10" text-anchor="middle" fill="#303030">Time [min]</text>
<text x="79.70" y="8.20" font-size="9.50" font-family="Liberation Sans" font-weight="bold" fill="#000">C</text><text x="87.20" y="13.20" font-size="7.50" font-family="Liberation Sans" font-weight="bold" fill="#000">tPA</text><text x="103.70" y="8.20" font-size="9.50" font-family="Liberation Sans" font-weight="bold" fill="#000">[</text><text x="106.00" y="8.20" font-size="11.00" style="font-family:'Liberation Serif',serif;font-style:italic;font-weight:normal" fill="#000">μ</text><text x="112.80" y="8.20" font-size="9.50" font-family="Liberation Sans" font-weight="bold" fill="#000">M</text><text x="121.50" y="8.20" font-size="9.50" font-family="Liberation Sans" font-weight="bold" fill="#000">]</text>
<rect x="196.00" y="16.00" width="9.90" height="131.70" fill="url(#cbg)" stroke="#4a4a4a" stroke-opacity="0.7" stroke-width="0.5"/>
<line x1="204.30" x2="205.90" y1="147.80" y2="147.80" stroke="#333" stroke-width="0.5"/>
<text x="208.30" y="150.70" font-size="8.50" text-anchor="start" font-weight="normal" fill="#303030" >0</text>
<line x1="204.30" x2="205.90" y1="129.01" y2="129.01" stroke="#333" stroke-width="0.5"/>
<text x="208.30" y="131.91" font-size="8.50" text-anchor="start" font-weight="normal" fill="#303030" >0.005</text>
<line x1="204.30" x2="205.90" y1="110.23" y2="110.23" stroke="#333" stroke-width="0.5"/>
<text x="208.30" y="113.13" font-size="8.50" text-anchor="start" font-weight="normal" fill="#303030" >0.01</text>
<line x1="204.30" x2="205.90" y1="91.44" y2="91.44" stroke="#333" stroke-width="0.5"/>
<text x="208.30" y="94.34" font-size="8.50" text-anchor="start" font-weight="normal" fill="#303030" >0.015</text>
<line x1="204.30" x2="205.90" y1="72.66" y2="72.66" stroke="#333" stroke-width="0.5"/>
<text x="208.30" y="75.56" font-size="8.50" text-anchor="start" font-weight="normal" fill="#303030" >0.02</text>
<line x1="204.30" x2="205.90" y1="53.87" y2="53.87" stroke="#333" stroke-width="0.5"/>
<text x="208.30" y="56.77" font-size="8.50" text-anchor="start" font-weight="normal" fill="#303030" >0.025</text>
<line x1="204.30" x2="205.90" y1="35.09" y2="35.09" stroke="#333" stroke-width="0.5"/>
<text x="208.30" y="37.99" font-size="8.50" text-anchor="start" font-weight="normal" fill="#303030" >0.03</text>
<line x1="204.30" x2="205.90" y1="16.30" y2="16.30" stroke="#333" stroke-width="0.5"/>
<text x="208.30" y="19.20" font-size="8.50" text-anchor="start" font-weight="normal" fill="#303030" >0.035</text>
<text x="121.00" y="199.60" font-size="16" font-weight="bold" text-anchor="middle" fill="#000" style="font-family:'Liberation Serif',serif">a</text>
<text x="260.80" y="151.40" font-size="8.50" text-anchor="end" font-weight="normal" fill="#303030" >0</text>
<text x="260.80" y="132.44" font-size="8.50" text-anchor="end" font-weight="normal" fill="#303030" >2</text>
<text x="260.80" y="113.49" font-size="8.50" text-anchor="end" font-weight="normal" fill="#303030" >4</text>
<text x="260.80" y="94.53" font-size="8.50" text-anchor="end" font-weight="normal" fill="#303030" >6</text>
<text x="260.80" y="75.57" font-size="8.50" text-anchor="end" font-weight="normal" fill="#303030" >8</text>
<text x="260.80" y="56.61" font-size="8.50" text-anchor="end" font-weight="normal" fill="#303030" >10</text>
<text x="260.80" y="37.66" font-size="8.50" text-anchor="end" font-weight="normal" fill="#303030" >12</text>
<text x="260.80" y="18.70" font-size="8.50" text-anchor="end" font-weight="normal" fill="#303030" >14</text>
<text x="263.90" y="160.50" font-size="8.50" text-anchor="middle" font-weight="normal" fill="#303030" >0</text>
<text x="316.07" y="160.50" font-size="8.50" text-anchor="middle" font-weight="normal" fill="#303030" >2</text>
<text x="368.23" y="160.50" font-size="8.50" text-anchor="middle" font-weight="normal" fill="#303030" >4</text>
<text x="420.40" y="160.50" font-size="8.50" text-anchor="middle" font-weight="normal" fill="#303030" >6</text>
<text x="342.15" y="174.00" font-size="10.00" text-anchor="middle" font-weight="normal" fill="#303030" >Length [mm]</text>
<text transform="translate(247.70 82.15) rotate(-90)" font-size="10" text-anchor="middle" fill="#303030">Time [min]</text>
<text x="318.40" y="8.20" font-size="9.50" font-family="Liberation Sans" font-weight="bold" fill="#000">C</text><text x="325.60" y="13.20" font-size="7.50" font-family="Liberation Sans" font-weight="bold" fill="#000">PLG</text><text x="345.30" y="8.20" font-size="9.50" font-family="Liberation Sans" font-weight="bold" fill="#000">[</text><text x="347.80" y="8.20" font-size="11.00" style="font-family:'Liberation Serif',serif;font-style:italic;font-weight:normal" fill="#000">μ</text><text x="353.80" y="8.20" font-size="9.50" font-family="Liberation Sans" font-weight="bold" fill="#000">M</text><text x="363.20" y="8.20" font-size="9.50" font-family="Liberation Sans" font-weight="bold" fill="#000">]</text>
<rect x="436.20" y="16.20" width="9.50" height="130.70" fill="url(#cbg)" stroke="#4a4a4a" stroke-opacity="0.7" stroke-width="0.5"/>
<line x1="444.10" x2="445.70" y1="132.20" y2="132.20" stroke="#333" stroke-width="0.5"/>
<text x="448.10" y="135.10" font-size="8.50" text-anchor="start" font-weight="normal" fill="#303030" >1.9</text>
<line x1="444.10" x2="445.70" y1="113.52" y2="113.52" stroke="#333" stroke-width="0.5"/>
<text x="448.10" y="116.42" font-size="8.50" text-anchor="start" font-weight="normal" fill="#303030" >1.95</text>
<line x1="444.10" x2="445.70" y1="94.83" y2="94.83" stroke="#333" stroke-width="0.5"/>
<text x="448.10" y="97.73" font-size="8.50" text-anchor="start" font-weight="normal" fill="#303030" >2</text>
<line x1="444.10" x2="445.70" y1="76.15" y2="76.15" stroke="#333" stroke-width="0.5"/>
<text x="448.10" y="79.05" font-size="8.50" text-anchor="start" font-weight="normal" fill="#303030" >2.05</text>
<line x1="444.10" x2="445.70" y1="57.47" y2="57.47" stroke="#333" stroke-width="0.5"/>
<text x="448.10" y="60.37" font-size="8.50" text-anchor="start" font-weight="normal" fill="#303030" >2.1</text>
<line x1="444.10" x2="445.70" y1="38.78" y2="38.78" stroke="#333" stroke-width="0.5"/>
<text x="448.10" y="41.68" font-size="8.50" text-anchor="start" font-weight="normal" fill="#303030" >2.15</text>
<line x1="444.10" x2="445.70" y1="20.10" y2="20.10" stroke="#333" stroke-width="0.5"/>
<text x="448.10" y="23.00" font-size="8.50" text-anchor="start" font-weight="normal" fill="#303030" >2.2</text>
<text x="360.50" y="199.60" font-size="16" font-weight="bold" text-anchor="middle" fill="#000" style="font-family:'Liberation Serif',serif">b</text>
<text x="501.00" y="150.40" font-size="8.50" text-anchor="end" font-weight="normal" fill="#303030" >0</text>
<text x="501.00" y="131.61" font-size="8.50" text-anchor="end" font-weight="normal" fill="#303030" >2</text>
<text x="501.00" y="112.83" font-size="8.50" text-anchor="end" font-weight="normal" fill="#303030" >4</text>
<text x="501.00" y="94.04" font-size="8.50" text-anchor="end" font-weight="normal" fill="#303030" >6</text>
<text x="501.00" y="75.26" font-size="8.50" text-anchor="end" font-weight="normal" fill="#303030" >8</text>
<text x="501.00" y="56.47" font-size="8.50" text-anchor="end" font-weight="normal" fill="#303030" >10</text>
<text x="501.00" y="37.69" font-size="8.50" text-anchor="end" font-weight="normal" fill="#303030" >12</text>
<text x="501.00" y="18.90" font-size="8.50" text-anchor="end" font-weight="normal" fill="#303030" >14</text>
<text x="504.10" y="159.50" font-size="8.50" text-anchor="middle" font-weight="normal" fill="#303030" >0</text>
<text x="556.13" y="159.50" font-size="8.50" text-anchor="middle" font-weight="normal" fill="#303030" >2</text>
<text x="608.17" y="159.50" font-size="8.50" text-anchor="middle" font-weight="normal" fill="#303030" >4</text>
<text x="660.20" y="159.50" font-size="8.50" text-anchor="middle" font-weight="normal" fill="#303030" >6</text>
<text x="582.15" y="173.00" font-size="10.00" text-anchor="middle" font-weight="normal" fill="#303030" >Length [mm]</text>
<text transform="translate(487.90 81.75) rotate(-90)" font-size="10" text-anchor="middle" fill="#303030">Time [min]</text>
<text x="559.90" y="8.20" font-size="9.50" font-family="Liberation Sans" font-weight="bold" fill="#000">n</text><text x="565.60" y="13.20" font-size="7.50" font-family="Liberation Sans" font-weight="bold" fill="#000">tPA</text><text x="583.00" y="8.20" font-size="9.50" font-family="Liberation Sans" font-weight="bold" fill="#000">[</text><text x="585.70" y="8.20" font-size="11.00" style="font-family:'Liberation Serif',serif;font-style:italic;font-weight:normal" fill="#000">μ</text><text x="591.40" y="8.20" font-size="9.50" font-family="Liberation Sans" font-weight="bold" fill="#000">M</text><text x="601.30" y="8.20" font-size="9.50" font-family="Liberation Sans" font-weight="bold" fill="#000">]</text>
<rect x="675.70" y="16.10" width="9.60" height="130.90" fill="url(#cbg)" stroke="#4a4a4a" stroke-opacity="0.7" stroke-width="0.5"/>
<line x1="683.70" x2="685.30" y1="147.00" y2="147.00" stroke="#333" stroke-width="0.5"/>
<text x="687.70" y="149.90" font-size="8.50" text-anchor="start" font-weight="normal" fill="#303030" >0</text>
<line x1="683.70" x2="685.30" y1="118.70" y2="118.70" stroke="#333" stroke-width="0.5"/>
<text x="687.70" y="121.60" font-size="8.50" text-anchor="start" font-weight="normal" fill="#303030" >2</text>
<line x1="683.70" x2="685.30" y1="90.40" y2="90.40" stroke="#333" stroke-width="0.5"/>
<text x="687.70" y="93.30" font-size="8.50" text-anchor="start" font-weight="normal" fill="#303030" >4</text>
<line x1="683.70" x2="685.30" y1="62.10" y2="62.10" stroke="#333" stroke-width="0.5"/>
<text x="687.70" y="65.00" font-size="8.50" text-anchor="start" font-weight="normal" fill="#303030" >6</text>
<line x1="683.70" x2="685.30" y1="33.80" y2="33.80" stroke="#333" stroke-width="0.5"/>
<text x="687.70" y="36.70" font-size="8.50" text-anchor="start" font-weight="normal" fill="#303030" >8</text>
<text x="599.00" y="199.60" font-size="16" font-weight="bold" text-anchor="middle" fill="#000" style="font-family:'Liberation Serif',serif">c</text>
<text x="20.90" y="368.60" font-size="8.50" text-anchor="end" font-weight="normal" fill="#303030" >0</text>
<text x="20.90" y="350.10" font-size="8.50" text-anchor="end" font-weight="normal" fill="#303030" >2</text>
<text x="20.90" y="331.60" font-size="8.50" text-anchor="end" font-weight="normal" fill="#303030" >4</text>
<text x="20.90" y="313.10" font-size="8.50" text-anchor="end" font-weight="normal" fill="#303030" >6</text>
<text x="20.90" y="294.60" font-size="8.50" text-anchor="end" font-weight="normal" fill="#303030" >8</text>
<text x="20.90" y="276.10" font-size="8.50" text-anchor="end" font-weight="normal" fill="#303030" >10</text>
<text x="20.90" y="257.60" font-size="8.50" text-anchor="end" font-weight="normal" fill="#303030" >12</text>
<text x="20.90" y="239.10" font-size="8.50" text-anchor="end" font-weight="normal" fill="#303030" >14</text>
<text x="24.00" y="377.70" font-size="8.50" text-anchor="middle" font-weight="normal" fill="#303030" >0</text>
<text x="76.10" y="377.70" font-size="8.50" text-anchor="middle" font-weight="normal" fill="#303030" >2</text>
<text x="128.20" y="377.70" font-size="8.50" text-anchor="middle" font-weight="normal" fill="#303030" >4</text>
<text x="180.30" y="377.70" font-size="8.50" text-anchor="middle" font-weight="normal" fill="#303030" >6</text>
<text x="102.15" y="391.20" font-size="10.00" text-anchor="middle" font-weight="normal" fill="#303030" >Length [mm]</text>
<text transform="translate(7.80 300.95) rotate(-90)" font-size="10" text-anchor="middle" fill="#303030">Time [min]</text>
<text x="78.80" y="229.20" font-size="11.00" style="font-family:'Liberation Serif',serif;font-style:italic;font-weight:normal" fill="#000">ϕ</text><text x="84.90" y="233.20" font-size="7.50" font-family="Liberation Sans" font-weight="bold" fill="#000">FBR</text><text x="104.50" y="229.20" font-size="9.50" font-family="Liberation Sans" font-weight="bold" fill="#000">[</text><text x="106.90" y="229.20" font-size="9.50" font-family="Liberation Sans" font-weight="bold" fill="#000">m</text><text x="116.50" y="223.90" font-size="6.50" font-family="Liberation Sans" font-weight="bold" fill="#000">-2</text><text x="123.40" y="229.20" font-size="9.50" font-family="Liberation Sans" font-weight="bold" fill="#000">]</text>
<rect x="196.00" y="235.90" width="9.70" height="128.90" fill="url(#cbg)" stroke="#4a4a4a" stroke-opacity="0.7" stroke-width="0.5"/>
<line x1="204.10" x2="205.70" y1="365.00" y2="365.00" stroke="#333" stroke-width="0.5"/>
<text x="208.10" y="367.90" font-size="8.50" text-anchor="start" font-weight="normal" fill="#303030" >0</text>
<line x1="204.10" x2="205.70" y1="332.85" y2="332.85" stroke="#333" stroke-width="0.5"/>
<text x="208.10" y="335.75" font-size="8.50" text-anchor="start" font-weight="normal" fill="#303030" >0.005</text>
<line x1="204.10" x2="205.70" y1="300.70" y2="300.70" stroke="#333" stroke-width="0.5"/>
<text x="208.10" y="303.60" font-size="8.50" text-anchor="start" font-weight="normal" fill="#303030" >0.01</text>
<line x1="204.10" x2="205.70" y1="268.55" y2="268.55" stroke="#333" stroke-width="0.5"/>
<text x="208.10" y="271.45" font-size="8.50" text-anchor="start" font-weight="normal" fill="#303030" >0.015</text>
<line x1="204.10" x2="205.70" y1="236.40" y2="236.40" stroke="#333" stroke-width="0.5"/>
<text x="208.10" y="239.30" font-size="8.50" text-anchor="start" font-weight="normal" fill="#303030" >0.02</text>
<text x="121.30" y="417.50" font-size="16" font-weight="bold" text-anchor="middle" fill="#000" style="font-family:'Liberation Serif',serif">d</text>
<text x="260.90" y="368.50" font-size="8.50" text-anchor="end" font-weight="normal" fill="#303030" >0</text>
<text x="260.90" y="349.99" font-size="8.50" text-anchor="end" font-weight="normal" fill="#303030" >2</text>
<text x="260.90" y="331.47" font-size="8.50" text-anchor="end" font-weight="normal" fill="#303030" >4</text>
<text x="260.90" y="312.96" font-size="8.50" text-anchor="end" font-weight="normal" fill="#303030" >6</text>
<text x="260.90" y="294.44" font-size="8.50" text-anchor="end" font-weight="normal" fill="#303030" >8</text>
<text x="260.90" y="275.93" font-size="8.50" text-anchor="end" font-weight="normal" fill="#303030" >10</text>
<text x="260.90" y="257.41" font-size="8.50" text-anchor="end" font-weight="normal" fill="#303030" >12</text>
<text x="260.90" y="238.90" font-size="8.50" text-anchor="end" font-weight="normal" fill="#303030" >14</text>
<text x="264.00" y="377.60" font-size="8.50" text-anchor="middle" font-weight="normal" fill="#303030" >0</text>
<text x="316.00" y="377.60" font-size="8.50" text-anchor="middle" font-weight="normal" fill="#303030" >2</text>
<text x="368.00" y="377.60" font-size="8.50" text-anchor="middle" font-weight="normal" fill="#303030" >4</text>
<text x="420.00" y="377.60" font-size="8.50" text-anchor="middle" font-weight="normal" fill="#303030" >6</text>
<text x="342.00" y="391.10" font-size="10.00" text-anchor="middle" font-weight="normal" fill="#303030" >Length [mm]</text>
<text transform="translate(247.80 300.80) rotate(-90)" font-size="10" text-anchor="middle" fill="#303030">Time [min]</text>
<text x="318.80" y="229.20" font-size="11.00" style="font-family:'Liberation Serif',serif;font-style:italic;font-weight:normal" fill="#000">ϕ</text><text x="324.90" y="233.20" font-size="7.50" font-family="Liberation Sans" font-weight="bold" fill="#000">PLT</text><text x="343.50" y="229.20" font-size="9.50" font-family="Liberation Sans" font-weight="bold" fill="#000">[</text><text x="346.10" y="229.20" font-size="9.50" font-family="Liberation Sans" font-weight="bold" fill="#000">m</text><text x="355.00" y="223.90" font-size="6.50" font-family="Liberation Sans" font-weight="bold" fill="#000">-2</text><text x="362.60" y="229.20" font-size="9.50" font-family="Liberation Sans" font-weight="bold" fill="#000">]</text>
<rect x="436.40" y="236.00" width="9.60" height="129.00" fill="url(#cbg)" stroke="#4a4a4a" stroke-opacity="0.7" stroke-width="0.5"/>
<line x1="444.40" x2="446.00" y1="365.50" y2="365.50" stroke="#333" stroke-width="0.5"/>
<text x="448.40" y="368.40" font-size="8.50" text-anchor="start" font-weight="normal" fill="#303030" >0</text>
<line x1="444.40" x2="446.00" y1="343.93" y2="343.93" stroke="#333" stroke-width="0.5"/>
<text x="448.40" y="346.83" font-size="8.50" text-anchor="start" font-weight="normal" fill="#303030" >0.005</text>
<line x1="444.40" x2="446.00" y1="322.37" y2="322.37" stroke="#333" stroke-width="0.5"/>
<text x="448.40" y="325.27" font-size="8.50" text-anchor="start" font-weight="normal" fill="#303030" >0.01</text>
<line x1="444.40" x2="446.00" y1="300.80" y2="300.80" stroke="#333" stroke-width="0.5"/>
<text x="448.40" y="303.70" font-size="8.50" text-anchor="start" font-weight="normal" fill="#303030" >0.015</text>
<line x1="444.40" x2="446.00" y1="279.23" y2="279.23" stroke="#333" stroke-width="0.5"/>
<text x="448.40" y="282.13" font-size="8.50" text-anchor="start" font-weight="normal" fill="#303030" >0.02</text>
<line x1="444.40" x2="446.00" y1="257.67" y2="257.67" stroke="#333" stroke-width="0.5"/>
<text x="448.40" y="260.57" font-size="8.50" text-anchor="start" font-weight="normal" fill="#303030" >0.025</text>
<line x1="444.40" x2="446.00" y1="236.10" y2="236.10" stroke="#333" stroke-width="0.5"/>
<text x="448.40" y="239.00" font-size="8.50" text-anchor="start" font-weight="normal" fill="#303030" >0.03</text>
<text x="360.00" y="417.50" font-size="16" font-weight="bold" text-anchor="middle" fill="#000" style="font-family:'Liberation Serif',serif">e</text>
<text x="499.70" y="368.50" font-size="8.50" text-anchor="end" font-weight="normal" fill="#303030" >0</text>
<text x="499.70" y="349.57" font-size="8.50" text-anchor="end" font-weight="normal" fill="#303030" >2</text>
<text x="499.70" y="330.64" font-size="8.50" text-anchor="end" font-weight="normal" fill="#303030" >4</text>
<text x="499.70" y="311.71" font-size="8.50" text-anchor="end" font-weight="normal" fill="#303030" >6</text>
<text x="499.70" y="292.79" font-size="8.50" text-anchor="end" font-weight="normal" fill="#303030" >8</text>
<text x="499.70" y="273.86" font-size="8.50" text-anchor="end" font-weight="normal" fill="#303030" >10</text>
<text x="499.70" y="254.93" font-size="8.50" text-anchor="end" font-weight="normal" fill="#303030" >12</text>
<text x="499.70" y="236.00" font-size="8.50" text-anchor="end" font-weight="normal" fill="#303030" >14</text>
<text x="502.80" y="377.60" font-size="8.50" text-anchor="middle" font-weight="normal" fill="#303030" >0</text>
<text x="554.87" y="377.60" font-size="8.50" text-anchor="middle" font-weight="normal" fill="#303030" >2</text>
<text x="606.93" y="377.60" font-size="8.50" text-anchor="middle" font-weight="normal" fill="#303030" >4</text>
<text x="659.00" y="377.60" font-size="8.50" text-anchor="middle" font-weight="normal" fill="#303030" >6</text>
<text x="580.90" y="391.10" font-size="10.00" text-anchor="middle" font-weight="normal" fill="#303030" >Length [mm]</text>
<text transform="translate(486.60 299.35) rotate(-90)" font-size="10" text-anchor="middle" fill="#303030">Time [min]</text>
<text x="565.90" y="225.40" font-size="9.50" font-family="Liberation Sans" font-weight="bold" fill="#000">E</text><text x="572.80" y="230.80" font-size="7.00" font-family="Liberation Sans" font-weight="bold" fill="#000">L</text><text x="580.60" y="225.40" font-size="9.50" font-family="Liberation Sans" font-weight="bold" fill="#000">[%]</text>
<rect x="674.40" y="233.20" width="9.40" height="131.20" fill="url(#cbg)" stroke="#4a4a4a" stroke-opacity="0.7" stroke-width="0.5"/>
<line x1="682.20" x2="683.80" y1="364.80" y2="364.80" stroke="#333" stroke-width="0.5"/>
<text x="686.20" y="367.70" font-size="8.50" text-anchor="start" font-weight="normal" fill="#303030" >0</text>
<line x1="682.20" x2="683.80" y1="338.74" y2="338.74" stroke="#333" stroke-width="0.5"/>
<text x="686.20" y="341.64" font-size="8.50" text-anchor="start" font-weight="normal" fill="#303030" >20</text>
<line x1="682.20" x2="683.80" y1="312.68" y2="312.68" stroke="#333" stroke-width="0.5"/>
<text x="686.20" y="315.58" font-size="8.50" text-anchor="start" font-weight="normal" fill="#303030" >40</text>
<line x1="682.20" x2="683.80" y1="286.62" y2="286.62" stroke="#333" stroke-width="0.5"/>
<text x="686.20" y="289.52" font-size="8.50" text-anchor="start" font-weight="normal" fill="#303030" >60</text>
<line x1="682.20" x2="683.80" y1="260.56" y2="260.56" stroke="#333" stroke-width="0.5"/>
<text x="686.20" y="263.46" font-size="8.50" text-anchor="start" font-weight="normal" fill="#303030" >80</text>
<line x1="682.20" x2="683.80" y1="234.50" y2="234.50" stroke="#333" stroke-width="0.5"/>
<text x="686.20" y="237.40" font-size="8.50" text-anchor="start" font-weight="normal" fill="#303030" >100</text>
<text x="599.00" y="417.50" font-size="16" font-weight="bold" text-anchor="middle" fill="#000" style="font-family:'Liberation Serif',serif">f</text>
<rect x="318.6" y="236" width="101.4" height="1" fill="#a69ddc"/>
<text x="685.6" y="12.4" font-size="8.5" fill="#303030">×10<tspan font-size="6.5" dy="-3.8">-3</tspan></text></svg></body></html>
